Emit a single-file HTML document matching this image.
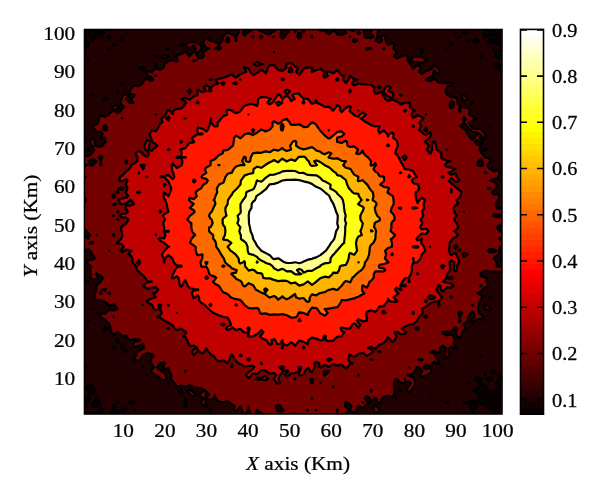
<!DOCTYPE html>
<html><head><meta charset="utf-8"><style>html,body{margin:0;padding:0;background:#fff;width:600px;height:497px;overflow:hidden}svg{display:block;filter:blur(0.35px)}</style></head>
<body><svg width="600" height="497" viewBox="0 0 600 497">
<defs><linearGradient id="hot" x1="0" y1="1" x2="0" y2="0"><stop offset="0.0000" stop-color="#0b0000"/><stop offset="0.0156" stop-color="#0b0000"/><stop offset="0.0156" stop-color="#150000"/><stop offset="0.0312" stop-color="#150000"/><stop offset="0.0312" stop-color="#200000"/><stop offset="0.0469" stop-color="#200000"/><stop offset="0.0469" stop-color="#2a0000"/><stop offset="0.0625" stop-color="#2a0000"/><stop offset="0.0625" stop-color="#350000"/><stop offset="0.0781" stop-color="#350000"/><stop offset="0.0781" stop-color="#400000"/><stop offset="0.0938" stop-color="#400000"/><stop offset="0.0938" stop-color="#4a0000"/><stop offset="0.1094" stop-color="#4a0000"/><stop offset="0.1094" stop-color="#550000"/><stop offset="0.1250" stop-color="#550000"/><stop offset="0.1250" stop-color="#600000"/><stop offset="0.1406" stop-color="#600000"/><stop offset="0.1406" stop-color="#6a0000"/><stop offset="0.1562" stop-color="#6a0000"/><stop offset="0.1562" stop-color="#750000"/><stop offset="0.1719" stop-color="#750000"/><stop offset="0.1719" stop-color="#800000"/><stop offset="0.1875" stop-color="#800000"/><stop offset="0.1875" stop-color="#8a0000"/><stop offset="0.2031" stop-color="#8a0000"/><stop offset="0.2031" stop-color="#950000"/><stop offset="0.2188" stop-color="#950000"/><stop offset="0.2188" stop-color="#9f0000"/><stop offset="0.2344" stop-color="#9f0000"/><stop offset="0.2344" stop-color="#aa0000"/><stop offset="0.2500" stop-color="#aa0000"/><stop offset="0.2500" stop-color="#b50000"/><stop offset="0.2656" stop-color="#b50000"/><stop offset="0.2656" stop-color="#bf0000"/><stop offset="0.2812" stop-color="#bf0000"/><stop offset="0.2812" stop-color="#ca0000"/><stop offset="0.2969" stop-color="#ca0000"/><stop offset="0.2969" stop-color="#d40000"/><stop offset="0.3125" stop-color="#d40000"/><stop offset="0.3125" stop-color="#df0000"/><stop offset="0.3281" stop-color="#df0000"/><stop offset="0.3281" stop-color="#ea0000"/><stop offset="0.3438" stop-color="#ea0000"/><stop offset="0.3438" stop-color="#f40000"/><stop offset="0.3594" stop-color="#f40000"/><stop offset="0.3594" stop-color="#ff0000"/><stop offset="0.3750" stop-color="#ff0000"/><stop offset="0.3750" stop-color="#ff0b00"/><stop offset="0.3906" stop-color="#ff0b00"/><stop offset="0.3906" stop-color="#ff1500"/><stop offset="0.4062" stop-color="#ff1500"/><stop offset="0.4062" stop-color="#ff2000"/><stop offset="0.4219" stop-color="#ff2000"/><stop offset="0.4219" stop-color="#ff2a00"/><stop offset="0.4375" stop-color="#ff2a00"/><stop offset="0.4375" stop-color="#ff3500"/><stop offset="0.4531" stop-color="#ff3500"/><stop offset="0.4531" stop-color="#ff4000"/><stop offset="0.4688" stop-color="#ff4000"/><stop offset="0.4688" stop-color="#ff4a00"/><stop offset="0.4844" stop-color="#ff4a00"/><stop offset="0.4844" stop-color="#ff5500"/><stop offset="0.5000" stop-color="#ff5500"/><stop offset="0.5000" stop-color="#ff6000"/><stop offset="0.5156" stop-color="#ff6000"/><stop offset="0.5156" stop-color="#ff6a00"/><stop offset="0.5312" stop-color="#ff6a00"/><stop offset="0.5312" stop-color="#ff7500"/><stop offset="0.5469" stop-color="#ff7500"/><stop offset="0.5469" stop-color="#ff8000"/><stop offset="0.5625" stop-color="#ff8000"/><stop offset="0.5625" stop-color="#ff8a00"/><stop offset="0.5781" stop-color="#ff8a00"/><stop offset="0.5781" stop-color="#ff9500"/><stop offset="0.5938" stop-color="#ff9500"/><stop offset="0.5938" stop-color="#ff9f00"/><stop offset="0.6094" stop-color="#ff9f00"/><stop offset="0.6094" stop-color="#ffaa00"/><stop offset="0.6250" stop-color="#ffaa00"/><stop offset="0.6250" stop-color="#ffb500"/><stop offset="0.6406" stop-color="#ffb500"/><stop offset="0.6406" stop-color="#ffbf00"/><stop offset="0.6562" stop-color="#ffbf00"/><stop offset="0.6562" stop-color="#ffca00"/><stop offset="0.6719" stop-color="#ffca00"/><stop offset="0.6719" stop-color="#ffd400"/><stop offset="0.6875" stop-color="#ffd400"/><stop offset="0.6875" stop-color="#ffdf00"/><stop offset="0.7031" stop-color="#ffdf00"/><stop offset="0.7031" stop-color="#ffea00"/><stop offset="0.7188" stop-color="#ffea00"/><stop offset="0.7188" stop-color="#fff400"/><stop offset="0.7344" stop-color="#fff400"/><stop offset="0.7344" stop-color="#ffff00"/><stop offset="0.7500" stop-color="#ffff00"/><stop offset="0.7500" stop-color="#ffff10"/><stop offset="0.7656" stop-color="#ffff10"/><stop offset="0.7656" stop-color="#ffff20"/><stop offset="0.7812" stop-color="#ffff20"/><stop offset="0.7812" stop-color="#ffff30"/><stop offset="0.7969" stop-color="#ffff30"/><stop offset="0.7969" stop-color="#ffff40"/><stop offset="0.8125" stop-color="#ffff40"/><stop offset="0.8125" stop-color="#ffff50"/><stop offset="0.8281" stop-color="#ffff50"/><stop offset="0.8281" stop-color="#ffff60"/><stop offset="0.8438" stop-color="#ffff60"/><stop offset="0.8438" stop-color="#ffff70"/><stop offset="0.8594" stop-color="#ffff70"/><stop offset="0.8594" stop-color="#ffff80"/><stop offset="0.8750" stop-color="#ffff80"/><stop offset="0.8750" stop-color="#ffff8f"/><stop offset="0.8906" stop-color="#ffff8f"/><stop offset="0.8906" stop-color="#ffff9f"/><stop offset="0.9062" stop-color="#ffff9f"/><stop offset="0.9062" stop-color="#ffffaf"/><stop offset="0.9219" stop-color="#ffffaf"/><stop offset="0.9219" stop-color="#ffffbf"/><stop offset="0.9375" stop-color="#ffffbf"/><stop offset="0.9375" stop-color="#ffffcf"/><stop offset="0.9531" stop-color="#ffffcf"/><stop offset="0.9531" stop-color="#ffffdf"/><stop offset="0.9688" stop-color="#ffffdf"/><stop offset="0.9688" stop-color="#ffffef"/><stop offset="0.9844" stop-color="#ffffef"/><stop offset="0.9844" stop-color="#ffffff"/><stop offset="1.0000" stop-color="#ffffff"/></linearGradient><clipPath id="cp"><rect x="84" y="29" width="418" height="385"/></clipPath></defs>
<g clip-path="url(#cp)"><path fill="#0b0000" d="M84,414L88.2,414 92.4,414 96.7,414 99.6,414 100.9,413.3 103.5,410.1 100.9,407.3 98.7,410.1 96.7,412.7 92.4,413.3 88.2,411.9 84,412.2 84,414ZM108.6,414L109.3,414 113.6,414 117.8,414 121.7,414 122,412.2 126.2,410.6 126.9,410.1 126.2,407.7 122,409.6 121.2,410.1 117.8,411.2 113.6,410.3 109.3,413.2 108.6,414ZM133.9,410.1L134.7,411.1 135.2,410.1 134.7,409.6 133.9,410.1ZM462.7,414L464,414 466.9,414 464,412.6 462.7,414ZM471.3,410.1L472.4,412.1 474.8,410.1 476.7,407.2 477.3,406.2 476.7,404.9 476.1,402.3 472.4,400.5 468.4,402.3 470.8,406.2 471.3,410.1ZM495.6,414L497.8,414 502,414 502,410.1 502,406.2 502,402.3 502,398.4 502,394.6 502,390.7 502,386.8 502,382.9 502,379 502,375.1 502,373.3 497.8,374.9 497.4,375.1 497.8,375.3 499.4,379 497.8,381.1 495.8,382.9 497.8,384.4 500.6,386.8 497.8,388.5 493.8,390.7 493.6,391.5 489.3,392.6 488.5,390.7 487,386.8 485.1,386.1 481.4,382.9 481.7,379 480.9,378.6 476.7,376 474.9,379 476.7,380.4 479.9,382.9 479.8,386.8 476.7,388.3 472.9,390.7 476.7,391.9 479.5,394.6 478.6,398.4 478.8,402.3 480.9,403.3 485.1,405.2 485.6,406.2 489.3,409.6 493.6,409.8 494.1,410.1 495.6,414ZM485.1,395L484.7,394.6 485.1,394.3 485.9,394.6 485.1,395ZM489.3,398.6L489,398.4 489.3,398 493.6,398.3 497.8,397.5 499.2,398.4 497.8,399.6 493.6,398.5 489.3,398.6ZM84,406.2L84,408.4 86.4,406.2 87.2,402.3 84,401.4 84,402.3 84,406.2ZM91.7,406.2L92.4,406.8 96.7,406.8 97.9,406.2 100,402.3 97.5,398.4 96.7,396.6 95.3,398.4 94,402.3 92.4,405.1 91.7,406.2ZM112.8,406.2L113.6,409.5 114.7,406.2 113.6,404.6 112.8,406.2ZM117.2,402.3L117.8,402.6 118.8,402.3 117.8,402.2 117.2,402.3ZM129.7,402.3L130.4,404.1 134.7,402.8 135.1,402.3 134.7,402 130.4,401.9 129.7,402.3ZM445.7,402.3L447.1,403.4 448.4,402.3 447.1,402 445.7,402.3ZM463.6,402.3L464,403.4 467.5,402.3 464,402 463.6,402.3ZM87.1,398.4L88.2,401.5 90.3,398.4 88.2,395.5 87.1,398.4ZM90.9,394.6L92.4,395.1 93.5,394.6 95,390.7 92.9,386.8 92.4,385.2 88.2,386.2 85.3,386.8 87.8,390.7 88.2,391.3 90.9,394.6ZM467.5,382.9L468.2,383.5 469.9,382.9 468.2,382.2 467.5,382.9ZM84,379L84,379.3 84.6,379 84,378.1 84,379ZM486.6,379L489.3,381.8 492.4,379 489.3,376.9 486.6,379ZM484.6,375.1L485.1,376 485.8,375.1 485.1,374.1 484.6,375.1ZM491.6,371.2L493.6,373.7 495.7,371.2 493.6,370.1 491.6,371.2ZM84,367.3L84,369.7 86.5,367.3 84,365.2 84,367.3ZM480.4,355.7L480.9,356.3 481.5,355.7 480.9,355.3 480.4,355.7ZM84,99L84,99.8 84.6,99 84,98.3 84,99ZM90.9,95.1L92.4,95.7 93.2,95.1 92.4,93.5 90.9,95.1ZM84,83.4L84,83.9 84.5,83.4 84,82.8 84,83.4ZM500.9,75.7L502,76.8 502,75.7 502,71.8 502,67.9 502,66.8 497.9,64 497.8,63.9 493.6,63.8 493.4,64 493.6,64.9 496.1,67.9 497.8,68.1 501.5,71.8 500.9,75.7ZM87.8,60.1L88.2,60.4 88.6,60.1 88.2,59.8 87.8,60.1ZM480.3,56.2L480.9,57.9 482.1,56.2 480.9,55.7 480.3,56.2ZM495.5,56.2L497.8,57.5 502,58.6 502,56.2 502,52.3 502,51.3 497.8,49.6 495.4,52.3 495.5,56.2ZM84,52.3L84,55.1 85.8,52.3 85.2,48.4 84,45.8 84,48.4 84,52.3ZM108.2,48.4L109.3,49.3 110,48.4 109.3,47.6 108.2,48.4ZM446.9,48.4L447.1,48.7 447.4,48.4 447.1,48 446.9,48.4ZM493.3,48.4L493.6,48.7 494,48.4 493.6,48.1 493.3,48.4ZM85.1,44.6L88.2,46 89.4,44.6 88.2,42.4 86.8,40.7 84,37.2 84,40.7 84,43.9 85.1,44.6ZM113.2,44.6L113.6,44.8 115.3,44.6 113.6,44.2 113.2,44.6ZM450.4,44.6L451.3,45.1 452.1,44.6 451.3,43.2 450.4,44.6ZM498.5,44.6L502,46.7 502,44.6 502,40.7 502,36.8 502,32.9 502,29 497.8,29 493.6,29 489.3,29 487,29 485.1,30.8 483.7,32.9 484,36.8 485.1,37.7 486.3,36.8 489.3,35.2 493.6,35 496.1,36.8 493.6,38.9 489.3,39 487.8,40.7 489.3,43.4 493.6,42.9 497.8,44.3 498.5,44.6ZM92.2,40.7L92.4,40.8 92.6,40.7 95.9,36.8 95,32.9 96.7,31.1 97.7,32.9 100.9,36.6 103.9,32.9 103.5,29 100.9,29 96.7,29 94.1,29 92.4,30.2 89,29 88.2,29 87.5,29 84,30 84,32.9 84,36.1 88.2,34.3 90.7,36.8 92.2,40.7ZM120.2,40.7L122,41.2 122.9,40.7 122.4,36.8 122,36.7 121.9,36.8 120.2,40.7ZM468.1,40.7L468.2,40.9 469.6,40.7 468.2,40.5 468.1,40.7ZM472.8,40.7L476.7,42.9 478.5,40.7 476.7,39.1 472.8,40.7ZM107,36.8L109.3,39.4 110.7,36.8 109.3,35.5 107,36.8ZM459.1,36.8L459.8,37.2 460.3,36.8 459.8,35.8 459.1,36.8ZM126.2,32.9L126.2,33.1 126.3,32.9 126.2,32.8 126.2,32.9ZM455.3,32.9L455.6,33.2 456.1,32.9 455.6,32.7 455.3,32.9ZM462.1,32.9L464,33.8 466.7,32.9 464,31.2 462.1,32.9ZM107.4,29L109.3,30.7 111.9,29 109.3,29 107.4,29ZM471.8,29L472.4,29.9 473,29 472.4,29 471.8,29Z"/>
<path fill="#200000" d="M84,410.1L84,412.2 88.2,411.9 92.4,413.3 96.7,412.7 98.7,410.1 100.9,407.3 103.5,410.1 100.9,413.3 99.6,414 100.9,414 105.1,414 108.6,414 109.3,413.2 113.6,410.3 117.8,411.2 121.2,410.1 122,409.6 126.2,407.7 126.9,410.1 126.2,410.6 122,412.2 121.7,414 122,414 126.2,414 130.4,414 134.7,414 138.9,414 143.1,414 147.3,414 151.6,414 155.8,414 160,414 164.2,414 168.4,414 172.7,414 176.9,414 181.1,414 185.3,414 189.6,414 193.8,414 198,414 202.2,414 206.4,414 210.7,414 214.9,414 219.1,414 223.3,414 227.6,414 231.8,414 236,414 240.2,414 242.9,414 242,410.1 240.2,406.5 237.3,410.1 236,411.6 233.9,410.1 234.7,406.2 231.8,404.5 229.6,402.3 227.6,401.1 223.5,402.3 223.3,402.7 222.8,402.3 219.1,401.9 215.5,398.4 214.9,394.9 213.9,398.4 210.7,399.8 206.4,399.1 205.1,402.3 206.4,404.9 207.2,406.2 206.4,407.1 205.2,406.2 202.2,404.8 200.7,402.3 202.2,399.8 205.8,398.4 202.2,397.6 199.1,394.6 202.2,391.8 205.8,390.7 202.2,388.8 198,387.8 193.8,387.5 192.9,386.8 189.6,384.9 185.3,386.7 181.1,385.6 176.9,386.7 174.3,382.9 172.7,380.6 170.7,379 171.4,375.1 169.4,371.2 168.4,368.1 164.2,369.5 162.8,367.3 164.2,365.3 165,363.4 164.2,362.4 160.2,363.4 160,363.5 156.9,367.3 160,370.2 162,371.2 164.2,372.8 165.6,375.1 166.4,379 164.2,380.6 160.9,379 160,377.8 155.8,375.3 155.3,375.1 151.6,372.1 150.9,371.2 151.6,370.2 154.2,367.3 151.6,363.9 151.3,363.4 151.1,359.6 151.6,358.5 153.7,355.7 151.6,354.2 147.3,353 143.1,355.3 142.8,355.7 140.3,359.6 138.9,360.7 134.7,360.4 134.2,359.6 134.7,357.6 136,355.7 137.2,351.8 138.9,351 143.1,348.6 144,347.9 143.4,344 143.1,343.6 142.8,344 138.9,345.8 134.7,347.3 133,344 134.7,341.3 138.9,341 140.1,340.1 138.9,339.5 134.7,339 131.7,340.1 130.4,340.5 129.5,340.1 126.8,336.2 126.2,335.7 122,336 118.2,332.3 117.8,331.6 116.8,332.3 113.6,335.6 111.6,332.3 110.6,328.4 109.6,324.6 109.3,324.3 105.8,320.7 105.1,319.4 100.9,317.6 100,316.8 100.9,313.5 105.1,313.7 105.6,312.9 109.3,309.9 113.6,310.5 117.5,309 114.7,305.1 113.6,304.3 111,305.1 109.3,306.4 108.8,305.1 105.1,302.2 103.2,301.2 100.9,300.2 96.7,300.4 94.2,297.3 95,293.4 96.7,289.6 96.8,289.6 96.7,289.4 96,285.7 96.7,285.2 100.5,281.8 100.9,281.3 102.8,277.9 100.9,275.6 97.1,274 96.7,273.5 95.9,274 96.7,274.7 97.8,277.9 96.7,278.8 92.4,279.6 90.3,277.9 91,274 90.3,270.1 91.3,266.2 88.2,264.4 86.3,262.3 88.2,260.5 92.4,259.7 94.8,258.4 92.5,254.6 92.4,254.5 90.3,250.7 88.2,249 86,250.7 84,252.4 84,254.6 84,258.4 84,262.3 84,266.2 84,270.1 84,274 84,277.9 84,281 87.8,281.8 84,283.8 84,285.7 84,289.6 84,293.4 84,297.3 84,301.2 84,305.1 84,309 84,312.9 84,316.8 84,320.7 84,324.6 84,328.4 84,332.3 84,336.2 84,340.1 84,344 84,347.9 84,351.8 84,355.7 84,359.6 84,363.4 84,365.2 86.5,367.3 84,369.7 84,371.2 84,375.1 84,378.1 84.6,379 84,379.3 84,382.9 84,386.8 84,390.7 84,394.6 84,398.4 84,401.4 87.2,402.3 86.4,406.2 84,408.4 84,410.1ZM88.2,401.5L87.1,398.4 88.2,395.5 90.3,398.4 88.2,401.5ZM92.4,406.8L91.7,406.2 92.4,405.1 94,402.3 95.3,398.4 96.7,396.6 97.5,398.4 100,402.3 97.9,406.2 96.7,406.8 92.4,406.8ZM105.1,330.6L103.4,328.4 105.1,327.2 107.5,328.4 105.1,330.6ZM113.6,409.5L112.8,406.2 113.6,404.6 114.7,406.2 113.6,409.5ZM117.8,402.6L117.2,402.3 117.8,402.2 118.8,402.3 117.8,402.6ZM122,349.6L120.8,347.9 122,344.3 124.6,347.9 122,349.6ZM126.2,352.1L125.2,351.8 126.2,350.2 126.6,351.8 126.2,352.1ZM130.4,404.1L129.7,402.3 130.4,401.9 134.7,402 135.1,402.3 134.7,402.8 130.4,404.1ZM134.7,411.1L133.9,410.1 134.7,409.6 135.2,410.1 134.7,411.1ZM143.1,367.5L142.9,367.3 143.1,366.6 143.3,367.3 143.1,367.5ZM147.3,375.2L147.3,375.1 147.4,375.1 147.3,375.2ZM168.4,383.8L167.6,382.9 168.4,381.9 169.4,382.9 168.4,383.8ZM181.1,395.6L180.5,394.6 178.6,390.7 181.1,389.5 181.9,390.7 182.5,394.6 181.1,395.6ZM185.3,406.9L184.5,406.2 184.6,402.3 185.3,398.9 186.7,402.3 186.6,406.2 185.3,406.9ZM193.8,396.5L190,394.6 189.6,394 187.7,390.7 189.6,389.1 191.1,390.7 193.8,392.7 196.4,394.6 193.8,396.5ZM210.7,411.5L209.2,410.1 210.7,409 211.4,410.1 210.7,411.5ZM92.4,395.1L90.9,394.6 88.2,391.3 87.8,390.7 85.3,386.8 88.2,386.2 92.4,385.2 92.9,386.8 95,390.7 93.5,394.6 92.4,395.1ZM96.7,312.9 96.7,312.8 97.2,312.9 96.7,312.9ZM113.6,348.9L112.2,347.9 113.6,346.7 115,347.9 113.6,348.9ZM117.8,343.5L115.8,340.1 117.8,339.1 118.5,340.1 117.8,343.5ZM88.2,321.4L87.9,320.7 88.2,320.2 89.7,320.7 88.2,321.4ZM92.4,309.3L92.1,309 92.4,308.6 93.7,309 92.4,309.3ZM244.6,414L248.7,414 251,414 248.9,410.1 248.8,406.2 248.7,406.1 248.6,406.2 248.6,410.1 244.6,414ZM255.9,414L257.1,414 261.3,414 264.5,414 261.3,413.2 257.4,410.1 257.1,410 256.8,410.1 255.9,414ZM277,410.1L278.2,411.6 282.4,411.4 283.6,410.1 282.4,409.2 280.5,406.2 278.2,404.4 276,406.2 277,410.1ZM290.2,414L290.9,414 295.1,414 295.2,414 295.1,413.7 290.9,413.8 290.2,414ZM307.2,410.1L307.8,410.4 308,410.1 307.8,409.3 307.2,410.1ZM315.8,410.1L316.2,410.4 316.5,410.1 316.2,409.9 315.8,410.1ZM320.2,414L320.4,414 320.9,414 320.4,413.8 320.2,414ZM336.8,410.1L337.3,411.8 337.9,410.1 337.3,409.6 336.8,410.1ZM345.4,414L345.8,414 350,414 354.2,414 358.4,414 362.7,414 366.9,414 371.1,414 375.3,414 379.6,414 383.8,414 388,414 392.2,414 396.4,414 400.7,414 404.9,414 409.1,414 413.3,414 417.6,414 421.8,414 426,414 430.2,414 434.4,414 438.7,414 442.9,414 447.1,414 451.3,414 455.6,414 459.8,414 462.7,414 464,412.6 466.9,414 468.2,414 472.4,414 476.7,414 480.9,414 485.1,414 489.3,414 493.6,414 495.6,414 494.1,410.1 493.6,409.8 489.3,409.6 485.6,406.2 485.1,405.2 480.9,403.3 478.8,402.3 478.6,398.4 479.5,394.6 476.7,391.9 472.9,390.7 476.7,388.3 479.8,386.8 479.9,382.9 476.7,380.4 474.9,379 476.7,376 480.9,378.6 481.7,379 481.4,382.9 485.1,386.1 487,386.8 488.5,390.7 489.3,392.6 493.6,391.5 493.8,390.7 497.8,388.5 500.6,386.8 497.8,384.4 495.8,382.9 497.8,381.1 499.4,379 497.8,375.3 497.4,375.1 497.8,374.9 502,373.3 502,371.2 502,367.3 502,363.4 502,359.6 502,355.7 502,351.8 502,347.9 502,344 502,340.1 502,336.2 502,332.3 502,328.4 502,324.6 502,320.7 502,316.8 502,312.9 502,309 502,305.1 502,301.2 502,297.3 502,293.4 502,289.6 502,285.7 502,281.8 502,277.9 502,274 502,272.6 497.8,271.6 493.6,271.6 489.3,271.6 485.1,270.6 480.9,273.3 480.4,274 480.9,276.3 485.1,277.4 486.7,277.9 486.3,281.8 488.9,285.7 485.1,287.2 482.5,289.6 480.9,291.7 477.4,293.4 480.9,295.3 482.3,297.3 480.9,299.8 479.9,301.2 478.6,305.1 478.5,309 478.7,312.9 480.9,314.4 483.9,316.8 480.9,318.7 476.7,319.3 474.8,320.7 472.4,322.1 468.7,320.7 472.4,319.1 474.6,316.8 473.9,312.9 472.4,311.6 471.1,312.9 468.3,316.8 468.2,317.7 468,320.7 464,324.2 463,324.6 464,325.6 466.2,328.4 464,330 462.1,332.3 461.4,336.2 459.8,337.6 456.5,336.2 455.9,332.3 457.2,328.4 455.6,327.4 454.3,328.4 451.3,331.7 447.1,331.8 442.9,331.8 442.2,332.3 442.9,333.4 447.1,335.4 451.3,334.4 453.6,336.2 454.5,340.1 453.6,344 455.6,346.4 456.4,347.9 455.6,348.4 453.3,347.9 451.3,346.7 449.1,347.9 448.3,351.8 449,355.7 447.1,357.6 444.5,355.7 445.4,351.8 446,347.9 442.9,345.7 440.1,347.9 440.1,351.8 438.7,352.8 436,351.8 434.4,350.7 430.2,351.7 430.2,351.8 430.2,351.9 434.4,353.6 435.3,355.7 437.4,359.6 438.7,361.5 439.4,363.4 438.7,364.3 437.2,363.4 434.4,361.7 432.2,363.4 430.2,366.9 426,364.1 423.2,367.3 426,369.1 430.2,367.6 431.4,371.2 430.2,373.5 426.8,375.1 426,376 421.8,376.4 419.4,375.1 421.8,372.6 422.3,371.2 421.8,370.2 418.5,367.3 417.6,367 416.9,367.3 414.9,371.2 413.3,373.4 409.1,374.5 407.4,375.1 409.1,375.7 413.3,377.7 414.7,379 415.1,382.9 414,386.8 413.3,387.6 410.8,390.7 409.1,393.1 407.2,390.7 407.6,386.8 409.1,386 410.8,382.9 409.1,381 405.2,382.9 404.9,383.4 402.4,382.9 400.7,382.8 396.7,379 396.4,378.8 395.5,379 394,382.9 394.5,386.8 394.2,390.7 394.5,394.6 392.2,397 388,395.9 383.8,397 381.8,398.4 380.9,402.3 379.6,403.8 377.8,402.3 375.9,398.4 375.3,398.2 374.5,398.4 371.1,401.8 369.9,398.4 366.9,395.8 364.9,398.4 366.9,401.4 370.4,402.3 366.9,403.9 365,406.2 362.7,407.9 359.2,406.2 358.4,405.9 358,406.2 356.9,410.1 354.2,413 350,410.1 351.4,406.2 350,404.6 347.2,402.3 345.8,401.6 345.3,402.3 344.9,406.2 345.8,406.8 349.9,410.1 345.8,413.7 345.4,414ZM375.3,413.1L373.2,410.1 374,406.2 375.3,405.2 376.4,406.2 379.6,409.1 381,410.1 379.6,410.9 375.3,413.1ZM396.4,398.5L396.1,398.4 396.4,398.2 396.7,398.4 396.4,398.5ZM400.7,391.2L399.6,390.7 400.7,389.8 401.7,390.7 400.7,391.2ZM430.2,394.6L430.1,394.6 430.2,394.4 430.3,394.6 430.2,394.6ZM442.9,367.6L442.5,367.3 442.9,367.1 443.2,367.3 442.9,367.6ZM447.1,403.4L445.7,402.3 447.1,402 448.4,402.3 447.1,403.4ZM464,403.4L463.6,402.3 464,402 467.5,402.3 464,403.4ZM468.2,383.5L467.5,382.9 468.2,382.2 469.9,382.9 468.2,383.5ZM472.4,412.1L471.3,410.1 470.8,406.2 468.4,402.3 472.4,400.5 476.1,402.3 476.7,404.9 477.3,406.2 476.7,407.2 474.8,410.1 472.4,412.1ZM480.9,356.3L480.4,355.7 480.9,355.3 481.5,355.7 480.9,356.3ZM485.1,376L484.6,375.1 485.1,374.1 485.8,375.1 485.1,376ZM489.3,381.8L486.6,379 489.3,376.9 492.4,379 489.3,381.8ZM493.6,373.7L491.6,371.2 493.6,370.1 495.7,371.2 493.6,373.7ZM485.1,320.9L484.9,320.7 485.1,320.2 485.3,320.7 485.1,320.9ZM485.1,309.1L485,309 484.2,305.1 485.1,304.4 486.1,305.1 489.3,307.2 491.1,309 489.3,310.6 485.1,309.1ZM489.3,297.9L489,297.3 489.3,296.3 490.4,297.3 489.3,297.9ZM362.5,402.3L362.7,402.6 363.2,402.3 362.7,402.2 362.5,402.3ZM311.6,398.4L312,398.6 312.2,398.4 312,398.3 311.6,398.4ZM489,398.4L489.3,398.6 493.6,398.5 497.8,399.6 499.2,398.4 497.8,397.5 493.6,398.3 489.3,398 489,398.4ZM205.7,394.6L206.4,397.7 209.3,394.6 206.4,391.6 205.7,394.6ZM484.7,394.6L485.1,395 485.9,394.6 485.1,394.3 484.7,394.6ZM370.6,390.7L371.1,391.8 371.7,390.7 371.1,389.7 370.6,390.7ZM404.8,379L404.9,380.4 405,379 404.9,378.5 404.8,379ZM184.6,371.2L185.3,371.8 185.9,371.2 185.3,370.8 184.6,371.2ZM408.9,367.3L409.1,367.5 409.3,367.3 409.1,367.2 408.9,367.3ZM418.1,359.6L421.8,360.8 422.7,359.6 421.8,359 418.1,359.6ZM458.9,320.7L459.8,322.3 460.5,320.7 460.1,316.8 462.2,312.9 459.8,311.6 458.2,312.9 459.7,316.8 458.9,320.7ZM113.4,316.8L113.6,316.9 113.6,316.8 113.6,316.6 113.4,316.8ZM472.3,305.1L472.4,305.5 472.7,305.1 472.4,304.9 472.3,305.1ZM99.8,293.4L100.9,293.7 101.7,293.4 100.9,291.7 99.8,293.4ZM107.7,293.4L109.3,293.9 110.3,293.4 109.3,292.6 107.7,293.4ZM102.4,289.6L105.1,290.9 105.9,289.6 105.1,288.9 102.4,289.6ZM480.3,285.7L480.9,286.4 481.7,285.7 480.9,284.3 480.3,285.7ZM496.7,266.2L497.8,266.9 500.5,266.2 502,263.7 502,262.3 502,261.9 500.5,258.4 502,256.2 502,254.6 502,250.7 502,246.8 502,246.1 500,246.8 499.1,250.7 498.3,254.6 497.8,254.8 493.7,258.4 496.7,262.3 496.7,266.2ZM488.1,250.7L489.3,252.2 493.6,252.3 496.5,250.7 493.6,249.4 489.3,248.9 488.1,250.7ZM84,246.8L84,247.3 84.4,246.8 84,246.4 84,246.8ZM89.1,242.9L92.4,243.7 93,242.9 92.4,241.9 89.1,242.9ZM499.2,239L502,240.8 502,239 502,236.6 499.2,239ZM84.2,235.1L88.2,238.7 89.9,235.1 88.2,232.6 86.4,231.2 84,228.3 84,231.2 84,234.9 84.2,235.1ZM96.5,235.1L96.7,235.2 97,235.1 96.7,235 96.5,235.1ZM500.2,231.2L502,232.8 502,231.2 502,227.3 502,225.2 497.8,225.8 497.2,227.3 497.8,228.5 500.2,231.2ZM493.1,215.7L493.6,216 497.8,217.3 501.4,215.7 497.8,214 493.6,214.6 493.1,215.7ZM502,211.8ZM497,207.9L497.8,208.9 501.1,207.9 502,206.7 502,204 502,200.1 502,196.2 502,192.3 502,188.4 502,184.6 502,181.2 500.4,180.7 502,180.2 502,176.8 502,172.9 502,169 502,165.1 502,161.2 502,157.3 502,153.4 502,149.6 502,145.7 502,141.8 502,137.9 502,134 502,130.1 502,126.2 502,122.3 502,118.4 502,114.6 502,110.7 502,106.8 502,102.9 502,99 502,95.1 502,91.2 502,87.3 502,83.4 502,79.6 502,76.8 500.9,75.7 501.5,71.8 497.8,68.1 496.1,67.9 493.6,64.9 493.4,64 493.6,63.8 497.8,63.9 497.9,64 502,66.8 502,64 502,60.1 502,58.6 497.8,57.5 495.5,56.2 495.4,52.3 497.8,49.6 502,51.3 502,48.4 502,46.7 498.5,44.6 497.8,44.3 493.6,42.9 489.3,43.4 487.8,40.7 489.3,39 493.6,38.9 496.1,36.8 493.6,35 489.3,35.2 486.3,36.8 485.1,37.7 484,36.8 483.7,32.9 485.1,30.8 487,29 485.1,29 480.9,29 476.7,29 473,29 472.4,29.9 471.8,29 468.2,29 464,29 459.8,29 455.6,29 451.3,29 447.1,29 442.9,29 438.7,29 434.4,29 430.2,29 426,29 421.8,29 417.6,29 413.3,29 409.1,29 404.9,29 400.7,29 396.4,29 392.2,29 388,29 383.8,29 379.6,29 379,29 377.7,32.9 377.4,36.8 375.6,40.7 379.6,42.8 382,40.7 380.5,36.8 383.8,35.4 385.5,36.8 385.6,40.7 387.6,44.6 388,44.9 388.8,44.6 392.2,43.3 394.7,44.6 393.3,48.4 396.4,52.2 396.9,52.3 396.4,52.8 393.9,56.2 396.4,58.2 400.7,56.7 402.1,56.2 404.9,55.3 407.8,56.2 407.7,60.1 409.1,62.3 410.1,64 412.8,67.9 413.3,68.9 413.8,67.9 417.6,64.8 421,67.9 419.1,71.8 421.8,74 425,71.8 426,71.1 430.2,69.6 432.5,67.9 434.4,64 434.4,63.9 434.5,64 437.2,67.9 438.7,68.7 440.1,71.8 438.7,74.3 435.4,71.8 434.4,70.4 433.3,71.8 433.2,75.7 430.2,77 426,79.5 426,79.6 430.2,81.2 433.3,79.6 434.4,77.1 435.6,79.6 438.7,83 442.9,83 447.1,83.4 451.3,82.5 453.4,83.4 451.3,85.3 447.1,86.6 447.1,87.3 445.3,91.2 447.1,94.7 447.6,95.1 451.3,97.2 455.6,97.4 457.2,99 457.4,102.9 459.8,106 461.1,106.8 464,107.4 468.2,108.1 470.1,110.7 469,114.6 472.4,116.4 476.6,118.4 472.4,120.8 468.7,122.3 470.5,126.2 472.4,128.1 476.7,129.1 480.9,128.4 481.9,130.1 485.1,133.9 485.2,134 485.9,137.9 485.1,139.5 483.1,137.9 480.9,134.9 479.9,137.9 480.9,139.7 482.8,141.8 480.9,145.6 479.7,141.8 476.7,140 474.6,141.8 476.7,144.3 480.8,145.7 479.3,149.6 480.9,152 482.1,153.4 484.9,157.3 485.1,157.4 489.3,158.2 490.3,161.2 489.3,162.9 486.9,165.1 489.3,168.5 490.4,169 493.6,171.2 497.8,169.7 499.3,172.9 498.3,176.8 497.8,178.4 493.6,179.1 490.1,180.7 493.6,181.4 497,184.6 495.9,188.4 493.6,190.1 492,192.3 493.6,194.6 497.8,193.6 499,196.2 498.2,200.1 497.8,201.1 495.2,204 497,207.9ZM493.6,48.7L493.3,48.4 493.6,48.1 494,48.4 493.6,48.7ZM413.3,61.8L410.5,60.1 413.3,56.5 417.6,56.7 421.8,57 426,59.6 427.7,60.1 426,60.8 421.8,63.4 417.6,62.1 413.3,61.8ZM447.1,48.7L446.9,48.4 447.1,48 447.4,48.4 447.1,48.7ZM451.3,45.1L450.4,44.6 451.3,43.2 452.1,44.6 451.3,45.1ZM455.6,33.2L455.3,32.9 455.6,32.7 456.1,32.9 455.6,33.2ZM459.8,37.2L459.1,36.8 459.8,35.8 460.3,36.8 459.8,37.2ZM464,101.1L462,99 462.2,95.1 464,94.9 464.2,95.1 467.9,99 464,101.1ZM468.2,40.9L468.1,40.7 468.2,40.5 469.6,40.7 468.2,40.9ZM472.4,104L471.9,102.9 472.4,102 473,102.9 472.4,104ZM476.7,42.9L472.8,40.7 476.7,39.1 478.5,40.7 476.7,42.9ZM480.9,57.9L480.3,56.2 480.9,55.7 482.1,56.2 480.9,57.9ZM485.1,150.7L483.6,149.6 485.1,148.1 487.5,149.6 485.1,150.7ZM489.3,126.3L488.9,126.2 489.3,126.2 489.4,126.2 489.3,126.3ZM421.8,53.1L421.3,52.3 420.7,48.4 421.8,47.8 422.2,48.4 422,52.3 421.8,53.1ZM464,33.8L462.1,32.9 464,31.2 466.7,32.9 464,33.8ZM84,200.1L84,203.5 85.8,200.1 84,197.1 84,200.1ZM487.6,188.4L489.3,189 490.6,188.4 489.3,187.5 487.6,188.4ZM84,176.8L84,177.9 85.5,176.8 84,175.7 84,176.8ZM485,172.9L485.1,172.9 486.3,172.9 485.1,171.9 485,172.9ZM84,165.1L84,166.3 87.1,165.1 84,164.2 84,165.1ZM89.6,165.1L92.4,165.8 92.9,165.1 96.7,161.2 92.4,158.9 88.6,161.2 89.6,165.1ZM100.5,165.1L100.9,165.4 101.4,165.1 100.9,161.8 100.5,165.1ZM477.4,165.1L480.9,166.3 483.1,165.1 482.5,161.2 480.9,158.7 478.2,161.2 477.4,165.1ZM98.9,157.3L100.9,161.1 102.2,157.3 100.9,155.8 98.9,157.3ZM84,153.4L84,156.1 88.2,156.3 91.8,153.4 92.4,152.6 94.2,149.6 92.4,146.6 91.7,145.7 89.7,141.8 92,137.9 92.4,137.6 92.9,137.9 95,141.8 94.8,145.7 96.7,146.3 100.9,146.6 102.6,145.7 105.1,142.2 105.7,141.8 105.2,137.9 105.1,137.6 102.8,137.9 100.9,139 100.7,137.9 100.9,137.5 102.6,134 100.9,131.7 96.7,132.1 95.3,130.1 92.4,126.4 92.3,126.2 92.4,125.9 96.7,124.4 98.2,122.3 98.8,118.4 100.9,115.6 105.1,116.9 108.9,114.6 109.3,113.7 113.1,110.7 112.5,106.8 113.6,106 117.8,105.5 120,106.8 117.8,108.3 113.9,110.7 117.8,113.3 120.9,110.7 122,109.2 124.2,106.8 122,105.1 120.5,102.9 121.6,99 122,97.8 123.4,95.1 126.2,94.2 129.4,95.1 126.2,98.9 125.9,99 126.2,99.3 129.9,102.9 130.4,103 133.3,102.9 131.2,99 134.7,95.2 135.1,95.1 134.7,95 130.4,93.8 129.7,91.2 130.4,90 132.2,87.3 134.7,85.4 138.9,86.2 142.5,83.4 143.1,81.3 145.2,79.6 147.3,77.2 148,79.6 151.6,81 153.2,79.6 151.6,77 148.2,75.7 147.3,74.3 145.5,71.8 147.3,71.1 150,71.8 151.6,72.6 152,71.8 155.7,67.9 155.4,64 155.8,63.8 156,64 155.8,67.9 160,69.9 163.6,67.9 164.2,64.6 164.4,64 168.4,61.1 172.7,60.2 176.9,61.7 177.7,60.1 176.9,57.5 174.9,56.2 176.9,55.2 181.1,54 184.3,52.3 185.3,51.8 186.3,52.3 189.5,56.2 189.6,56.2 193.3,52.3 193.8,52 195.7,48.4 193.8,45.2 190,48.4 189.6,49.1 189.2,48.4 185.3,45 181.1,45.5 180.3,44.6 181.1,43.8 185.3,44.3 189.6,42.3 193.8,41.8 198,43.8 200,44.6 202.2,48.4 198,51.9 195.3,52.3 197.9,56.2 198,58.3 202.2,57.6 203.8,56.2 203.2,52.3 206.4,49.7 209.4,48.4 206.4,47.8 203.4,44.6 203.7,40.7 206.4,38.5 210.5,40.7 210.7,40.9 214.9,42 219.1,44 222.3,40.7 223,36.8 223.3,36.6 226.7,32.9 227.6,31.9 228.8,32.9 231.8,34.4 236,36.8 235.6,40.7 236,40.9 236.4,40.7 236,36.8 238.5,32.9 238.5,29 236,29 233.1,29 231.8,29.6 231.2,29 227.6,29 223.3,29 219.1,29 215.4,29 214.9,29.5 214.3,29 210.7,29 206.4,29 202.2,29 198,29 193.8,29 189.6,29 185.3,29 181.1,29 176.9,29 172.7,29 168.4,29 164.2,29 160,29 155.8,29 151.6,29 147.3,29 143.1,29 138.9,29 134.7,29 130.4,29 126.2,29 122,29 117.8,29 113.6,29 111.9,29 109.3,30.7 107.4,29 105.1,29 103.5,29 103.9,32.9 100.9,36.6 97.7,32.9 96.7,31.1 95,32.9 95.9,36.8 92.6,40.7 92.4,40.8 92.2,40.7 90.7,36.8 88.2,34.3 84,36.1 84,36.8 84,37.2 86.8,40.7 88.2,42.4 89.4,44.6 88.2,46 85.1,44.6 84,43.9 84,44.6 84,45.8 85.2,48.4 85.8,52.3 84,55.1 84,56.2 84,60.1 84,64 84,67.9 84,71.8 84,75.7 84,79.6 84,82.8 84.5,83.4 84,83.9 84,87.3 84,91.2 84,95.1 84,98.3 84.6,99 84,99.8 84,102.9 84,106.8 84,110.7 84,114.6 84,118.4 84,122.3 84,126.2 84,130.1 84,134 84,137.9 84,140.6 85.8,141.8 84,142.6 84,145.7 84,149.6 84,153.4ZM88.2,150.7L86.2,149.6 88.2,148.4 89.8,149.6 88.2,150.7ZM92.4,95.7L90.9,95.1 92.4,93.5 93.2,95.1 92.4,95.7ZM105.1,100.7L103.1,99 105.1,97.6 107.7,99 105.1,100.7ZM109.3,49.3L108.2,48.4 109.3,47.6 110,48.4 109.3,49.3ZM113.6,44.8L113.2,44.6 113.6,44.2 115.3,44.6 113.6,44.8ZM117.8,92.1L117.5,91.2 117.8,90.9 117.9,91.2 117.8,92.1ZM122,83.6L121.2,83.4 122,83.2 122.3,83.4 122,83.6ZM126.2,33.1L126.2,32.9 126.2,32.8 126.3,32.9 126.2,33.1ZM138.9,68L138.7,67.9 138.9,67.8 143.1,67.4 144.2,67.9 143.1,70.1 138.9,68ZM155.8,57L155.2,56.2 155.8,55.5 159.2,56.2 155.8,57ZM164.2,59.2L160.6,56.2 164.2,55.3 168.3,56.2 164.2,59.2ZM168.4,48.8L166.3,48.4 168.4,48.2 168.7,48.4 168.4,48.8ZM172.7,53.2L172.5,52.3 172.7,52.2 173.1,52.3 172.7,53.2ZM88.2,60.4L87.8,60.1 88.2,59.8 88.6,60.1 88.2,60.4ZM109.3,39.4L107,36.8 109.3,35.5 110.7,36.8 109.3,39.4ZM122,41.2L120.2,40.7 121.9,36.8 122,36.7 122.4,36.8 122.9,40.7 122,41.2ZM470.6,137.9L472.4,139.9 474.4,137.9 476.7,134.7 479.6,134 476.7,132.5 472.4,132.2 470.5,130.1 468.2,128.2 467.1,126.2 464,122.6 460.2,126.2 464,129.2 466,130.1 467,134 468.2,135 470.6,137.9ZM103.7,130.1L105.1,130.8 106.8,130.1 106.3,126.2 105.1,125 103.3,126.2 103.7,130.1ZM121.8,118.4L122,118.6 122.6,118.4 122,118.1 121.8,118.4ZM462.9,118.4L464,122 465.6,118.4 464,117.2 462.9,118.4ZM458.9,110.7L459.8,112.1 460.7,110.7 459.8,107.6 458.9,110.7ZM449.9,106.8L451.3,108.1 453.2,106.8 454,102.9 451.3,101.1 449.7,102.9 449.9,106.8ZM155.2,75.7L155.8,75.9 156.6,75.7 155.8,75.4 155.2,75.7ZM193.5,60.1L193.8,61.4 196.2,60.1 193.8,60 193.5,60.1ZM214.8,48.4L214.9,48.5 219.1,49.6 221.1,48.4 219.1,46 214.9,48.4 214.8,48.4ZM366.1,48.4L366.9,49.6 371.1,48.5 371.2,48.4 371.1,48.2 366.9,47.9 366.1,48.4ZM383,48.4L383.8,49.2 384.4,48.4 383.8,47.9 383,48.4ZM225.5,40.7L227.6,42.8 229.6,40.7 227.6,37.1 225.5,40.7ZM352.7,40.7L354.2,42.1 357.7,40.7 354.2,38.9 352.7,40.7ZM251.5,36.8L252.9,37.5 253.4,36.8 252.9,35.9 251.5,36.8ZM260.3,36.8L261.3,38.3 262.1,36.8 261.3,35.6 260.3,36.8ZM273.4,36.8L274,36.9 274.2,36.8 274,36.4 273.4,36.8ZM280.7,36.8L282.4,39 284.5,36.8 286.7,33.7 287.9,32.9 289.5,29 286.7,29 282.5,29 282.4,29 280.6,32.9 280.7,36.8ZM297.4,36.8L299.3,38.7 301.3,36.8 301,32.9 299.3,32.7 297.9,32.9 297.4,36.8ZM310.9,36.8L312,37.5 312.5,36.8 312,35.5 310.9,36.8ZM349.7,36.8L350,37 350.3,36.8 350,36.5 349.7,36.8ZM364.7,36.8L366.9,38 371.1,38.1 373.7,36.8 371.1,34 369.8,32.9 371.1,31.5 372.2,29 371.1,29 366.9,29 363.6,29 364.4,32.9 364.7,36.8ZM242.5,32.9L244.4,35.7 247.2,32.9 248.7,32.1 252.9,29.3 253.7,29 252.9,29 248.7,29 245.4,29 244.4,30.4 242.5,32.9ZM264.5,32.9L265.6,33.5 269.8,34.5 271.2,32.9 274,31.6 276.8,29 274,29 270.7,29 269.8,31.1 268.2,29 265.6,29 261.3,29 257.7,29 261.3,31.3 264.5,32.9ZM326.8,32.9L328.9,34.2 330.6,32.9 333.1,30.6 336.6,32.9 337.3,34.6 341.6,34.9 345.8,33.5 346.5,32.9 345.8,32.3 342.9,29 341.6,29 337.3,29 333.1,29 328.9,29 324.7,29 320.4,29 319.1,29 320.4,30.5 324.7,30.5 326.8,32.9ZM357.4,32.9L358.4,34.2 360.2,32.9 358.4,31.7 357.4,32.9ZM84,29L84,30 87.5,29 84,29ZM89,29L92.4,30.2 94.1,29 92.4,29 89,29ZM293.8,29L295.1,32.2 296.4,29 295.1,29 293.8,29ZM302.2,29L303.6,32.3 305.4,29 303.6,29 302.2,29ZM348.9,29L350,30.1 354.2,30.8 356.4,29 354.2,29 350,29 348.9,29Z"/>
<path fill="#750000" d="M209.2,410.1L210.7,411.5 211.4,410.1 210.7,409 209.2,410.1ZM233.9,410.1L236,411.6 237.3,410.1 240.2,406.5 242,410.1 242.9,414 244.4,414 244.6,414 248.6,410.1 248.6,406.2 248.7,406.1 248.8,406.2 248.9,410.1 251,414 252.9,414 255.9,414 256.8,410.1 257.1,410 257.4,410.1 261.3,413.2 264.5,414 265.6,414 269.8,414 274,414 278.2,414 282.4,414 286.7,414 290.2,414 290.9,413.8 295.1,413.7 295.2,414 299.3,414 303.6,414 307.8,414 312,414 316.2,414 320.2,414 320.4,413.8 320.9,414 324.7,414 328.9,414 333.1,414 337.3,414 341.6,414 345.4,414 345.8,413.7 349.9,410.1 345.8,406.8 344.9,406.2 345.3,402.3 345.8,401.6 347.2,402.3 350,404.6 351.4,406.2 350,410.1 354.2,413 356.9,410.1 358,406.2 358.4,405.9 359.2,406.2 362.7,407.9 365,406.2 366.9,403.9 370.4,402.3 366.9,401.4 364.9,398.4 366.9,395.8 369.9,398.4 371.1,401.8 374.5,398.4 375.3,398.2 375.9,398.4 377.8,402.3 379.6,403.8 380.9,402.3 381.8,398.4 383.8,397 388,395.9 392.2,397 394.5,394.6 394.2,390.7 394.5,386.8 394,382.9 395.5,379 396.4,378.8 396.7,379 400.7,382.8 402.4,382.9 404.9,383.4 405.2,382.9 409.1,381 410.8,382.9 409.1,386 407.6,386.8 407.2,390.7 409.1,393.1 410.8,390.7 413.3,387.6 414,386.8 415.1,382.9 414.7,379 413.3,377.7 409.1,375.7 407.4,375.1 409.1,374.5 413.3,373.4 414.9,371.2 416.9,367.3 417.6,367 418.5,367.3 421.8,370.2 422.3,371.2 421.8,372.6 419.4,375.1 421.8,376.4 426,376 426.8,375.1 430.2,373.5 431.4,371.2 430.2,367.6 426,369.1 423.2,367.3 426,364.1 430.2,366.9 432.2,363.4 434.4,361.7 437.2,363.4 438.7,364.3 439.4,363.4 438.7,361.5 437.4,359.6 435.3,355.7 434.4,353.6 430.2,351.9 430.2,351.8 430.2,351.7 434.4,350.7 436,351.8 438.7,352.8 440.1,351.8 440.1,347.9 442.9,345.7 446,347.9 445.4,351.8 444.5,355.7 447.1,357.6 449,355.7 448.3,351.8 449.1,347.9 451.3,346.7 453.3,347.9 455.6,348.4 456.4,347.9 455.6,346.4 453.6,344 454.5,340.1 453.6,336.2 451.3,334.4 447.1,335.4 442.9,333.4 442.2,332.3 442.9,331.8 447.1,331.8 451.3,331.7 454.3,328.4 455.6,327.4 457.2,328.4 455.9,332.3 456.5,336.2 459.8,337.6 461.4,336.2 462.1,332.3 464,330 466.2,328.4 464,325.6 463,324.6 464,324.2 468,320.7 468.2,317.7 468.3,316.8 471.1,312.9 472.4,311.6 473.9,312.9 474.6,316.8 472.4,319.1 468.7,320.7 472.4,322.1 474.8,320.7 476.7,319.3 480.9,318.7 483.9,316.8 480.9,314.4 478.7,312.9 478.5,309 478.6,305.1 479.9,301.2 480.9,299.8 482.3,297.3 480.9,295.3 477.4,293.4 480.9,291.7 482.5,289.6 485.1,287.2 488.9,285.7 486.3,281.8 486.7,277.9 485.1,277.4 480.9,276.3 480.4,274 480.9,273.3 485.1,270.6 489.3,271.6 493.6,271.6 497.8,271.6 502,272.6 502,270.1 502,266.2 502,263.7 500.5,266.2 497.8,266.9 496.7,266.2 496.7,262.3 493.7,258.4 497.8,254.8 498.3,254.6 499.1,250.7 500,246.8 502,246.1 502,242.9 502,240.8 499.2,239 502,236.6 502,235.1 502,232.8 500.2,231.2 497.8,228.5 497.2,227.3 497.8,225.8 502,225.2 502,223.4 502,219.6 502,215.7 502,211.8 502,207.9 502,206.7 501.1,207.9 497.8,208.9 497,207.9 495.2,204 497.8,201.1 498.2,200.1 499,196.2 497.8,193.6 493.6,194.6 492,192.3 493.6,190.1 495.9,188.4 497,184.6 493.6,181.4 490.1,180.7 493.6,179.1 497.8,178.4 498.3,176.8 499.3,172.9 497.8,169.7 493.6,171.2 490.4,169 489.3,168.5 486.9,165.1 489.3,162.9 490.3,161.2 489.3,158.2 485.1,157.4 484.9,157.3 482.1,153.4 480.9,152 479.3,149.6 480.8,145.7 476.7,144.3 474.6,141.8 476.7,140 479.7,141.8 480.9,145.6 482.8,141.8 480.9,139.7 479.9,137.9 480.9,134.9 483.1,137.9 485.1,139.5 485.9,137.9 485.2,134 485.1,133.9 481.9,130.1 480.9,128.4 476.7,129.1 472.4,128.1 470.5,126.2 468.7,122.3 472.4,120.8 476.6,118.4 472.4,116.4 469,114.6 470.1,110.7 468.2,108.1 464,107.4 461.1,106.8 459.8,106 457.4,102.9 457.2,99 455.6,97.4 451.3,97.2 447.6,95.1 447.1,94.7 445.3,91.2 447.1,87.3 447.1,86.6 451.3,85.3 453.4,83.4 451.3,82.5 447.1,83.4 442.9,83 438.7,83 435.6,79.6 434.4,77.1 433.3,79.6 430.2,81.2 426,79.6 426,79.5 430.2,77 433.2,75.7 433.3,71.8 434.4,70.4 435.4,71.8 438.7,74.3 440.1,71.8 438.7,68.7 437.2,67.9 434.5,64 434.4,63.9 434.4,64 432.5,67.9 430.2,69.6 426,71.1 425,71.8 421.8,74 419.1,71.8 421,67.9 417.6,64.8 413.8,67.9 413.3,68.9 412.8,67.9 410.1,64 409.1,62.3 407.7,60.1 407.8,56.2 404.9,55.3 402.1,56.2 400.7,56.7 396.4,58.2 393.9,56.2 396.4,52.8 396.9,52.3 396.4,52.2 393.3,48.4 394.7,44.6 392.2,43.3 388.8,44.6 388,44.9 387.6,44.6 385.6,40.7 385.5,36.8 383.8,35.4 380.5,36.8 382,40.7 379.6,42.8 375.6,40.7 377.4,36.8 377.7,32.9 379,29 375.3,29 372.2,29 371.1,31.5 369.8,32.9 371.1,34 373.7,36.8 371.1,38.1 366.9,38 364.7,36.8 364.4,32.9 363.6,29 362.7,29 358.4,29 356.4,29 354.2,30.8 350,30.1 348.9,29 345.8,29 342.9,29 345.8,32.3 346.5,32.9 345.8,33.5 341.6,34.9 337.3,34.6 336.6,32.9 333.1,30.6 330.6,32.9 328.9,34.2 326.8,32.9 324.7,30.5 320.4,30.5 319.1,29 316.2,29 312,29 307.8,29 305.4,29 303.6,32.3 302.2,29 299.3,29 296.4,29 295.1,32.2 293.8,29 290.9,29 289.5,29 287.9,32.9 286.7,33.7 284.5,36.8 282.4,39 280.7,36.8 280.6,32.9 282.4,29 282.5,29 282.4,29 278.2,29 276.8,29 274,31.6 271.2,32.9 269.8,34.5 265.6,33.5 264.5,32.9 261.3,31.3 257.7,29 257.1,29 253.7,29 252.9,29.3 248.7,32.1 247.2,32.9 244.4,35.7 242.5,32.9 244.4,30.4 245.4,29 244.4,29 240.2,29 238.5,29 238.5,32.9 236,36.8 236.4,40.7 236,40.9 235.6,40.7 236,36.8 231.8,34.4 228.8,32.9 227.6,31.9 226.7,32.9 223.3,36.6 223,36.8 222.3,40.7 219.1,44 214.9,42 210.7,40.9 210.5,40.7 206.4,38.5 203.7,40.7 203.4,44.6 206.4,47.8 209.4,48.4 206.4,49.7 203.2,52.3 203.8,56.2 202.2,57.6 198,58.3 197.9,56.2 195.3,52.3 198,51.9 202.2,48.4 200,44.6 198,43.8 193.8,41.8 189.6,42.3 185.3,44.3 181.1,43.8 180.3,44.6 181.1,45.5 185.3,45 189.2,48.4 189.6,49.1 190,48.4 193.8,45.2 195.7,48.4 193.8,52 193.3,52.3 189.6,56.2 189.5,56.2 186.3,52.3 185.3,51.8 184.3,52.3 181.1,54 176.9,55.2 174.9,56.2 176.9,57.5 177.7,60.1 176.9,61.7 172.7,60.2 168.4,61.1 164.4,64 164.2,64.6 163.6,67.9 160,69.9 155.8,67.9 156,64 155.8,63.8 155.4,64 155.7,67.9 152,71.8 151.6,72.6 150,71.8 147.3,71.1 145.5,71.8 147.3,74.3 148.2,75.7 151.6,77 153.2,79.6 151.6,81 148,79.6 147.3,77.2 145.2,79.6 143.1,81.3 142.5,83.4 138.9,86.2 134.7,85.4 132.2,87.3 130.4,90 129.7,91.2 130.4,93.8 134.7,95 135.1,95.1 134.7,95.2 131.2,99 133.3,102.9 130.4,103 129.9,102.9 126.2,99.3 125.9,99 126.2,98.9 129.4,95.1 126.2,94.2 123.4,95.1 122,97.8 121.6,99 120.5,102.9 122,105.1 124.2,106.8 122,109.2 120.9,110.7 117.8,113.3 113.9,110.7 117.8,108.3 120,106.8 117.8,105.5 113.6,106 112.5,106.8 113.1,110.7 109.3,113.7 108.9,114.6 105.1,116.9 100.9,115.6 98.8,118.4 98.2,122.3 96.7,124.4 92.4,125.9 92.3,126.2 92.4,126.4 95.3,130.1 96.7,132.1 100.9,131.7 102.6,134 100.9,137.5 100.7,137.9 100.9,139 102.8,137.9 105.1,137.6 105.2,137.9 105.7,141.8 105.1,142.2 102.6,145.7 100.9,146.6 96.7,146.3 94.8,145.7 95,141.8 92.9,137.9 92.4,137.6 92,137.9 89.7,141.8 91.7,145.7 92.4,146.6 94.2,149.6 92.4,152.6 91.8,153.4 88.2,156.3 84,156.1 84,157.3 84,161.2 84,164.2 87.1,165.1 84,166.3 84,169 84,172.9 84,175.7 85.5,176.8 84,177.9 84,180.7 84,184.6 84,188.4 84,192.3 84,196.2 84,197.1 85.8,200.1 84,203.5 84,204 84,207.9 84,211.8 84,215.7 84,219.6 84,223.4 84,227.3 84,228.3 86.4,231.2 88.2,232.6 89.9,235.1 88.2,238.7 84.2,235.1 84,234.9 84,235.1 84,239 84,242.9 84,246.4 84.4,246.8 84,247.3 84,250.7 84,252.4 86,250.7 88.2,249 90.3,250.7 92.4,254.5 92.5,254.6 94.8,258.4 92.4,259.7 88.2,260.5 86.3,262.3 88.2,264.4 91.3,266.2 90.3,270.1 91,274 90.3,277.9 92.4,279.6 96.7,278.8 97.8,277.9 96.7,274.7 95.9,274 96.7,273.5 97.1,274 100.9,275.6 102.8,277.9 100.9,281.3 100.5,281.8 96.7,285.2 96,285.7 96.7,289.4 96.8,289.6 96.7,289.6 95,293.4 94.2,297.3 96.7,300.4 100.9,300.2 103.2,301.2 105.1,302.2 108.8,305.1 109.3,306.4 111,305.1 113.6,304.3 114.7,305.1 117.5,309 113.6,310.5 109.3,309.9 105.6,312.9 105.1,313.7 100.9,313.5 100,316.8 100.9,317.6 105.1,319.4 105.8,320.7 109.3,324.3 109.6,324.6 110.6,328.4 111.6,332.3 113.6,335.6 116.8,332.3 117.8,331.6 118.2,332.3 122,336 126.2,335.7 126.8,336.2 129.5,340.1 130.4,340.5 131.7,340.1 134.7,339 138.9,339.5 140.1,340.1 138.9,341 134.7,341.3 133,344 134.7,347.3 138.9,345.8 142.8,344 143.1,343.6 143.4,344 144,347.9 143.1,348.6 138.9,351 137.2,351.8 136,355.7 134.7,357.6 134.2,359.6 134.7,360.4 138.9,360.7 140.3,359.6 142.8,355.7 143.1,355.3 147.3,353 151.6,354.2 153.7,355.7 151.6,358.5 151.1,359.6 151.3,363.4 151.6,363.9 154.2,367.3 151.6,370.2 150.9,371.2 151.6,372.1 155.3,375.1 155.8,375.3 160,377.8 160.9,379 164.2,380.6 166.4,379 165.6,375.1 164.2,372.8 162,371.2 160,370.2 156.9,367.3 160,363.5 160.2,363.4 164.2,362.4 165,363.4 164.2,365.3 162.8,367.3 164.2,369.5 168.4,368.1 169.4,371.2 171.4,375.1 170.7,379 172.7,380.6 174.3,382.9 176.9,386.7 181.1,385.6 185.3,386.7 189.6,384.9 192.9,386.8 193.8,387.5 198,387.8 202.2,388.8 205.8,390.7 202.2,391.8 199.1,394.6 202.2,397.6 205.8,398.4 202.2,399.8 200.7,402.3 202.2,404.8 205.2,406.2 206.4,407.1 207.2,406.2 206.4,404.9 205.1,402.3 206.4,399.1 210.7,399.8 213.9,398.4 214.9,394.9 215.5,398.4 219.1,401.9 222.8,402.3 223.3,402.7 223.5,402.3 227.6,401.1 229.6,402.3 231.8,404.5 234.7,406.2 233.9,410.1ZM257.1,379.6L255.5,379 257.1,377.5 261.3,378.1 265.6,376 268,379 265.6,380.3 261.3,379.5 257.1,379.6ZM278.2,411.6L277,410.1 276,406.2 278.2,404.4 280.5,406.2 282.4,409.2 283.6,410.1 282.4,411.4 278.2,411.6ZM295.1,379.2L294.2,379 295.1,378.3 295.5,379 295.1,379.2ZM307.8,410.4L307.2,410.1 307.8,409.3 308,410.1 307.8,410.4ZM312,398.6L311.6,398.4 312,398.3 312.2,398.4 312,398.6ZM316.2,410.4L315.8,410.1 316.2,409.9 316.5,410.1 316.2,410.4ZM320.4,383L320.2,382.9 320.4,382.8 320.5,382.9 320.4,383ZM324.7,375.6L323.8,375.1 324.5,371.2 324.7,370.9 328.9,371 329.2,371.2 328.9,371.3 325.2,375.1 324.7,375.6ZM333.1,387.1L332.8,386.8 333.1,386.4 333.7,386.8 333.1,387.1ZM337.3,411.8L336.8,410.1 337.3,409.6 337.9,410.1 337.3,411.8ZM358.4,375.6L357.9,375.1 358.4,374.5 359.1,375.1 358.4,375.6ZM362.7,402.6L362.5,402.3 362.7,402.2 363.2,402.3 362.7,402.6ZM371.1,391.8L370.6,390.7 371.1,389.7 371.7,390.7 371.1,391.8ZM379.6,352.3L378.4,351.8 379.6,351.2 380.6,351.8 379.6,352.3ZM404.9,380.4L404.8,379 404.9,378.5 405,379 404.9,380.4ZM409.1,367.5L408.9,367.3 409.1,367.2 409.3,367.3 409.1,367.5ZM417.6,329.7L414.9,328.4 417.6,327.4 418.7,328.4 417.6,329.7ZM421.8,360.8L418.1,359.6 421.8,359 422.7,359.6 421.8,360.8ZM426,317.9L424.2,316.8 426,315.7 427.2,316.8 426,317.9ZM438.7,306.3L438.1,305.1 438.7,301.9 439.7,305.1 438.7,306.3ZM451.3,297.8L450.8,297.3 451.3,296.2 451.8,297.3 451.3,297.8ZM459.8,322.3L458.9,320.7 459.7,316.8 458.2,312.9 459.8,311.6 462.2,312.9 460.1,316.8 460.5,320.7 459.8,322.3ZM464,256.9L462.7,254.6 464,252.7 467.7,254.6 464,256.9ZM472.4,305.5L472.3,305.1 472.4,304.9 472.7,305.1 472.4,305.5ZM480.9,286.4L480.3,285.7 480.9,284.3 481.7,285.7 480.9,286.4ZM480.9,166.3L477.4,165.1 478.2,161.2 480.9,158.7 482.5,161.2 483.1,165.1 480.9,166.3ZM485.1,172.9L485,172.9 485.1,171.9 486.3,172.9 485.1,172.9ZM489.3,252.2L488.1,250.7 489.3,248.9 493.6,249.4 496.5,250.7 493.6,252.3 489.3,252.2ZM105.1,130.8L103.7,130.1 103.3,126.2 105.1,125 106.3,126.2 106.8,130.1 105.1,130.8ZM92.4,243.7L89.1,242.9 92.4,241.9 93,242.9 92.4,243.7ZM96.7,235.2L96.5,235.1 96.7,235 97,235.1 96.7,235.2ZM100.9,165.4L100.5,165.1 100.9,161.8 101.4,165.1 100.9,165.4ZM100.9,293.7L99.8,293.4 100.9,291.7 101.7,293.4 100.9,293.7ZM105.1,290.9L102.4,289.6 105.1,288.9 105.9,289.6 105.1,290.9ZM109.3,293.9L107.7,293.4 109.3,292.6 110.3,293.4 109.3,293.9ZM113.6,236L113,235.1 113.6,234.1 114.4,235.1 113.6,236ZM113.6,316.9L113.4,316.8 113.6,316.6 113.6,316.8 113.6,316.9ZM143.1,305.1L142.6,305.1 143.1,305.1ZM168.4,328.6L167.6,328.4 168.4,328 169,328.4 168.4,328.6ZM185.3,371.8L184.6,371.2 185.3,370.8 185.9,371.2 185.3,371.8ZM206.4,397.7L205.7,394.6 206.4,391.6 209.3,394.6 206.4,397.7ZM231.8,367.5L231.6,367.3 231.8,364 232,367.3 231.8,367.5ZM278.2,383.9L276.7,382.9 274,379.2 273.3,379 274,378.6 276.3,375.1 274,373 269.8,373.6 266.1,371.2 265.6,370.7 261.3,370 260.4,371.2 257.1,374.1 252.9,373.5 251.5,375.1 248.7,378.4 245.9,375.1 248.7,372.1 249.9,371.2 252.9,368.8 254.3,367.3 252.9,365.6 248.7,366 244.4,366.5 240.2,364 238.7,363.4 236,361.2 235,359.6 232.8,355.7 231.8,354.4 230.5,355.7 229.7,359.6 227.6,363 223.3,360.3 219.1,361.3 215.9,359.6 214.9,357.5 213,355.7 210.7,354.4 208.7,351.8 206.4,348.3 204.5,351.8 202.2,353.4 199.3,351.8 198,349.6 197.2,351.8 193.8,355.3 191.8,351.8 193.8,349.6 197.3,347.9 193.8,345.7 189.6,346.1 188.7,344 187.1,340.1 185.3,337.2 183.1,336.2 185.3,334.2 186.3,332.3 185.3,331.8 181.1,328.6 176.9,330.2 174.5,328.4 172.7,325.5 171.7,324.6 168.4,322.7 164.6,320.7 164.2,320.2 160,317.7 157.2,316.8 160,315.7 162,312.9 160.1,309 161.2,305.1 160,304.5 158.4,305.1 159.8,309 155.8,310.3 153.9,309 152,305.1 151.6,304.7 147.3,302 146.5,301.2 147.3,300.5 151.6,298.4 155.5,297.3 153.5,293.4 155.8,292.9 158.2,289.6 155.8,287.3 151.6,287.5 147.3,288.9 143.1,286 142.9,285.7 143.1,285.5 147.3,282.2 151.6,281.9 151.6,281.8 151.6,281.4 147.3,281.5 145.2,277.9 143.1,275.2 141,274 138.9,271.8 136.8,270.1 136.4,266.2 134.7,265.1 132.6,262.3 132.5,258.4 130.4,255.1 128.5,254.6 130.4,251.5 131.5,250.7 130.4,250.5 126.2,249.7 124.3,250.7 122,251.9 120.3,250.7 122,249.3 123.7,246.8 122,244.1 117.8,243.5 117,242.9 117.8,242.1 121.1,239 122,236.6 122.3,235.1 122,233.8 121.3,231.2 121.1,227.3 122,226.4 126.2,223.5 126.2,223.4 128.5,219.6 126.2,217.6 122,217.7 119.7,215.7 122,213.8 126.2,213.5 127.9,211.8 126.2,208.8 125.6,207.9 126.2,205.3 130.4,205.7 133.9,204 131.2,200.1 130.4,199.6 130.1,200.1 126.2,203.6 122.6,204 122,204.1 120.6,204 118.4,200.1 122,198.6 126.2,197.6 128.3,196.2 126.2,193 125.6,192.3 126.2,191.6 127.5,188.4 126.2,185.3 125.8,184.6 126.2,183.3 127.6,180.7 126.2,179.1 123.5,180.7 122,181.1 119.3,180.7 120,176.8 122,175.8 124.9,172.9 126.2,171.5 129.2,169 130.4,167.1 131.3,165.1 134.7,163.1 137.3,161.2 137.4,157.3 135.5,153.4 138.9,150.8 142.7,153.4 143.1,154.7 147.3,157.1 148.8,153.4 147.3,150.7 145.3,149.6 144.4,145.7 146.1,141.8 147.3,140.1 150.4,141.8 149,145.7 148.5,149.6 151.6,150.9 152.8,149.6 155.8,147.1 157.3,145.7 155.8,144.2 152.5,141.8 151.6,139.4 150.9,137.9 149.6,134 151.6,130.7 155.8,131.2 156.7,130.1 159,126.2 160,123.9 162.3,122.3 161.3,118.4 164.2,116.3 165.9,114.6 167.1,110.7 168.4,110.4 169.8,110.7 172.7,114 173.4,110.7 176.9,109 181.1,108.7 183.2,106.8 185.3,103.6 186.3,102.9 185.3,101.5 181.8,99 185.3,97.9 188,99 189.6,99.9 190.6,99 193.8,96.3 197.7,95.1 197.2,91.2 198,89.8 200.1,91.2 202.2,91.9 206.1,91.2 203.8,87.3 206.4,85.4 209.9,87.3 208.6,91.2 210.7,91.3 211,91.2 211.1,87.3 214.9,84.7 218.1,83.4 215.8,79.6 219.1,78.7 223.3,77.8 227.6,76.4 228.8,75.7 231.8,74.3 233.2,75.7 236,77.8 238.7,75.7 240.2,74 244.4,72.6 246.4,71.8 244.4,68.6 243.9,67.9 244.4,67 246.1,67.9 248.7,68.8 250.4,71.8 252.9,75.2 257.1,72.9 259.1,71.8 261.3,69.6 264.5,71.8 265.6,73.2 266.7,71.8 268,67.9 269.8,65.2 274,65.2 276.5,67.9 278.2,70 282.4,71.1 286.3,67.9 286.3,64 286.7,63.8 290.9,63 292.4,64 295.1,66.4 298.1,67.9 296.1,71.8 299.3,74.9 301.6,71.8 303.6,68.7 305.6,67.9 307.8,67.4 312,67.7 312.4,67.9 312,70.6 311.8,71.8 312,72 312.3,71.8 316.2,70.2 320.4,68.7 324.2,71.8 323.5,75.7 324.7,77.6 327.9,75.7 325.7,71.8 328.9,71.3 330,71.8 333.1,73.4 335,71.8 337.3,70.2 338.7,71.8 341.6,75.4 343.8,75.7 343,79.6 345.8,82.9 348.7,79.6 350,76 354.2,79.1 357.6,79.6 354.2,80.6 351.7,83.4 354.2,85.6 358.4,83.5 362.7,84.4 366.9,84.4 371.1,84.8 374.5,87.3 373.9,91.2 375.3,93.7 379.6,92.6 383.4,91.2 383.8,90.9 385.4,87.3 388,86 390.9,87.3 388.3,91.2 392.2,92.5 393.3,95.1 392.2,98.7 388,96 385.9,95.1 383.8,91.7 382.5,95.1 383.8,96.5 385.3,99 388,101.1 392.2,99.4 396.4,101.2 399.1,102.9 400.7,104.4 404.9,102.9 405,102.9 409.1,102.3 410.1,102.9 409.7,106.8 413.3,110.1 414.7,110.7 413.3,111.2 411.6,114.6 413.3,117.9 417.6,115.2 421.8,117.1 423.6,118.4 421.8,120.4 419.3,122.3 421,126.2 419.2,130.1 421.8,132.1 423.6,134 426,135.2 427.7,134 430.2,131.9 431.3,134 430.2,136.9 429.4,137.9 426,140.8 424.7,141.8 426,142.6 429.1,145.7 426.7,149.6 429.8,153.4 430.2,153.6 430.6,153.4 432.3,149.6 431.9,145.7 432.7,141.8 434.4,141.4 434.9,141.8 436,145.7 436.6,149.6 438.7,151.2 441.4,153.4 441.1,157.3 442.9,159.3 447.1,160.7 450.3,161.2 447.1,162.1 444.9,165.1 447.1,166.9 451.3,167.6 455.4,169 451.3,171.4 448,172.9 451.3,175 455.6,173 456.6,176.8 459.4,180.7 455.6,181.9 454.3,180.7 451.3,178.1 448.5,180.7 451.3,183.1 453,184.6 455.6,187 457.1,188.4 459.8,190.3 461.4,192.3 460.5,196.2 459.8,197.5 456.4,200.1 458.2,204 455.6,205.3 453.4,207.9 454.5,211.8 455.6,214.3 457,215.7 455.6,216.7 454,219.6 455.6,222 456.7,223.4 458.5,227.3 455.6,230.4 454.1,231.2 455.6,231.7 457.7,235.1 455.6,237.2 452.3,239 451.3,240.5 449.5,242.9 449.6,246.8 448.7,250.7 450.6,254.6 451.3,255.3 452.4,254.6 455.6,252.6 456.2,254.6 458.2,258.4 459.3,262.3 456.6,266.2 457,270.1 455.6,271.2 453.8,270.1 454,266.2 454.3,262.3 451.3,260.5 449.3,262.3 450,266.2 450.3,270.1 447.2,274 447.1,275.6 446.9,277.9 443,281.8 447.1,282.8 451.3,283.8 453.6,285.7 451.3,287.7 447.1,287.3 444.5,289.6 442.9,291.5 440.8,289.6 440.1,285.7 438.7,285 438.1,285.7 436.5,289.6 438.7,293.2 438.9,293.4 442.1,297.3 438.7,300.9 438.1,301.2 434.4,301.8 430.2,303.3 428.1,305.1 426,306.6 422,309 422.9,312.9 421.8,314.4 419.3,316.8 417.6,319.7 417.2,320.7 413.3,324.3 409.1,324.4 409,324.6 404.9,326.8 401.9,328.4 404.9,331.1 406.2,332.3 404.9,333.8 400.7,334.3 398.2,332.3 396.4,331.7 394.3,332.3 396.4,335.7 396.9,336.2 396.4,337 394.8,340.1 392.2,342.2 390.6,340.1 388,337.3 386.5,340.1 383.8,343.1 381.5,344 379.6,344.6 376.2,347.9 375.3,349.3 373,347.9 371.1,346.6 367.8,347.9 371.1,349.3 373.1,351.8 371.1,353.4 367.4,355.7 366.9,356 366.6,355.7 362.7,352.7 358.4,353.7 356.2,355.7 354.2,356.9 351.7,355.7 350,354.5 349.2,355.7 348.4,359.6 350,362.6 352.4,363.4 350,364.3 347.4,367.3 345.8,368.5 344.2,367.3 341.6,364.6 337.3,365.6 333.1,364.1 328.9,366.9 324.7,364.8 321.2,367.3 320.4,367.6 319.2,367.3 319.4,363.4 316.2,361.9 314.4,363.4 314.8,367.3 312.5,371.2 312,372.3 310.2,371.2 307.8,367.6 304.9,371.2 303.6,374.3 301.8,375.1 299.3,375.3 299,375.1 299.3,372.6 300,371.2 301.3,367.3 299.3,366.7 298.4,367.3 299.1,371.2 295.1,373 290.9,373.3 288.8,375.1 286.7,377 284.8,375.1 286.7,373 288.4,371.2 286.7,370.2 284,371.2 282.4,372.3 280,375.1 278.6,379 279.9,382.9 278.2,383.9ZM312,383.4L311.5,382.9 310.5,379 312,377.7 312.8,379 312.9,382.9 312,383.4ZM371.1,359.8L370.8,359.6 371.1,359.1 371.9,359.6 371.1,359.8ZM459.8,251L458.4,250.7 459.8,249.3 460.4,250.7 459.8,251ZM464,211.8L463.8,211.8 464,211.7 464.1,211.8 464,211.8ZM472.4,139.9L470.6,137.9 468.2,135 467,134 466,130.1 464,129.2 460.2,126.2 464,122.6 467.1,126.2 468.2,128.2 470.5,130.1 472.4,132.2 476.7,132.5 479.6,134 476.7,134.7 474.4,137.9 472.4,139.9ZM489.3,189L487.6,188.4 489.3,187.5 490.6,188.4 489.3,189ZM493.6,216L493.1,215.7 493.6,214.6 497.8,214 501.4,215.7 497.8,217.3 493.6,216ZM92.4,165.8L89.6,165.1 88.6,161.2 92.4,158.9 96.7,161.2 92.9,165.1 92.4,165.8ZM100.9,161.1L98.9,157.3 100.9,155.8 102.2,157.3 100.9,161.1ZM109.3,250.7 109.3,250.6 109.4,250.7 109.3,250.7ZM113.6,216L112.7,215.7 113.6,215.5 114.3,215.7 113.6,216ZM117.8,219.8L117.5,219.6 117.8,219 118.3,219.6 117.8,219.8ZM122,190.1L118.6,188.4 122,187.3 124,188.4 122,190.1ZM122,118.6L121.8,118.4 122,118.1 122.6,118.4 122,118.6ZM126.2,163.7L125.5,161.2 126.2,160.3 127.1,161.2 126.2,163.7ZM155.8,114.6L155.6,114.6 155.8,114.5 155.9,114.6 155.8,114.6ZM189.6,93.5L188.2,91.2 189.6,89.4 191,91.2 189.6,93.5ZM193.8,61.4L193.5,60.1 193.8,60 196.2,60.1 193.8,61.4ZM210.7,79.8L209.5,79.6 210.7,79.3 212.2,79.6 210.7,79.8ZM214.9,48.5L214.8,48.4 214.9,48.4 219.1,46 221.1,48.4 219.1,49.6 214.9,48.5ZM227.6,42.8L225.5,40.7 227.6,37.1 229.6,40.7 227.6,42.8ZM252.9,37.5L251.5,36.8 252.9,35.9 253.4,36.8 252.9,37.5ZM257.1,65.9L253.6,64 257.1,61.9 261.3,63.8 263.6,64 261.3,64.5 257.1,65.9ZM274,52.4L274,52.3 274,52.4ZM299.3,38.7L297.4,36.8 297.9,32.9 299.3,32.7 301,32.9 301.3,36.8 299.3,38.7ZM312,37.5L310.9,36.8 312,35.5 312.5,36.8 312,37.5ZM350,37L349.7,36.8 350,36.5 350.3,36.8 350,37ZM354.2,42.1L352.7,40.7 354.2,38.9 357.7,40.7 354.2,42.1ZM358.4,34.2L357.4,32.9 358.4,31.7 360.2,32.9 358.4,34.2ZM366.9,49.6L366.1,48.4 366.9,47.9 371.1,48.2 371.2,48.4 371.1,48.5 366.9,49.6ZM379.6,88.3L377.8,87.3 379.6,86.4 380.4,87.3 379.6,88.3ZM383.8,49.2L383,48.4 383.8,47.9 384.4,48.4 383.8,49.2ZM400.7,95.7L400.1,95.1 400.7,94.7 401.6,95.1 400.7,95.7ZM426,131.5L424.3,130.1 426,127.5 427.2,130.1 426,131.5ZM447.1,149.7L446.9,149.6 447.1,149.5 447.3,149.6 447.1,149.7ZM451.3,108.1L449.9,106.8 449.7,102.9 451.3,101.1 454,102.9 453.2,106.8 451.3,108.1ZM459.8,112.1L458.9,110.7 459.8,107.6 460.7,110.7 459.8,112.1ZM455.6,248.6L453.6,246.8 455.6,245.2 457.6,246.8 455.6,248.6ZM451.3,279.3L447.4,277.9 451.3,276.7 453,277.9 451.3,279.3ZM464,122L462.9,118.4 464,117.2 465.6,118.4 464,122ZM113.6,205L113.2,204 113.6,203.5 116.5,204 113.6,205ZM117.8,212.9L117.5,211.8 117.8,211.2 118.8,211.8 117.8,212.9ZM155.8,75.9L155.2,75.7 155.8,75.4 156.6,75.7 155.8,75.9ZM261.3,38.3L260.3,36.8 261.3,35.6 262.1,36.8 261.3,38.3ZM274,36.9L273.4,36.8 274,36.4 274.2,36.8 274,36.9ZM426,114.8L425.8,114.6 426,114.3 426.2,114.6 426,114.8ZM113.6,197.9L112.4,196.2 113.6,193.8 115.1,196.2 113.6,197.9ZM117.8,192.8L116.6,192.3 117.8,190.3 118.5,192.3 117.8,192.8ZM373.2,410.1L375.3,413.1 379.6,410.9 381,410.1 379.6,409.1 376.4,406.2 375.3,405.2 374,406.2 373.2,410.1ZM184.5,406.2L185.3,406.9 186.6,406.2 186.7,402.3 185.3,398.9 184.6,402.3 184.5,406.2ZM396.1,398.4L396.4,398.5 396.7,398.4 396.4,398.2 396.1,398.4ZM180.5,394.6L181.1,395.6 182.5,394.6 181.9,390.7 181.1,389.5 178.6,390.7 180.5,394.6ZM190,394.6L193.8,396.5 196.4,394.6 193.8,392.7 191.1,390.7 189.6,389.1 187.7,390.7 189.6,394 190,394.6ZM430.1,394.6L430.2,394.6 430.3,394.6 430.2,394.4 430.1,394.6ZM399.6,390.7L400.7,391.2 401.7,390.7 400.7,389.8 399.6,390.7ZM167.6,382.9L168.4,383.8 169.4,382.9 168.4,381.9 167.6,382.9ZM147.3,375.1L147.3,375.2 147.4,375.1 147.3,375.1ZM142.9,367.3L143.1,367.5 143.3,367.3 143.1,366.6 142.9,367.3ZM279.2,367.3L282.4,370.2 283.9,367.3 282.4,366.4 279.2,367.3ZM442.5,367.3L442.9,367.6 443.2,367.3 442.9,367.1 442.5,367.3ZM261,363.4L261.3,364.1 262.1,363.4 261.3,362.7 261,363.4ZM247.4,359.6L248.7,360.8 249.9,359.6 248.7,358.1 247.4,359.6ZM327.2,359.6L328.9,361.2 331.6,359.6 328.9,358.4 327.2,359.6ZM239.3,355.7L240.2,356.3 241.9,355.7 240.2,354.7 239.3,355.7ZM125.2,351.8L126.2,352.1 126.6,351.8 126.2,350.2 125.2,351.8ZM112.2,347.9L113.6,348.9 115,347.9 113.6,346.7 112.2,347.9ZM120.8,347.9L122,349.6 124.6,347.9 122,344.3 120.8,347.9ZM115.8,340.1L117.8,343.5 118.5,340.1 117.8,339.1 115.8,340.1ZM103.4,328.4L105.1,330.6 107.5,328.4 105.1,327.2 103.4,328.4ZM87.9,320.7L88.2,321.4 89.7,320.7 88.2,320.2 87.9,320.7ZM484.9,320.7L485.1,320.9 485.3,320.7 485.1,320.2 484.9,320.7ZM96.7,312.9 97.2,312.9 96.7,312.8 96.7,312.9ZM176.8,312.9L176.9,312.9 176.9,312.8 176.8,312.9ZM412.6,312.9L413.3,314.1 413.9,312.9 413.3,311.9 412.6,312.9ZM92.1,309L92.4,309.3 93.7,309 92.4,308.6 92.1,309ZM485,309L485.1,309.1 489.3,310.6 491.1,309 489.3,307.2 486.1,305.1 485.1,304.4 484.2,305.1 485,309ZM167.8,305.1L168.4,305.7 168.9,305.1 168.4,304.8 167.8,305.1ZM424.6,301.2L426,302.4 427.2,301.2 426,300.1 424.6,301.2ZM427.9,297.3L430.2,299.4 434.4,298.4 435,297.3 434.4,296.2 430.2,295.3 427.9,297.3ZM489,297.3L489.3,297.9 490.4,297.3 489.3,296.3 489,297.3ZM84,281.8L84,283.8 87.8,281.8 84,281 84,281.8ZM440.9,266.2L442.9,268.5 444.4,266.2 442.9,264.9 440.9,266.2ZM136.6,262.3L138.9,264.9 140,262.3 138.9,260.4 136.6,262.3ZM500.5,258.4L502,261.9 502,258.4 502,256.2 500.5,258.4ZM136.9,192.3L138.9,193.1 140,192.3 138.9,191.2 136.9,192.3ZM451.2,192.3L451.3,192.4 451.7,192.3 451.3,188.6 451.2,192.3ZM500.4,180.7L502,181.2 502,180.7 502,180.2 500.4,180.7ZM146,176.8L147.3,176.8 147.4,176.8 147.3,176.2 146,176.8ZM441.8,176.8L442.9,177.7 443.5,176.8 442.9,176.3 441.8,176.8ZM138.2,172.9L138.9,173.7 139.2,172.9 138.9,172.5 138.2,172.9ZM142.6,169L143.1,169.4 143.5,169 144.8,165.1 143.1,164.8 140.7,165.1 142.6,169ZM86.2,149.6L88.2,150.7 89.8,149.6 88.2,148.4 86.2,149.6ZM483.6,149.6L485.1,150.7 487.5,149.6 485.1,148.1 483.6,149.6ZM84,141.8L84,142.6 85.8,141.8 84,140.6 84,141.8ZM412.8,126.2L413.3,126.8 414,126.2 413.3,125.4 412.8,126.2ZM488.9,126.2L489.3,126.3 489.4,126.2 489.3,126.2 488.9,126.2ZM166.1,118.4L168.4,120.3 169.6,118.4 168.4,116.5 166.1,118.4ZM184.5,118.4L185.3,118.7 185.7,118.4 185.3,118.1 184.5,118.4ZM404.1,110.7L404.9,111.7 406.1,110.7 404.9,109.9 404.1,110.7ZM196.7,102.9L198,103.4 198.5,102.9 198,101.5 196.7,102.9ZM471.9,102.9L472.4,104 473,102.9 472.4,102 471.9,102.9ZM103.1,99L105.1,100.7 107.7,99 105.1,97.6 103.1,99ZM462,99L464,101.1 467.9,99 464.2,95.1 464,94.9 462.2,95.1 462,99ZM117.5,91.2L117.8,92.1 117.9,91.2 117.8,90.9 117.5,91.2ZM349.2,91.2L350,92.4 350.9,91.2 350,89.4 349.2,91.2ZM121.2,83.4L122,83.6 122.3,83.4 122,83.2 121.2,83.4ZM221,83.4L223.3,84.9 224.3,83.4 223.3,82 221,83.4ZM233.2,83.4L236,84.3 236.8,83.4 236,82 233.2,83.4ZM240.1,79.6L240.2,79.6 240.3,79.6 240.2,79.4 240.1,79.6ZM281.8,79.6L282.4,80.2 284,79.6 282.4,78.3 281.8,79.6ZM336.1,79.6L337.3,80.5 338.6,79.6 337.3,78 336.1,79.6ZM274,71.8ZM288.8,71.8L290.9,72.2 292.6,71.8 291.4,67.9 290.9,67.4 289.5,67.9 288.8,71.8ZM138.7,67.9L138.9,68 143.1,70.1 144.2,67.9 143.1,67.4 138.9,67.8 138.7,67.9ZM410.5,60.1L413.3,61.8 417.6,62.1 421.8,63.4 426,60.8 427.7,60.1 426,59.6 421.8,57 417.6,56.7 413.3,56.5 410.5,60.1ZM155.2,56.2L155.8,57 159.2,56.2 155.8,55.5 155.2,56.2ZM160.6,56.2L164.2,59.2 168.3,56.2 164.2,55.3 160.6,56.2ZM172.5,52.3L172.7,53.2 173.1,52.3 172.7,52.2 172.5,52.3ZM421.3,52.3L421.8,53.1 422,52.3 422.2,48.4 421.8,47.8 420.7,48.4 421.3,52.3ZM166.3,48.4L168.4,48.8 168.7,48.4 168.4,48.2 166.3,48.4ZM214.3,29L214.9,29.5 215.4,29 214.9,29 214.3,29ZM231.2,29L231.8,29.6 233.1,29 231.8,29 231.2,29ZM268.2,29L269.8,31.1 270.7,29 269.8,29 268.2,29Z"/>
<path fill="#bf0000" d="M332.8,386.8L333.1,387.1 333.7,386.8 333.1,386.4 332.8,386.8ZM276.7,382.9L278.2,383.9 279.9,382.9 278.6,379 280,375.1 282.4,372.3 284,371.2 286.7,370.2 288.4,371.2 286.7,373 284.8,375.1 286.7,377 288.8,375.1 290.9,373.3 295.1,373 299.1,371.2 298.4,367.3 299.3,366.7 301.3,367.3 300,371.2 299.3,372.6 299,375.1 299.3,375.3 301.8,375.1 303.6,374.3 304.9,371.2 307.8,367.6 310.2,371.2 312,372.3 312.5,371.2 314.8,367.3 314.4,363.4 316.2,361.9 319.4,363.4 319.2,367.3 320.4,367.6 321.2,367.3 324.7,364.8 328.9,366.9 333.1,364.1 337.3,365.6 341.6,364.6 344.2,367.3 345.8,368.5 347.4,367.3 350,364.3 352.4,363.4 350,362.6 348.4,359.6 349.2,355.7 350,354.5 351.7,355.7 354.2,356.9 356.2,355.7 358.4,353.7 362.7,352.7 366.6,355.7 366.9,356 367.4,355.7 371.1,353.4 373.1,351.8 371.1,349.3 367.8,347.9 371.1,346.6 373,347.9 375.3,349.3 376.2,347.9 379.6,344.6 381.5,344 383.8,343.1 386.5,340.1 388,337.3 390.6,340.1 392.2,342.2 394.8,340.1 396.4,337 396.9,336.2 396.4,335.7 394.3,332.3 396.4,331.7 398.2,332.3 400.7,334.3 404.9,333.8 406.2,332.3 404.9,331.1 401.9,328.4 404.9,326.8 409,324.6 409.1,324.4 413.3,324.3 417.2,320.7 417.6,319.7 419.3,316.8 421.8,314.4 422.9,312.9 422,309 426,306.6 428.1,305.1 430.2,303.3 434.4,301.8 438.1,301.2 438.7,300.9 442.1,297.3 438.9,293.4 438.7,293.2 436.5,289.6 438.1,285.7 438.7,285 440.1,285.7 440.8,289.6 442.9,291.5 444.5,289.6 447.1,287.3 451.3,287.7 453.6,285.7 451.3,283.8 447.1,282.8 443,281.8 446.9,277.9 447.1,275.6 447.2,274 450.3,270.1 450,266.2 449.3,262.3 451.3,260.5 454.3,262.3 454,266.2 453.8,270.1 455.6,271.2 457,270.1 456.6,266.2 459.3,262.3 458.2,258.4 456.2,254.6 455.6,252.6 452.4,254.6 451.3,255.3 450.6,254.6 448.7,250.7 449.6,246.8 449.5,242.9 451.3,240.5 452.3,239 455.6,237.2 457.7,235.1 455.6,231.7 454.1,231.2 455.6,230.4 458.5,227.3 456.7,223.4 455.6,222 454,219.6 455.6,216.7 457,215.7 455.6,214.3 454.5,211.8 453.4,207.9 455.6,205.3 458.2,204 456.4,200.1 459.8,197.5 460.5,196.2 461.4,192.3 459.8,190.3 457.1,188.4 455.6,187 453,184.6 451.3,183.1 448.5,180.7 451.3,178.1 454.3,180.7 455.6,181.9 459.4,180.7 456.6,176.8 455.6,173 451.3,175 448,172.9 451.3,171.4 455.4,169 451.3,167.6 447.1,166.9 444.9,165.1 447.1,162.1 450.3,161.2 447.1,160.7 442.9,159.3 441.1,157.3 441.4,153.4 438.7,151.2 436.6,149.6 436,145.7 434.9,141.8 434.4,141.4 432.7,141.8 431.9,145.7 432.3,149.6 430.6,153.4 430.2,153.6 429.8,153.4 426.7,149.6 429.1,145.7 426,142.6 424.7,141.8 426,140.8 429.4,137.9 430.2,136.9 431.3,134 430.2,131.9 427.7,134 426,135.2 423.6,134 421.8,132.1 419.2,130.1 421,126.2 419.3,122.3 421.8,120.4 423.6,118.4 421.8,117.1 417.6,115.2 413.3,117.9 411.6,114.6 413.3,111.2 414.7,110.7 413.3,110.1 409.7,106.8 410.1,102.9 409.1,102.3 405,102.9 404.9,102.9 400.7,104.4 399.1,102.9 396.4,101.2 392.2,99.4 388,101.1 385.3,99 383.8,96.5 382.5,95.1 383.8,91.7 385.9,95.1 388,96 392.2,98.7 393.3,95.1 392.2,92.5 388.3,91.2 390.9,87.3 388,86 385.4,87.3 383.8,90.9 383.4,91.2 379.6,92.6 375.3,93.7 373.9,91.2 374.5,87.3 371.1,84.8 366.9,84.4 362.7,84.4 358.4,83.5 354.2,85.6 351.7,83.4 354.2,80.6 357.6,79.6 354.2,79.1 350,76 348.7,79.6 345.8,82.9 343,79.6 343.8,75.7 341.6,75.4 338.7,71.8 337.3,70.2 335,71.8 333.1,73.4 330,71.8 328.9,71.3 325.7,71.8 327.9,75.7 324.7,77.6 323.5,75.7 324.2,71.8 320.4,68.7 316.2,70.2 312.3,71.8 312,72 311.8,71.8 312,70.6 312.4,67.9 312,67.7 307.8,67.4 305.6,67.9 303.6,68.7 301.6,71.8 299.3,74.9 296.1,71.8 298.1,67.9 295.1,66.4 292.4,64 290.9,63 286.7,63.8 286.3,64 286.3,67.9 282.4,71.1 278.2,70 276.5,67.9 274,65.2 269.8,65.2 268,67.9 266.7,71.8 265.6,73.2 264.5,71.8 261.3,69.6 259.1,71.8 257.1,72.9 252.9,75.2 250.4,71.8 248.7,68.8 246.1,67.9 244.4,67 243.9,67.9 244.4,68.6 246.4,71.8 244.4,72.6 240.2,74 238.7,75.7 236,77.8 233.2,75.7 231.8,74.3 228.8,75.7 227.6,76.4 223.3,77.8 219.1,78.7 215.8,79.6 218.1,83.4 214.9,84.7 211.1,87.3 211,91.2 210.7,91.3 208.6,91.2 209.9,87.3 206.4,85.4 203.8,87.3 206.1,91.2 202.2,91.9 200.1,91.2 198,89.8 197.2,91.2 197.7,95.1 193.8,96.3 190.6,99 189.6,99.9 188,99 185.3,97.9 181.8,99 185.3,101.5 186.3,102.9 185.3,103.6 183.2,106.8 181.1,108.7 176.9,109 173.4,110.7 172.7,114 169.8,110.7 168.4,110.4 167.1,110.7 165.9,114.6 164.2,116.3 161.3,118.4 162.3,122.3 160,123.9 159,126.2 156.7,130.1 155.8,131.2 151.6,130.7 149.6,134 150.9,137.9 151.6,139.4 152.5,141.8 155.8,144.2 157.3,145.7 155.8,147.1 152.8,149.6 151.6,150.9 148.5,149.6 149,145.7 150.4,141.8 147.3,140.1 146.1,141.8 144.4,145.7 145.3,149.6 147.3,150.7 148.8,153.4 147.3,157.1 143.1,154.7 142.7,153.4 138.9,150.8 135.5,153.4 137.4,157.3 137.3,161.2 134.7,163.1 131.3,165.1 130.4,167.1 129.2,169 126.2,171.5 124.9,172.9 122,175.8 120,176.8 119.3,180.7 122,181.1 123.5,180.7 126.2,179.1 127.6,180.7 126.2,183.3 125.8,184.6 126.2,185.3 127.5,188.4 126.2,191.6 125.6,192.3 126.2,193 128.3,196.2 126.2,197.6 122,198.6 118.4,200.1 120.6,204 122,204.1 122.6,204 126.2,203.6 130.1,200.1 130.4,199.6 131.2,200.1 133.9,204 130.4,205.7 126.2,205.3 125.6,207.9 126.2,208.8 127.9,211.8 126.2,213.5 122,213.8 119.7,215.7 122,217.7 126.2,217.6 128.5,219.6 126.2,223.4 126.2,223.5 122,226.4 121.1,227.3 121.3,231.2 122,233.8 122.3,235.1 122,236.6 121.1,239 117.8,242.1 117,242.9 117.8,243.5 122,244.1 123.7,246.8 122,249.3 120.3,250.7 122,251.9 124.3,250.7 126.2,249.7 130.4,250.5 131.5,250.7 130.4,251.5 128.5,254.6 130.4,255.1 132.5,258.4 132.6,262.3 134.7,265.1 136.4,266.2 136.8,270.1 138.9,271.8 141,274 143.1,275.2 145.2,277.9 147.3,281.5 151.6,281.4 151.6,281.8 151.6,281.9 147.3,282.2 143.1,285.5 142.9,285.7 143.1,286 147.3,288.9 151.6,287.5 155.8,287.3 158.2,289.6 155.8,292.9 153.5,293.4 155.5,297.3 151.6,298.4 147.3,300.5 146.5,301.2 147.3,302 151.6,304.7 152,305.1 153.9,309 155.8,310.3 159.8,309 158.4,305.1 160,304.5 161.2,305.1 160.1,309 162,312.9 160,315.7 157.2,316.8 160,317.7 164.2,320.2 164.6,320.7 168.4,322.7 171.7,324.6 172.7,325.5 174.5,328.4 176.9,330.2 181.1,328.6 185.3,331.8 186.3,332.3 185.3,334.2 183.1,336.2 185.3,337.2 187.1,340.1 188.7,344 189.6,346.1 193.8,345.7 197.3,347.9 193.8,349.6 191.8,351.8 193.8,355.3 197.2,351.8 198,349.6 199.3,351.8 202.2,353.4 204.5,351.8 206.4,348.3 208.7,351.8 210.7,354.4 213,355.7 214.9,357.5 215.9,359.6 219.1,361.3 223.3,360.3 227.6,363 229.7,359.6 230.5,355.7 231.8,354.4 232.8,355.7 235,359.6 236,361.2 238.7,363.4 240.2,364 244.4,366.5 248.7,366 252.9,365.6 254.3,367.3 252.9,368.8 249.9,371.2 248.7,372.1 245.9,375.1 248.7,378.4 251.5,375.1 252.9,373.5 257.1,374.1 260.4,371.2 261.3,370 265.6,370.7 266.1,371.2 269.8,373.6 274,373 276.3,375.1 274,378.6 273.3,379 274,379.2 276.7,382.9ZM282.4,370.2L279.2,367.3 282.4,366.4 283.9,367.3 282.4,370.2ZM303.6,348.8L303.1,347.9 303.6,346.5 304.2,347.9 303.6,348.8ZM328.9,361.2L327.2,359.6 328.9,358.4 331.6,359.6 328.9,361.2ZM383.8,313.4L382.1,312.9 383.8,310.7 385.6,312.9 383.8,313.4ZM404.9,286.5L401.6,285.7 404.9,284.7 405.8,285.7 404.9,286.5ZM409.1,282.1L408.7,281.8 409.1,279.1 409.6,281.8 409.1,282.1ZM413.3,314.1L412.6,312.9 413.3,311.9 413.9,312.9 413.3,314.1ZM417.6,274.3L417.1,274 417.6,273.2 418.1,274 417.6,274.3ZM426,302.4L424.6,301.2 426,300.1 427.2,301.2 426,302.4ZM430.2,299.4L427.9,297.3 430.2,295.3 434.4,296.2 435,297.3 434.4,298.4 430.2,299.4ZM442.9,268.5L440.9,266.2 442.9,264.9 444.4,266.2 442.9,268.5ZM451.3,192.4L451.2,192.3 451.3,188.6 451.7,192.3 451.3,192.4ZM138.9,264.9L136.6,262.3 138.9,260.4 140,262.3 138.9,264.9ZM143.1,169.4L142.6,169 140.7,165.1 143.1,164.8 144.8,165.1 143.5,169 143.1,169.4ZM147.3,176.8L146,176.8 147.3,176.2 147.4,176.8 147.3,176.8ZM155.8,235.3L155.7,235.1 155.8,234.2 156,235.1 155.8,235.3ZM168.4,305.7L167.8,305.1 168.4,304.8 168.9,305.1 168.4,305.7ZM176.9,312.9L176.8,312.9 176.9,312.8 176.9,312.9ZM223.3,325.5L221.3,324.6 223.3,323.5 224.6,324.6 223.3,325.5ZM240.2,356.3L239.3,355.7 240.2,354.7 241.9,355.7 240.2,356.3ZM248.7,360.8L247.4,359.6 248.7,358.1 249.9,359.6 248.7,360.8ZM261.3,364.1L261,363.4 261.3,362.7 262.1,363.4 261.3,364.1ZM269.8,344.9L269,344 266.4,340.1 265.6,339.9 261.3,337.9 260,336.2 261.3,334.8 263.5,332.3 261.3,330 259.3,332.3 257.1,334.2 253,336.2 252.9,336.3 248.7,336.7 248,336.2 248.7,332.4 248.8,332.3 249.6,328.4 248.7,327.5 247.4,328.4 248.6,332.3 244.4,332.5 244.1,332.3 240.2,328.9 236,330.1 233.3,328.4 231.8,327.1 231.3,328.4 227.6,330 225.9,328.4 227.6,326.6 231.1,324.6 229.4,320.7 227.6,317.5 223.3,316.9 223,316.8 219.1,315.4 214.9,313.6 213.5,312.9 210.7,310.8 208.7,309 206.4,306.9 205,305.1 202.2,303.5 199.4,301.2 199,297.3 198,295.3 195.1,297.3 193.8,298.2 193.4,297.3 191.7,293.4 193.8,290.3 198,290.1 198.2,289.6 198,289.4 193.8,289.1 189.6,288 187.7,285.7 186.1,281.8 185.3,280.4 183.9,281.8 182.1,285.7 181.1,286.6 179.9,285.7 179.3,281.8 178.5,277.9 176.9,276.4 174.3,277.9 172.7,278.3 171.8,277.9 172.7,275 173.2,274 175,270.1 176.9,267.1 181.1,266.6 181.7,266.2 181.1,265.5 176.9,265.5 173.7,262.3 172.7,259 172.4,258.4 168.4,255.1 164.9,258.4 164.4,262.3 164.2,262.7 164.1,262.3 163.6,258.4 161.9,254.6 164.2,250.7 164.3,250.7 168.4,246.8 169.1,246.8 168.4,246.7 164.2,243 163.9,242.9 160,240.5 158.5,239 160,237.8 164.2,238.4 165.4,235.1 164.2,231.3 164.1,231.2 164.1,227.3 163.3,223.4 164.2,220.7 165,219.6 164.2,218.3 162.9,215.7 164.2,214.2 168.4,211.8 167.4,207.9 166.6,204 165.3,200.1 164.2,199 163.5,196.2 164.2,192.7 168.2,196.2 168.4,196.4 168.5,196.2 170,192.3 171.4,188.4 169.8,184.6 168.4,181.6 167.9,180.7 164.2,177.1 160.4,176.8 164.2,175.9 168.4,175.2 170.3,176.8 172.7,179.2 174.3,176.8 173.4,172.9 172.7,172.3 171.9,169 171.6,165.1 172.7,163.4 173.9,165.1 176.9,168 181.1,165.6 181.8,165.1 182.4,161.2 181.1,157.7 176.9,157.9 176.5,157.3 176.9,156.9 181.1,156.5 181.7,153.4 181.1,150.3 180.7,149.6 181.1,149.4 185.3,148.3 187.2,145.7 189.6,142.8 193.8,142.4 194.1,141.8 193.8,141.3 191.6,137.9 193.8,136.8 198,134.1 202.2,134.3 202.8,134 202.2,133.4 198,133.9 197.2,130.1 198,127.3 202.2,128.8 204.7,130.1 206.4,131.5 207.7,130.1 209.2,126.2 210.6,122.3 210.4,118.4 210.7,118.2 211,118.4 210.7,122.3 214.3,126.2 214.9,126.4 217.6,126.2 217.6,122.3 219.1,121.3 221.2,118.4 223.3,116.1 227.2,114.6 226.5,110.7 227.6,109.6 231.8,110.4 231.9,110.7 236,113.2 240.2,111.4 240.7,110.7 243.6,106.8 244.4,106.1 248.7,104.3 252.9,103.9 257.1,106 257.9,102.9 258,99 261.3,97.1 265.6,97.2 269.8,98.2 270.9,99 269.8,99.5 267.2,102.9 269.8,104.3 272.4,102.9 274,100.6 274.9,99 277.5,95.1 278.2,94.6 280,95.1 282.4,99 282.4,100.5 282.5,99 286.7,95.3 290.3,99 290.9,101 294.7,99 292.3,95.1 295.1,93.6 299.3,93.5 299.8,95.1 303.6,98.5 307.8,98.9 308.1,99 311,102.9 312,103.8 314.9,102.9 316.2,99.8 316.8,102.9 320.4,104.3 324.5,106.8 324.7,106.9 327.1,106.8 328.9,106.6 329.1,106.8 333,110.7 333.1,110.8 333.2,110.7 336,106.8 337.3,105 339.9,106.8 340.4,110.7 341.6,112.1 343,110.7 345.8,108 348,106.8 350,106.1 350.8,106.8 350,109.9 349.6,110.7 350,111.4 353.7,114.6 354.2,115.2 358.4,116.8 359.6,114.6 362.7,112.5 365.9,114.6 362.7,117.5 360.5,118.4 362.7,119.9 366,122.3 366.9,122.5 371.1,125.1 374.4,126.2 375.3,126.4 377.7,126.2 379.6,126 379.8,126.2 379.6,126.5 378.1,130.1 379.6,133.3 383.8,130.5 387.3,134 388,136.5 389.1,134 392.2,132.6 393.7,134 393.1,137.9 396.4,140.1 397.3,141.8 397.8,145.7 396.4,149 396.1,149.6 395.2,153.4 396.4,154 398.7,157.3 400.5,161.2 400.7,161.9 402.9,165.1 404.7,169 404.9,169.1 409.1,169.4 413.3,171.3 414,172.9 416.9,176.8 413.3,178.7 411.8,180.7 413.3,183.2 417.6,184.2 418,184.6 419.2,188.4 417.6,191.2 415.6,192.3 415.7,196.2 416.5,200.1 417.6,203.2 419.3,200.1 421.8,197.6 425,200.1 423.6,204 424.2,207.9 422.1,211.8 423.2,215.7 421.8,218.3 420.6,219.6 421.8,221.7 422.4,223.4 421.8,224 420.2,227.3 421.8,229.5 426,228.5 428.4,231.2 426,234.2 421.8,233.5 420,235.1 417.6,237.4 416.5,239 417.6,240.5 421.7,239 421.8,238.9 421.8,239 421.8,239.4 421.1,242.9 421.8,243.6 424.1,246.8 425.2,250.7 421.8,254.6 421.8,254.8 420.7,258.4 417.6,262.3 416.4,262.3 413.3,262.8 411.8,266.2 412,270.1 411,274 409.1,277.6 408.2,277.9 404.9,278.4 402.4,281.8 400.7,285.2 400.2,285.7 400.7,287 401.2,289.6 400.7,290.2 399.8,289.6 396.4,287.7 395,289.6 396.4,291.3 398.5,293.4 396.4,295.2 393.4,297.3 396.4,300.2 397.2,301.2 396.4,301.9 392.2,301.7 390.1,301.2 388,298.9 387.7,301.2 384.3,305.1 383.8,306.4 379.6,306.4 377.9,309 375.3,312 371.1,310.3 366.9,311.9 366.2,312.9 366.5,316.8 366.9,317.5 367,320.7 366.9,320.7 362.7,321.4 361.8,320.7 358.4,319.3 357,320.7 358.4,322.7 360.4,324.6 358.4,327.9 356.2,324.6 354.2,323.4 352.4,324.6 350.2,328.4 350,328.7 345.8,328.7 345.7,328.4 341.6,327.5 340.8,328.4 341.6,331 344.4,332.3 341.6,336.2 341.6,336.3 337.3,336.7 333.7,340.1 333.1,340.7 328.9,341 325.3,340.1 325.9,336.2 324.7,335.4 324,336.2 322.7,340.1 320.4,340.4 319.7,340.1 316.2,338.6 312,337.5 308.5,340.1 307.9,344 307.8,344.1 307.6,344 303.6,341.9 299.3,340.6 296.6,344 295.1,345.7 293.6,344 290.9,342.1 289.3,344 286.7,345.6 282.9,344 282.4,340.1 279.9,344 278.2,344.3 277.2,344 275.1,340.1 274,339.2 271.4,340.1 271.9,344 269.8,344.9ZM282.4,348.3L281.8,347.9 282.4,345.8 282.9,347.9 282.4,348.3ZM430.2,246.9L430,246.8 430.2,246.7 430.3,246.8 430.2,246.9ZM442.9,177.7L441.8,176.8 442.9,176.3 443.5,176.8 442.9,177.7ZM138.9,193.1L136.9,192.3 138.9,191.2 140,192.3 138.9,193.1ZM160,212.6L159.4,211.8 160,210.2 161.1,211.8 160,212.6ZM164.2,186.2L163.5,184.6 164.2,183.8 165.7,184.6 164.2,186.2ZM168.4,150L168,149.6 168.4,149.1 169.6,149.6 168.4,150ZM181.1,142.5L180.6,141.8 181.1,141 182.1,141.8 181.1,142.5ZM185.3,118.7L184.5,118.4 185.3,118.1 185.7,118.4 185.3,118.7ZM198,103.4L196.7,102.9 198,101.5 198.5,102.9 198,103.4ZM223.3,84.9L221,83.4 223.3,82 224.3,83.4 223.3,84.9ZM236,84.3L233.2,83.4 236,82 236.8,83.4 236,84.3ZM240.2,79.6L240.1,79.6 240.2,79.4 240.3,79.6 240.2,79.6ZM274,71.8ZM282.4,80.2L281.8,79.6 282.4,78.3 284,79.6 282.4,80.2ZM286.7,94.7L284.9,91.2 286.7,89.8 289.9,91.2 286.7,94.7ZM290.9,72.2L288.8,71.8 289.5,67.9 290.9,67.4 291.4,67.9 292.6,71.8 290.9,72.2ZM337.3,80.5L336.1,79.6 337.3,78 338.6,79.6 337.3,80.5ZM350,92.4L349.2,91.2 350,89.4 350.9,91.2 350,92.4ZM358.4,110.8L358.4,110.7 358.4,110.6 358.5,110.7 358.4,110.8ZM404.9,160.2L402.5,157.3 404.9,155.3 406.7,157.3 404.9,160.2ZM413.3,126.8L412.8,126.2 413.3,125.4 414,126.2 413.3,126.8ZM138.9,173.7L138.2,172.9 138.9,172.5 139.2,172.9 138.9,173.7ZM168.4,120.3L166.1,118.4 168.4,116.5 169.6,118.4 168.4,120.3ZM404.9,111.7L404.1,110.7 404.9,109.9 406.1,110.7 404.9,111.7ZM311.5,382.9L312,383.4 312.9,382.9 312.8,379 312,377.7 310.5,379 311.5,382.9ZM320.2,382.9L320.4,383 320.5,382.9 320.4,382.8 320.2,382.9ZM255.5,379L257.1,379.6 261.3,379.5 265.6,380.3 268,379 265.6,376 261.3,378.1 257.1,377.5 255.5,379ZM294.2,379L295.1,379.2 295.5,379 295.1,378.3 294.2,379ZM323.8,375.1L324.7,375.6 325.2,375.1 328.9,371.3 329.2,371.2 328.9,371 324.7,370.9 324.5,371.2 323.8,375.1ZM357.9,375.1L358.4,375.6 359.1,375.1 358.4,374.5 357.9,375.1ZM231.6,367.3L231.8,367.5 232,367.3 231.8,364 231.6,367.3ZM370.8,359.6L371.1,359.8 371.9,359.6 371.1,359.1 370.8,359.6ZM378.4,351.8L379.6,352.3 380.6,351.8 379.6,351.2 378.4,351.8ZM167.6,328.4L168.4,328.6 169,328.4 168.4,328 167.6,328.4ZM414.9,328.4L417.6,329.7 418.7,328.4 417.6,327.4 414.9,328.4ZM424.2,316.8L426,317.9 427.2,316.8 426,315.7 424.2,316.8ZM142.6,305.1L143.1,305.1 142.6,305.1ZM209.5,305.1L210.7,306.1 211.3,305.1 210.7,303.6 209.5,305.1ZM438.1,305.1L438.7,306.3 439.7,305.1 438.7,301.9 438.1,305.1ZM450.8,297.3L451.3,297.8 451.8,297.3 451.3,296.2 450.8,297.3ZM447.4,277.9L451.3,279.3 453,277.9 451.3,276.7 447.4,277.9ZM413.1,258.4L413.3,260.7 413.6,258.4 413.3,258.1 413.1,258.4ZM462.7,254.6L464,256.9 467.7,254.6 464,252.7 462.7,254.6ZM109.3,250.7 109.4,250.7 109.3,250.6 109.3,250.7ZM458.4,250.7L459.8,251 460.4,250.7 459.8,249.3 458.4,250.7ZM412.9,246.8L413.3,247.3 417.6,247.6 418.4,246.8 417.6,246.2 413.3,246.4 412.9,246.8ZM453.6,246.8L455.6,248.6 457.6,246.8 455.6,245.2 453.6,246.8ZM113,235.1L113.6,236 114.4,235.1 113.6,234.1 113,235.1ZM164.4,231.2L168.4,231.8 168.9,231.2 168.4,230.9 164.4,231.2ZM117.5,219.6L117.8,219.8 118.3,219.6 117.8,219 117.5,219.6ZM112.7,215.7L113.6,216 114.3,215.7 113.6,215.5 112.7,215.7ZM117.5,211.8L117.8,212.9 118.8,211.8 117.8,211.2 117.5,211.8ZM463.8,211.8L464,211.8 464.1,211.8 464,211.7 463.8,211.8ZM412.3,207.9L413.3,208.6 417.2,207.9 413.3,207.3 412.3,207.9ZM113.2,204L113.6,205 116.5,204 113.6,203.5 113.2,204ZM112.4,196.2L113.6,197.9 115.1,196.2 113.6,193.8 112.4,196.2ZM116.6,192.3L117.8,192.8 118.5,192.3 117.8,190.3 116.6,192.3ZM118.6,188.4L122,190.1 124,188.4 122,187.3 118.6,188.4ZM408.4,176.8L409.1,177.4 410.3,176.8 409.1,175.1 408.4,176.8ZM399.7,172.9L400.7,173.2 401.1,172.9 400.7,172.2 399.7,172.9ZM125.5,161.2L126.2,163.7 127.1,161.2 126.2,160.3 125.5,161.2ZM182.8,157.3L185.3,157.6 185.7,157.3 185.3,157.1 182.8,157.3ZM446.9,149.6L447.1,149.7 447.3,149.6 447.1,149.5 446.9,149.6ZM387,145.7L388,146.1 389.1,145.7 388,144.4 387,145.7ZM424.3,130.1L426,131.5 427.2,130.1 426,127.5 424.3,130.1ZM155.6,114.6L155.8,114.6 155.9,114.6 155.8,114.5 155.6,114.6ZM248.6,114.6L248.7,114.6 248.7,114.5 248.6,114.6ZM425.8,114.6L426,114.8 426.2,114.6 426,114.3 425.8,114.6ZM275.9,102.9L278.2,105.6 282.2,102.9 278.2,101.7 275.9,102.9ZM302.7,102.9L303.6,103.5 304.4,102.9 303.6,100.5 302.7,102.9ZM400.1,95.1L400.7,95.7 401.6,95.1 400.7,94.7 400.1,95.1ZM188.2,91.2L189.6,93.5 191,91.2 189.6,89.4 188.2,91.2ZM377.8,87.3L379.6,88.3 380.4,87.3 379.6,86.4 377.8,87.3ZM209.5,79.6L210.7,79.8 212.2,79.6 210.7,79.3 209.5,79.6ZM253.6,64L257.1,65.9 261.3,64.5 263.6,64 261.3,63.8 257.1,61.9 253.6,64ZM274,52.3L274,52.4 274,52.3Z"/>
<path fill="#ff1500" d="M281.8,347.9L282.4,348.3 282.9,347.9 282.4,345.8 281.8,347.9ZM303.1,347.9L303.6,348.8 304.2,347.9 303.6,346.5 303.1,347.9ZM269,344L269.8,344.9 271.9,344 271.4,340.1 274,339.2 275.1,340.1 277.2,344 278.2,344.3 279.9,344 282.4,340.1 282.9,344 286.7,345.6 289.3,344 290.9,342.1 293.6,344 295.1,345.7 296.6,344 299.3,340.6 303.6,341.9 307.6,344 307.8,344.1 307.9,344 308.5,340.1 312,337.5 316.2,338.6 319.7,340.1 320.4,340.4 322.7,340.1 324,336.2 324.7,335.4 325.9,336.2 325.3,340.1 328.9,341 333.1,340.7 333.7,340.1 337.3,336.7 341.6,336.3 341.6,336.2 344.4,332.3 341.6,331 340.8,328.4 341.6,327.5 345.7,328.4 345.8,328.7 350,328.7 350.2,328.4 352.4,324.6 354.2,323.4 356.2,324.6 358.4,327.9 360.4,324.6 358.4,322.7 357,320.7 358.4,319.3 361.8,320.7 362.7,321.4 366.9,320.7 367,320.7 366.9,317.5 366.5,316.8 366.2,312.9 366.9,311.9 371.1,310.3 375.3,312 377.9,309 379.6,306.4 383.8,306.4 384.3,305.1 387.7,301.2 388,298.9 390.1,301.2 392.2,301.7 396.4,301.9 397.2,301.2 396.4,300.2 393.4,297.3 396.4,295.2 398.5,293.4 396.4,291.3 395,289.6 396.4,287.7 399.8,289.6 400.7,290.2 401.2,289.6 400.7,287 400.2,285.7 400.7,285.2 402.4,281.8 404.9,278.4 408.2,277.9 409.1,277.6 411,274 412,270.1 411.8,266.2 413.3,262.8 416.4,262.3 417.6,262.3 420.7,258.4 421.8,254.8 421.8,254.6 425.2,250.7 424.1,246.8 421.8,243.6 421.1,242.9 421.8,239.4 421.8,239 421.8,238.9 421.7,239 417.6,240.5 416.5,239 417.6,237.4 420,235.1 421.8,233.5 426,234.2 428.4,231.2 426,228.5 421.8,229.5 420.2,227.3 421.8,224 422.4,223.4 421.8,221.7 420.6,219.6 421.8,218.3 423.2,215.7 422.1,211.8 424.2,207.9 423.6,204 425,200.1 421.8,197.6 419.3,200.1 417.6,203.2 416.5,200.1 415.7,196.2 415.6,192.3 417.6,191.2 419.2,188.4 418,184.6 417.6,184.2 413.3,183.2 411.8,180.7 413.3,178.7 416.9,176.8 414,172.9 413.3,171.3 409.1,169.4 404.9,169.1 404.7,169 402.9,165.1 400.7,161.9 400.5,161.2 398.7,157.3 396.4,154 395.2,153.4 396.1,149.6 396.4,149 397.8,145.7 397.3,141.8 396.4,140.1 393.1,137.9 393.7,134 392.2,132.6 389.1,134 388,136.5 387.3,134 383.8,130.5 379.6,133.3 378.1,130.1 379.6,126.5 379.8,126.2 379.6,126 377.7,126.2 375.3,126.4 374.4,126.2 371.1,125.1 366.9,122.5 366,122.3 362.7,119.9 360.5,118.4 362.7,117.5 365.9,114.6 362.7,112.5 359.6,114.6 358.4,116.8 354.2,115.2 353.7,114.6 350,111.4 349.6,110.7 350,109.9 350.8,106.8 350,106.1 348,106.8 345.8,108 343,110.7 341.6,112.1 340.4,110.7 339.9,106.8 337.3,105 336,106.8 333.2,110.7 333.1,110.8 333,110.7 329.1,106.8 328.9,106.6 327.1,106.8 324.7,106.9 324.5,106.8 320.4,104.3 316.8,102.9 316.2,99.8 314.9,102.9 312,103.8 311,102.9 308.1,99 307.8,98.9 303.6,98.5 299.8,95.1 299.3,93.5 295.1,93.6 292.3,95.1 294.7,99 290.9,101 290.3,99 286.7,95.3 282.5,99 282.4,100.5 282.4,99 280,95.1 278.2,94.6 277.5,95.1 274.9,99 274,100.6 272.4,102.9 269.8,104.3 267.2,102.9 269.8,99.5 270.9,99 269.8,98.2 265.6,97.2 261.3,97.1 258,99 257.9,102.9 257.1,106 252.9,103.9 248.7,104.3 244.4,106.1 243.6,106.8 240.7,110.7 240.2,111.4 236,113.2 231.9,110.7 231.8,110.4 227.6,109.6 226.5,110.7 227.2,114.6 223.3,116.1 221.2,118.4 219.1,121.3 217.6,122.3 217.6,126.2 214.9,126.4 214.3,126.2 210.7,122.3 211,118.4 210.7,118.2 210.4,118.4 210.6,122.3 209.2,126.2 207.7,130.1 206.4,131.5 204.7,130.1 202.2,128.8 198,127.3 197.2,130.1 198,133.9 202.2,133.4 202.8,134 202.2,134.3 198,134.1 193.8,136.8 191.6,137.9 193.8,141.3 194.1,141.8 193.8,142.4 189.6,142.8 187.2,145.7 185.3,148.3 181.1,149.4 180.7,149.6 181.1,150.3 181.7,153.4 181.1,156.5 176.9,156.9 176.5,157.3 176.9,157.9 181.1,157.7 182.4,161.2 181.8,165.1 181.1,165.6 176.9,168 173.9,165.1 172.7,163.4 171.6,165.1 171.9,169 172.7,172.3 173.4,172.9 174.3,176.8 172.7,179.2 170.3,176.8 168.4,175.2 164.2,175.9 160.4,176.8 164.2,177.1 167.9,180.7 168.4,181.6 169.8,184.6 171.4,188.4 170,192.3 168.5,196.2 168.4,196.4 168.2,196.2 164.2,192.7 163.5,196.2 164.2,199 165.3,200.1 166.6,204 167.4,207.9 168.4,211.8 164.2,214.2 162.9,215.7 164.2,218.3 165,219.6 164.2,220.7 163.3,223.4 164.1,227.3 164.1,231.2 164.2,231.3 165.4,235.1 164.2,238.4 160,237.8 158.5,239 160,240.5 163.9,242.9 164.2,243 168.4,246.7 169.1,246.8 168.4,246.8 164.3,250.7 164.2,250.7 161.9,254.6 163.6,258.4 164.1,262.3 164.2,262.7 164.4,262.3 164.9,258.4 168.4,255.1 172.4,258.4 172.7,259 173.7,262.3 176.9,265.5 181.1,265.5 181.7,266.2 181.1,266.6 176.9,267.1 175,270.1 173.2,274 172.7,275 171.8,277.9 172.7,278.3 174.3,277.9 176.9,276.4 178.5,277.9 179.3,281.8 179.9,285.7 181.1,286.6 182.1,285.7 183.9,281.8 185.3,280.4 186.1,281.8 187.7,285.7 189.6,288 193.8,289.1 198,289.4 198.2,289.6 198,290.1 193.8,290.3 191.7,293.4 193.4,297.3 193.8,298.2 195.1,297.3 198,295.3 199,297.3 199.4,301.2 202.2,303.5 205,305.1 206.4,306.9 208.7,309 210.7,310.8 213.5,312.9 214.9,313.6 219.1,315.4 223,316.8 223.3,316.9 227.6,317.5 229.4,320.7 231.1,324.6 227.6,326.6 225.9,328.4 227.6,330 231.3,328.4 231.8,327.1 233.3,328.4 236,330.1 240.2,328.9 244.1,332.3 244.4,332.5 248.6,332.3 247.4,328.4 248.7,327.5 249.6,328.4 248.8,332.3 248.7,332.4 248,336.2 248.7,336.7 252.9,336.3 253,336.2 257.1,334.2 259.3,332.3 261.3,330 263.5,332.3 261.3,334.8 260,336.2 261.3,337.9 265.6,339.9 266.4,340.1 269,344ZM290.9,317.7L289.8,316.8 286.7,315.3 282.4,314.1 278.2,314.7 274,314.4 269.8,314.9 265.6,313.4 261.3,313.9 260.1,312.9 258.7,309 257.1,308 252.9,308.4 248.7,308.1 244.7,305.1 244.4,304.8 241.6,301.2 240.2,299.9 236,299.2 231.8,297.8 230.7,297.3 227.6,294.1 226.2,293.4 223.3,292.4 221.3,289.6 219.1,286.2 218.6,285.7 214.9,283.7 213.1,281.8 214.9,279.6 216.2,277.9 214.9,276.6 210.7,275.2 209.3,274 208.2,270.1 206.4,266.7 202.2,266.8 201.2,266.2 200.5,262.3 202.2,258.6 202.3,258.4 202.5,254.6 202.2,254.2 201.3,254.6 198,255.2 197,254.6 195.7,250.7 195.8,246.8 193.8,245.5 190,242.9 191.4,239 193.8,236.2 195.2,235.1 193.8,233.6 192,231.2 191.3,227.3 191.4,223.4 189.6,221.9 187.4,219.6 189.6,216.1 190.2,215.7 193.8,212.9 194.6,211.8 193.8,210.2 189.9,207.9 193.7,204 189.6,200.9 188.9,200.1 189.6,197.9 193.8,199.1 196.8,196.2 195.6,192.3 198,190.1 201.1,188.4 202.2,186.5 203.4,184.6 206.4,183 207.8,180.7 206.4,178.8 202.2,178 201.5,176.8 202.2,175.7 206.3,172.9 204.9,169 206.4,167.6 210.6,165.1 210.6,161.2 210.7,161.1 214.9,159.3 216.8,157.3 219.1,155 222.6,153.4 223.3,150.6 227.6,150 228.1,149.6 231.8,146.6 232.9,145.7 233.7,141.8 234.1,137.9 236,135.6 239.8,137.9 240.2,138.3 240.9,137.9 244.4,134.6 245.3,134 248.7,133.4 250.6,134 252.9,135.2 254.5,134 257.1,132.7 260.6,130.1 261.3,129.4 262.6,130.1 265.6,131.4 268.9,130.1 269.8,129.6 272.6,126.2 272.6,122.3 274,121.2 275.9,122.3 278.2,123.9 280.9,122.3 282.4,120.4 286.7,119 289.6,122.3 290.9,124.7 295.1,124.8 299.3,124.3 302.6,126.2 303.6,127.2 307.8,126.9 308.1,126.2 311.9,122.3 312,122.3 312.2,122.3 316.2,124.5 317,126.2 319.9,130.1 320.4,130.7 323.4,134 324.7,135.5 327.7,137.9 328.9,138.5 330.4,137.9 333.1,135.6 335.1,134 337.3,131.8 341.6,131.4 344.3,134 341.6,136.5 337.3,137.6 337.1,137.9 337,141.8 337.3,141.9 341.6,143 343.8,141.8 345.8,140.8 346.8,141.8 347.6,145.7 350,147 354.2,146.4 358,149.6 356.1,153.4 358.4,154.1 360.4,153.4 362.7,150.7 363.5,153.4 366.9,156.6 368.1,157.3 371,161.2 370.6,165.1 371.1,165.6 373.2,165.1 375.3,163.1 376.1,165.1 375.3,165.7 373.5,169 375.3,171.6 377.6,172.9 379.6,176.2 383.8,176.6 384.1,176.8 384.1,180.7 383.8,181.2 380.1,184.6 383.8,186.8 388,187.6 389,188.4 388,190.7 387.4,192.3 388,193 392.2,195.7 392.9,196.2 393.6,200.1 393.7,204 392.2,207 391.6,207.9 390.8,211.8 392.2,212.9 394.2,215.7 394.6,219.6 392.2,221.9 391.4,223.4 391.4,227.3 390.6,231.2 392.2,232.5 395.2,235.1 392.2,238.4 390.8,239 392,242.9 391.9,246.8 388,248 385.1,250.7 386.2,254.6 384.9,258.4 388,261.7 388.4,262.3 388,262.6 383.8,264 379.6,264.8 378.8,266.2 379.6,267.8 383.8,268.4 385.2,270.1 383.8,271.5 379.6,271.3 375.3,271.3 373.9,274 373.6,277.9 371.1,280.9 369.5,281.8 368,285.7 366.9,287.5 363.4,285.7 362.7,285.3 362.5,285.7 362,289.6 362.7,291.7 364.5,293.4 362.7,294.2 358.4,296.8 356.5,297.3 354.2,298.4 350,299.4 345.8,300.4 341.6,300 341.4,301.2 339.1,305.1 337.3,307.2 333.1,307.9 328.9,308.6 324.7,309 324.6,309 324.7,309.1 327.7,312.9 324.7,315.7 320.4,313.2 320,312.9 317.4,309 316.2,308.1 312,307.7 310.9,309 308.3,312.9 307.8,315.1 303.6,313.1 302.9,312.9 299.3,312.4 298.7,312.9 296.8,316.8 295.1,317.3 290.9,317.7ZM299.3,321.2L298.7,320.7 299.3,319 300.6,320.7 299.3,321.2ZM392.2,255.3L391.4,254.6 392.2,253.2 392.8,254.6 392.2,255.3ZM400.7,209L398.9,207.9 400.7,207.5 401.2,207.9 400.7,209ZM409.1,177.4L408.4,176.8 409.1,175.1 410.3,176.8 409.1,177.4ZM413.3,260.7L413.1,258.4 413.3,258.1 413.6,258.4 413.3,260.7ZM168.4,231.8L164.4,231.2 168.4,230.9 168.9,231.2 168.4,231.8ZM185.3,157.6L182.8,157.3 185.3,157.1 185.7,157.3 185.3,157.6ZM206.4,279L205.5,277.9 206.4,276.4 208,277.9 206.4,279ZM210.7,306.1L209.5,305.1 210.7,303.6 211.3,305.1 210.7,306.1ZM236,305.5L235.6,305.1 236,304.1 236.8,305.1 236,305.5ZM193.8,182.4L193,180.7 193.8,179.4 195.5,180.7 193.8,182.4ZM248.7,114.6L248.6,114.6 248.7,114.5 248.7,114.6ZM252.9,132.2L252,130.1 252.9,129.2 254.1,130.1 252.9,132.2ZM278.2,105.6L275.9,102.9 278.2,101.7 282.2,102.9 278.2,105.6ZM303.6,103.5L302.7,102.9 303.6,100.5 304.4,102.9 303.6,103.5ZM328.9,130.5L328.7,130.1 328.9,129.9 329,130.1 328.9,130.5ZM388,146.1L387,145.7 388,144.4 389.1,145.7 388,146.1ZM400.7,173.2L399.7,172.9 400.7,172.2 401.1,172.9 400.7,173.2ZM413.3,247.3L412.9,246.8 413.3,246.4 417.6,246.2 418.4,246.8 417.6,247.6 413.3,247.3ZM413.3,208.6L412.3,207.9 413.3,207.3 417.2,207.9 413.3,208.6ZM221.3,324.6L223.3,325.5 224.6,324.6 223.3,323.5 221.3,324.6ZM382.1,312.9L383.8,313.4 385.6,312.9 383.8,310.7 382.1,312.9ZM401.6,285.7L404.9,286.5 405.8,285.7 404.9,284.7 401.6,285.7ZM408.7,281.8L409.1,282.1 409.6,281.8 409.1,279.1 408.7,281.8ZM417.1,274L417.6,274.3 418.1,274 417.6,273.2 417.1,274ZM205.3,262.3L206.4,264.4 207.5,262.3 206.4,262 205.3,262.3ZM430,246.8L430.2,246.9 430.3,246.8 430.2,246.7 430,246.8ZM155.7,235.1L155.8,235.3 156,235.1 155.8,234.2 155.7,235.1ZM159.4,211.8L160,212.6 161.1,211.8 160,210.2 159.4,211.8ZM163.5,184.6L164.2,186.2 165.7,184.6 164.2,183.8 163.5,184.6ZM218.3,165.1L219.1,165.3 219.5,165.1 219.1,164.9 218.3,165.1ZM402.5,157.3L404.9,160.2 406.7,157.3 404.9,155.3 402.5,157.3ZM168,149.6L168.4,150 169.6,149.6 168.4,149.1 168,149.6ZM180.6,141.8L181.1,142.5 182.1,141.8 181.1,141 180.6,141.8ZM281.2,130.1L282.4,130.5 282.8,130.1 283.6,126.2 282.4,123.8 280.7,126.2 281.2,130.1ZM358.4,110.7L358.4,110.8 358.5,110.7 358.4,110.6 358.4,110.7ZM284.9,91.2L286.7,94.7 289.9,91.2 286.7,89.8 284.9,91.2Z"/>
<path fill="#ff6a00" d="M298.7,320.7L299.3,321.2 300.6,320.7 299.3,319 298.7,320.7ZM289.8,316.8L290.9,317.7 295.1,317.3 296.8,316.8 298.7,312.9 299.3,312.4 302.9,312.9 303.6,313.1 307.8,315.1 308.3,312.9 310.9,309 312,307.7 316.2,308.1 317.4,309 320,312.9 320.4,313.2 324.7,315.7 327.7,312.9 324.7,309.1 324.6,309 324.7,309 328.9,308.6 333.1,307.9 337.3,307.2 339.1,305.1 341.4,301.2 341.6,300 345.8,300.4 350,299.4 354.2,298.4 356.5,297.3 358.4,296.8 362.7,294.2 364.5,293.4 362.7,291.7 362,289.6 362.5,285.7 362.7,285.3 363.4,285.7 366.9,287.5 368,285.7 369.5,281.8 371.1,280.9 373.6,277.9 373.9,274 375.3,271.3 379.6,271.3 383.8,271.5 385.2,270.1 383.8,268.4 379.6,267.8 378.8,266.2 379.6,264.8 383.8,264 388,262.6 388.4,262.3 388,261.7 384.9,258.4 386.2,254.6 385.1,250.7 388,248 391.9,246.8 392,242.9 390.8,239 392.2,238.4 395.2,235.1 392.2,232.5 390.6,231.2 391.4,227.3 391.4,223.4 392.2,221.9 394.6,219.6 394.2,215.7 392.2,212.9 390.8,211.8 391.6,207.9 392.2,207 393.7,204 393.6,200.1 392.9,196.2 392.2,195.7 388,193 387.4,192.3 388,190.7 389,188.4 388,187.6 383.8,186.8 380.1,184.6 383.8,181.2 384.1,180.7 384.1,176.8 383.8,176.6 379.6,176.2 377.6,172.9 375.3,171.6 373.5,169 375.3,165.7 376.1,165.1 375.3,163.1 373.2,165.1 371.1,165.6 370.6,165.1 371,161.2 368.1,157.3 366.9,156.6 363.5,153.4 362.7,150.7 360.4,153.4 358.4,154.1 356.1,153.4 358,149.6 354.2,146.4 350,147 347.6,145.7 346.8,141.8 345.8,140.8 343.8,141.8 341.6,143 337.3,141.9 337,141.8 337.1,137.9 337.3,137.6 341.6,136.5 344.3,134 341.6,131.4 337.3,131.8 335.1,134 333.1,135.6 330.4,137.9 328.9,138.5 327.7,137.9 324.7,135.5 323.4,134 320.4,130.7 319.9,130.1 317,126.2 316.2,124.5 312.2,122.3 312,122.3 311.9,122.3 308.1,126.2 307.8,126.9 303.6,127.2 302.6,126.2 299.3,124.3 295.1,124.8 290.9,124.7 289.6,122.3 286.7,119 282.4,120.4 280.9,122.3 278.2,123.9 275.9,122.3 274,121.2 272.6,122.3 272.6,126.2 269.8,129.6 268.9,130.1 265.6,131.4 262.6,130.1 261.3,129.4 260.6,130.1 257.1,132.7 254.5,134 252.9,135.2 250.6,134 248.7,133.4 245.3,134 244.4,134.6 240.9,137.9 240.2,138.3 239.8,137.9 236,135.6 234.1,137.9 233.7,141.8 232.9,145.7 231.8,146.6 228.1,149.6 227.6,150 223.3,150.6 222.6,153.4 219.1,155 216.8,157.3 214.9,159.3 210.7,161.1 210.6,161.2 210.6,165.1 206.4,167.6 204.9,169 206.3,172.9 202.2,175.7 201.5,176.8 202.2,178 206.4,178.8 207.8,180.7 206.4,183 203.4,184.6 202.2,186.5 201.1,188.4 198,190.1 195.6,192.3 196.8,196.2 193.8,199.1 189.6,197.9 188.9,200.1 189.6,200.9 193.7,204 189.9,207.9 193.8,210.2 194.6,211.8 193.8,212.9 190.2,215.7 189.6,216.1 187.4,219.6 189.6,221.9 191.4,223.4 191.3,227.3 192,231.2 193.8,233.6 195.2,235.1 193.8,236.2 191.4,239 190,242.9 193.8,245.5 195.8,246.8 195.7,250.7 197,254.6 198,255.2 201.3,254.6 202.2,254.2 202.5,254.6 202.3,258.4 202.2,258.6 200.5,262.3 201.2,266.2 202.2,266.8 206.4,266.7 208.2,270.1 209.3,274 210.7,275.2 214.9,276.6 216.2,277.9 214.9,279.6 213.1,281.8 214.9,283.7 218.6,285.7 219.1,286.2 221.3,289.6 223.3,292.4 226.2,293.4 227.6,294.1 230.7,297.3 231.8,297.8 236,299.2 240.2,299.9 241.6,301.2 244.4,304.8 244.7,305.1 248.7,308.1 252.9,308.4 257.1,308 258.7,309 260.1,312.9 261.3,313.9 265.6,313.4 269.8,314.9 274,314.4 278.2,314.7 282.4,314.1 286.7,315.3 289.8,316.8ZM307.8,301.9L306.4,301.2 303.6,298 299.3,298.7 296,297.3 295.1,294 290.9,297 290.6,297.3 286.7,299.4 283.2,297.3 282.4,296.3 281.3,297.3 278.2,299.7 276.2,297.3 274,296 270.5,297.3 269.8,297.6 269.1,297.3 265.6,294.5 263.6,293.4 261.3,292.6 257.1,290.3 255.8,289.6 253.5,285.7 252.9,285 248.7,283.2 245.8,285.7 244.4,286.4 243.3,285.7 241.4,281.8 240.2,280.7 236,278.8 235.5,277.9 231.8,274.4 231.4,274 231.8,273.3 236,272.6 236.7,270.1 236,269.9 231.8,268.2 229.8,266.2 227.6,264.8 225.1,262.3 223.9,258.4 223.3,257.8 221.3,254.6 219.1,250.7 216.3,246.8 215.9,242.9 214.9,240.5 213.3,239 213.2,235.1 210.7,232.9 209.1,231.2 209.1,227.3 210.7,227.1 212.6,223.4 211.8,219.6 210.7,218.9 208.9,215.7 210.7,212.5 211.8,211.8 213.4,207.9 214.9,205 215.4,204 214.9,201.2 213.7,200.1 214.9,198.3 215.4,196.2 217.2,192.3 216.8,188.4 219.1,184.6 219.1,184.5 223.3,182.8 224.2,180.7 225.5,176.8 227.6,173.8 231.2,172.9 231.8,172.8 233.8,169 236,166.5 240.2,165.2 244.4,165.2 244.5,165.1 244.4,164.9 242.2,161.2 243.7,157.3 244.4,156.7 245.7,157.3 245.7,161.2 248.7,162 250.1,161.2 250.8,157.3 252.8,153.4 252.9,153.3 257.1,152.6 261.3,152.8 265.6,151.4 269.8,152.2 274,149.6 278.2,150.6 280,149.6 282.4,148 283.7,149.6 286.7,151 290.9,149.7 291.1,149.6 290.9,148.6 290,145.7 290.9,144.8 292.7,141.8 295.1,140.8 296.3,141.8 296,145.7 299.3,148 303.6,149.4 307.8,148.4 312,147.1 315.5,149.6 316.2,150.5 320.4,151.8 322.5,153.4 324.7,154.3 326.3,153.4 328.9,152.3 331.4,153.4 328.9,156.7 328.5,157.3 328.9,157.7 333.1,158.7 337.3,158.3 341.6,160.8 345.8,161.1 345.9,161.2 345.8,161.3 343.2,165.1 345.8,167.7 350,168.7 350.5,169 352.9,172.9 354.2,174.6 358.4,176.8 357.8,180.7 358.4,181.3 360.8,180.7 362.7,180.1 363.2,180.7 366.9,184.4 367.3,184.6 369.5,188.4 371.1,190.4 372.8,192.3 373.5,196.2 372.6,200.1 375.3,201.9 376.7,204 375.3,206.7 374.7,207.9 375.3,210.8 375.5,211.8 377.1,215.7 379.6,218 380,219.6 379.6,220.5 375.3,222.4 374.7,223.4 374,227.3 375.3,228.8 376,231.2 375.5,235.1 375.4,239 375.3,239.1 373.4,242.9 371.1,244.9 369.9,246.8 369.5,250.7 369.1,254.6 367.7,258.4 366.9,259.8 365,262.3 364.3,266.2 362.7,268.6 361.4,270.1 358.4,272.2 356.4,274 354.2,276.3 352.3,277.9 350.6,281.8 350,282.3 348.7,281.8 345.8,281 344.7,281.8 341.6,285.7 337.7,289.6 337.3,289.9 335.6,289.6 333.1,288.8 330.4,289.6 328.9,289.8 324.7,292.1 320.4,293 319.3,293.4 316.2,295.3 312,294.4 309.8,297.3 309.4,301.2 307.8,301.9ZM206.4,264.4L205.3,262.3 206.4,262 207.5,262.3 206.4,264.4ZM223.3,266.8L222.3,266.2 223.3,265.3 224.5,266.2 223.3,266.8ZM219.1,165.3L218.3,165.1 219.1,164.9 219.5,165.1 219.1,165.3ZM282.4,130.5L281.2,130.1 280.7,126.2 282.4,123.8 283.6,126.2 282.8,130.1 282.4,130.5ZM235.6,305.1L236,305.5 236.8,305.1 236,304.1 235.6,305.1ZM264.1,289.6L265.6,292.3 267.5,289.6 265.6,288.4 264.1,289.6ZM205.5,277.9L206.4,279 208,277.9 206.4,276.4 205.5,277.9ZM358.4,262.3L358.4,262.4 358.7,262.3 358.4,262.3ZM391.4,254.6L392.2,255.3 392.8,254.6 392.2,253.2 391.4,254.6ZM371,231.2L371.1,231.5 372.6,231.2 371.1,230.1 371,231.2ZM398.9,207.9L400.7,209 401.2,207.9 400.7,207.5 398.9,207.9ZM366.8,200.1L366.9,200.3 368.2,200.1 366.9,199.6 366.8,200.1ZM193,180.7L193.8,182.4 195.5,180.7 193.8,179.4 193,180.7ZM252,130.1L252.9,132.2 254.1,130.1 252.9,129.2 252,130.1ZM328.7,130.1L328.9,130.5 329,130.1 328.9,129.9 328.7,130.1Z"/>
<path fill="#ffb500" d="M306.4,301.2L307.8,301.9 309.4,301.2 309.8,297.3 312,294.4 316.2,295.3 319.3,293.4 320.4,293 324.7,292.1 328.9,289.8 330.4,289.6 333.1,288.8 335.6,289.6 337.3,289.9 337.7,289.6 341.6,285.7 344.7,281.8 345.8,281 348.7,281.8 350,282.3 350.6,281.8 352.3,277.9 354.2,276.3 356.4,274 358.4,272.2 361.4,270.1 362.7,268.6 364.3,266.2 365,262.3 366.9,259.8 367.7,258.4 369.1,254.6 369.5,250.7 369.9,246.8 371.1,244.9 373.4,242.9 375.3,239.1 375.4,239 375.5,235.1 376,231.2 375.3,228.8 374,227.3 374.7,223.4 375.3,222.4 379.6,220.5 380,219.6 379.6,218 377.1,215.7 375.5,211.8 375.3,210.8 374.7,207.9 375.3,206.7 376.7,204 375.3,201.9 372.6,200.1 373.5,196.2 372.8,192.3 371.1,190.4 369.5,188.4 367.3,184.6 366.9,184.4 363.2,180.7 362.7,180.1 360.8,180.7 358.4,181.3 357.8,180.7 358.4,176.8 354.2,174.6 352.9,172.9 350.5,169 350,168.7 345.8,167.7 343.2,165.1 345.8,161.3 345.9,161.2 345.8,161.1 341.6,160.8 337.3,158.3 333.1,158.7 328.9,157.7 328.5,157.3 328.9,156.7 331.4,153.4 328.9,152.3 326.3,153.4 324.7,154.3 322.5,153.4 320.4,151.8 316.2,150.5 315.5,149.6 312,147.1 307.8,148.4 303.6,149.4 299.3,148 296,145.7 296.3,141.8 295.1,140.8 292.7,141.8 290.9,144.8 290,145.7 290.9,148.6 291.1,149.6 290.9,149.7 286.7,151 283.7,149.6 282.4,148 280,149.6 278.2,150.6 274,149.6 269.8,152.2 265.6,151.4 261.3,152.8 257.1,152.6 252.9,153.3 252.8,153.4 250.8,157.3 250.1,161.2 248.7,162 245.7,161.2 245.7,157.3 244.4,156.7 243.7,157.3 242.2,161.2 244.4,164.9 244.5,165.1 244.4,165.2 240.2,165.2 236,166.5 233.8,169 231.8,172.8 231.2,172.9 227.6,173.8 225.5,176.8 224.2,180.7 223.3,182.8 219.1,184.5 219.1,184.6 216.8,188.4 217.2,192.3 215.4,196.2 214.9,198.3 213.7,200.1 214.9,201.2 215.4,204 214.9,205 213.4,207.9 211.8,211.8 210.7,212.5 208.9,215.7 210.7,218.9 211.8,219.6 212.6,223.4 210.7,227.1 209.1,227.3 209.1,231.2 210.7,232.9 213.2,235.1 213.3,239 214.9,240.5 215.9,242.9 216.3,246.8 219.1,250.7 221.3,254.6 223.3,257.8 223.9,258.4 225.1,262.3 227.6,264.8 229.8,266.2 231.8,268.2 236,269.9 236.7,270.1 236,272.6 231.8,273.3 231.4,274 231.8,274.4 235.5,277.9 236,278.8 240.2,280.7 241.4,281.8 243.3,285.7 244.4,286.4 245.8,285.7 248.7,283.2 252.9,285 253.5,285.7 255.8,289.6 257.1,290.3 261.3,292.6 263.6,293.4 265.6,294.5 269.1,297.3 269.8,297.6 270.5,297.3 274,296 276.2,297.3 278.2,299.7 281.3,297.3 282.4,296.3 283.2,297.3 286.7,299.4 290.6,297.3 290.9,297 295.1,294 296,297.3 299.3,298.7 303.6,298 306.4,301.2ZM358.4,262.4L358.4,262.3 358.7,262.3 358.4,262.4ZM366.9,200.3L366.8,200.1 366.9,199.6 368.2,200.1 366.9,200.3ZM371.1,231.5L371,231.2 371.1,230.1 372.6,231.2 371.1,231.5ZM265.6,292.3L264.1,289.6 265.6,288.4 267.5,289.6 265.6,292.3ZM290.9,283.4L288.4,281.8 286.7,280.9 282.4,280.6 278.2,281.1 274,279.9 269.8,278.4 265.6,278.4 263.3,277.9 262.2,274 261.3,273.3 257.1,272.9 254.1,270.1 252.9,269.7 250.1,270.1 248.7,270.6 248.4,270.1 245.1,266.2 244.9,262.3 244.4,261.2 243.1,262.3 240.2,263.6 239.1,262.3 238.6,258.4 236,254.8 235.8,254.6 231.8,251.4 230.5,250.7 227.7,246.8 231.4,242.9 227.6,240.2 223.3,239.6 223.1,239 223.3,238.5 225,235.1 225.4,231.2 225,227.3 223.3,225 222.7,223.4 222.6,219.6 223.3,218.4 226.5,215.7 225.5,211.8 225.4,207.9 227.6,204.1 227.6,204 228,200.1 230.6,196.2 231.8,194.7 233.1,192.3 236,189.5 237,188.4 240.2,184.8 240.4,184.6 240.9,180.7 243.6,176.8 244.4,175.6 248.7,174 252.9,173.1 253.2,172.9 253.6,169 257.1,166.7 261.3,167.8 265.3,165.1 265.6,164.8 269.8,162.2 272.1,161.2 274,160 276.1,161.2 278.2,162.3 279.3,161.2 282.4,158.7 286.5,161.2 286.7,161.5 287,161.2 290.9,159.4 295.1,160.9 298.4,157.3 299.3,156.8 303.6,156.6 305.2,157.3 307.8,160.5 308.7,161.2 310.4,165.1 312,165.9 316.2,165.5 316.9,165.1 316.2,164 314.2,161.2 316.2,160.4 318.6,161.2 320.4,162.2 324.7,165.1 324.7,165.2 328.9,167.2 331.1,169 333.1,171.1 335.9,172.9 337.3,175.1 341.6,176.3 341.8,176.8 345.8,180 346.1,180.7 347.1,184.6 349,188.4 350,189.4 352.5,192.3 354.2,193.4 358.4,193.9 358.9,196.2 361.6,200.1 358.4,203.7 358.1,204 358.4,204.6 362.7,206.8 363.8,207.9 362.7,211.3 362.2,211.8 360.3,215.7 360.5,219.6 362.7,223.3 362.8,223.4 362.7,223.8 361.9,227.3 360.4,231.2 361.8,235.1 358.4,236.6 356.9,239 356,242.9 356.4,246.8 357.1,250.7 354.4,254.6 354.2,254.8 353.6,254.6 350,252.9 349.1,254.6 348.7,258.4 347.3,262.3 345.8,264.9 341.6,265.6 340,266.2 339.1,270.1 337.3,272.9 333.1,272.6 332.5,274 328.9,277.4 324.7,276.7 321.1,277.9 320.4,278.2 316.2,281.7 316.2,281.8 312,284.9 308.4,281.8 307.8,281.3 307.1,281.8 303.6,284.4 299.3,285.6 295.1,282.5 290.9,283.4ZM222.3,266.2L223.3,266.8 224.5,266.2 223.3,265.3 222.3,266.2Z"/>
<path fill="#ffff10" d="M288.4,281.8L290.9,283.4 295.1,282.5 299.3,285.6 303.6,284.4 307.1,281.8 307.8,281.3 308.4,281.8 312,284.9 316.2,281.8 316.2,281.7 320.4,278.2 321.1,277.9 324.7,276.7 328.9,277.4 332.5,274 333.1,272.6 337.3,272.9 339.1,270.1 340,266.2 341.6,265.6 345.8,264.9 347.3,262.3 348.7,258.4 349.1,254.6 350,252.9 353.6,254.6 354.2,254.8 354.4,254.6 357.1,250.7 356.4,246.8 356,242.9 356.9,239 358.4,236.6 361.8,235.1 360.4,231.2 361.9,227.3 362.7,223.8 362.8,223.4 362.7,223.3 360.5,219.6 360.3,215.7 362.2,211.8 362.7,211.3 363.8,207.9 362.7,206.8 358.4,204.6 358.1,204 358.4,203.7 361.6,200.1 358.9,196.2 358.4,193.9 354.2,193.4 352.5,192.3 350,189.4 349,188.4 347.1,184.6 346.1,180.7 345.8,180 341.8,176.8 341.6,176.3 337.3,175.1 335.9,172.9 333.1,171.1 331.1,169 328.9,167.2 324.7,165.2 324.7,165.1 320.4,162.2 318.6,161.2 316.2,160.4 314.2,161.2 316.2,164 316.9,165.1 316.2,165.5 312,165.9 310.4,165.1 308.7,161.2 307.8,160.5 305.2,157.3 303.6,156.6 299.3,156.8 298.4,157.3 295.1,160.9 290.9,159.4 287,161.2 286.7,161.5 286.5,161.2 282.4,158.7 279.3,161.2 278.2,162.3 276.1,161.2 274,160 272.1,161.2 269.8,162.2 265.6,164.8 265.3,165.1 261.3,167.8 257.1,166.7 253.6,169 253.2,172.9 252.9,173.1 248.7,174 244.4,175.6 243.6,176.8 240.9,180.7 240.4,184.6 240.2,184.8 237,188.4 236,189.5 233.1,192.3 231.8,194.7 230.6,196.2 228,200.1 227.6,204 227.6,204.1 225.4,207.9 225.5,211.8 226.5,215.7 223.3,218.4 222.6,219.6 222.7,223.4 223.3,225 225,227.3 225.4,231.2 225,235.1 223.3,238.5 223.1,239 223.3,239.6 227.6,240.2 231.4,242.9 227.7,246.8 230.5,250.7 231.8,251.4 235.8,254.6 236,254.8 238.6,258.4 239.1,262.3 240.2,263.6 243.1,262.3 244.4,261.2 244.9,262.3 245.1,266.2 248.4,270.1 248.7,270.6 250.1,270.1 252.9,269.7 254.1,270.1 257.1,272.9 261.3,273.3 262.2,274 263.3,277.9 265.6,278.4 269.8,278.4 274,279.9 278.2,281.1 282.4,280.6 286.7,280.9 288.4,281.8ZM295.1,274.3L294.8,274 290.9,271.1 286.7,271.3 284.8,270.1 282.4,268.8 278.9,270.1 278.2,270.3 277.4,270.1 274,268.3 272.5,266.2 269.8,264.1 265.6,263 265,262.3 261.3,260.6 258.2,258.4 257.1,256.9 252.9,254.6 252.1,254.6 248.7,253.7 247.7,250.7 247.6,246.8 246,242.9 244.4,241.5 240.9,239 240.9,235.1 240.2,233.9 239.3,231.2 240.2,227.9 240.4,227.3 240.2,227.1 237.4,223.4 238.6,219.6 237.6,215.7 240.2,213.2 240.8,211.8 240.5,207.9 240.5,204 243,200.1 244.4,198.3 245.8,196.2 246.3,192.3 248.7,191.1 252.9,189.4 254.1,188.4 255.6,184.6 256.8,180.7 257.1,180.3 257.9,180.7 261.3,181.7 262.7,180.7 265.6,177.8 267,176.8 269.8,174.8 274,174.6 278.2,173.3 279.7,172.9 282.4,171.4 286.7,170.9 290.9,170.8 295.1,171 299.2,172.9 299.3,173 303.6,172.9 307.8,174.9 312,175.1 316.2,175.3 318.8,176.8 320.4,177.9 322.9,180.7 324.7,181.2 328.9,183.6 330.6,184.6 330.2,188.4 333.1,189.9 336.6,192.3 337.3,193.8 340,196.2 341.6,197.8 342.8,200.1 343.7,204 344.1,207.9 344.6,211.8 345.7,215.7 344.9,219.6 345.8,222.8 346.2,223.4 345.8,224.3 345.2,227.3 345.2,231.2 344.9,235.1 344.5,239 344.1,242.9 341.6,245.1 340.3,246.8 337.3,250.2 336.8,250.7 333.6,254.6 333.1,254.6 330.6,258.4 330.3,262.3 328.9,262.8 324.7,263.3 320.4,265.5 320.3,266.2 316.2,268.3 313.2,270.1 312,270.8 307.8,270.8 303.6,272.7 301.9,270.1 299.3,268.9 297,270.1 299.3,273.1 301.3,274 299.3,274.4 295.1,274.3ZM257.1,262.6L256.7,262.3 257.1,261.3 257.7,262.3 257.1,262.6Z"/>
<path fill="#ffff8f" d="M294.8,274L295.1,274.3 299.3,274.4 301.3,274 299.3,273.1 297,270.1 299.3,268.9 301.9,270.1 303.6,272.7 307.8,270.8 312,270.8 313.2,270.1 316.2,268.3 320.3,266.2 320.4,265.5 324.7,263.3 328.9,262.8 330.3,262.3 330.6,258.4 333.1,254.6 333.6,254.6 336.8,250.7 337.3,250.2 340.3,246.8 341.6,245.1 344.1,242.9 344.5,239 344.9,235.1 345.2,231.2 345.2,227.3 345.8,224.3 346.2,223.4 345.8,222.8 344.9,219.6 345.7,215.7 344.6,211.8 344.1,207.9 343.7,204 342.8,200.1 341.6,197.8 340,196.2 337.3,193.8 336.6,192.3 333.1,189.9 330.2,188.4 330.6,184.6 328.9,183.6 324.7,181.2 322.9,180.7 320.4,177.9 318.8,176.8 316.2,175.3 312,175.1 307.8,174.9 303.6,172.9 299.3,173 299.2,172.9 295.1,171 290.9,170.8 286.7,170.9 282.4,171.4 279.7,172.9 278.2,173.3 274,174.6 269.8,174.8 267,176.8 265.6,177.8 262.7,180.7 261.3,181.7 257.9,180.7 257.1,180.3 256.8,180.7 255.6,184.6 254.1,188.4 252.9,189.4 248.7,191.1 246.3,192.3 245.8,196.2 244.4,198.3 243,200.1 240.5,204 240.5,207.9 240.8,211.8 240.2,213.2 237.6,215.7 238.6,219.6 237.4,223.4 240.2,227.1 240.4,227.3 240.2,227.9 239.3,231.2 240.2,233.9 240.9,235.1 240.9,239 244.4,241.5 246,242.9 247.6,246.8 247.7,250.7 248.7,253.7 252.1,254.6 252.9,254.6 257.1,256.9 258.2,258.4 261.3,260.6 265,262.3 265.6,263 269.8,264.1 272.5,266.2 274,268.3 277.4,270.1 278.2,270.3 278.9,270.1 282.4,268.8 284.8,270.1 286.7,271.3 290.9,271.1 294.8,274ZM286.7,262.9L284.4,262.3 282.4,261 278.5,258.4 278.2,258.3 277.9,258.4 274,259.2 272.6,258.4 269.8,255.1 268.5,254.6 265.6,252.9 261.3,250.7 257.9,246.8 257.1,246 255.6,242.9 253.2,239 252.9,237.5 252.4,235.1 250.6,231.2 249.9,227.3 249,223.4 248.9,219.6 248.7,215.7 249.2,211.8 251.5,207.9 251.7,204 252.9,201.9 255,200.1 256.5,196.2 257.1,195.7 261.3,192.8 261.8,192.3 265.6,189.4 266.6,188.4 269.3,184.6 269.8,184.4 274,183.9 278.2,182.6 281.9,180.7 282.4,180.5 286.7,179.8 290.9,179.9 295.1,179.6 299.3,180.1 301.7,180.7 303.6,181.4 307.8,182.3 312,183.9 312.9,184.6 316.2,186.8 320.3,188.4 320.4,188.5 324.7,192 325,192.3 328.9,195.5 329.4,196.2 331.1,200.1 333.1,203.3 333.4,204 334.9,207.9 336.1,211.8 337.3,214.3 337.8,215.7 337.6,219.6 337.3,222.8 337.3,223.4 337.3,223.6 338.3,227.3 337.3,229.3 336.1,231.2 335.3,235.1 334.2,239 333.1,240.6 331.1,242.9 328.9,246.5 328.6,246.8 326,250.7 324.7,251.6 321,254.6 320.4,255.1 316.2,257.4 313,258.4 312,258.8 307.8,259.7 303.6,261.6 302.3,262.3 299.3,263.2 295.4,262.3 295.1,262.2 294.7,262.3 290.9,263 286.7,262.9ZM256.7,262.3L257.1,262.6 257.7,262.3 257.1,261.3 256.7,262.3Z"/>
<path fill="#ffffff" d="M284.4,262.3L286.7,262.9 290.9,263 294.7,262.3 295.1,262.2 295.4,262.3 299.3,263.2 302.3,262.3 303.6,261.6 307.8,259.7 312,258.8 313,258.4 316.2,257.4 320.4,255.1 321,254.6 324.7,251.6 326,250.7 328.6,246.8 328.9,246.5 331.1,242.9 333.1,240.6 334.2,239 335.3,235.1 336.1,231.2 337.3,229.3 338.3,227.3 337.3,223.6 337.3,223.4 337.3,222.8 337.6,219.6 337.8,215.7 337.3,214.3 336.1,211.8 334.9,207.9 333.4,204 333.1,203.3 331.1,200.1 329.4,196.2 328.9,195.5 325,192.3 324.7,192 320.4,188.5 320.3,188.4 316.2,186.8 312.9,184.6 312,183.9 307.8,182.3 303.6,181.4 301.7,180.7 299.3,180.1 295.1,179.6 290.9,179.9 286.7,179.8 282.4,180.5 281.9,180.7 278.2,182.6 274,183.9 269.8,184.4 269.3,184.6 266.6,188.4 265.6,189.4 261.8,192.3 261.3,192.8 257.1,195.7 256.5,196.2 255,200.1 252.9,201.9 251.7,204 251.5,207.9 249.2,211.8 248.7,215.7 248.9,219.6 249,223.4 249.9,227.3 250.6,231.2 252.4,235.1 252.9,237.5 253.2,239 255.6,242.9 257.1,246 257.9,246.8 261.3,250.7 265.6,252.9 268.5,254.6 269.8,255.1 272.6,258.4 274,259.2 277.9,258.4 278.2,258.3 278.5,258.4 282.4,261 284.4,262.3Z"/>
<path fill="none" stroke="#000" stroke-width="2.2" stroke-linejoin="round" d="M84,412.2L88.2,411.9 92.4,413.3 96.7,412.7 98.7,410.1 100.9,407.3 103.5,410.1 100.9,413.3 99.6,414M108.6,414L109.3,413.2 113.6,410.3 117.8,411.2 121.2,410.1 122,409.6 126.2,407.7 126.9,410.1 126.2,410.6 122,412.2 121.7,414M134.7,411.1L133.9,410.1 134.7,409.6 135.2,410.1ZM462.7,414L464,412.6 466.9,414M472.4,412.1L471.3,410.1 470.8,406.2 468.4,402.3 472.4,400.5 476.1,402.3 476.7,404.9 477.3,406.2 476.7,407.2 474.8,410.1ZM495.6,414L494.1,410.1 493.6,409.8 489.3,409.6 485.6,406.2 485.1,405.2 480.9,403.3 478.8,402.3 478.6,398.4 479.5,394.6 476.7,391.9 472.9,390.7 476.7,388.3 479.8,386.8 479.9,382.9 476.7,380.4 474.9,379 476.7,376 480.9,378.6 481.7,379 481.4,382.9 485.1,386.1 487,386.8 488.5,390.7 489.3,392.6 493.6,391.5 493.8,390.7 497.8,388.5 500.6,386.8 497.8,384.4 495.8,382.9 497.8,381.1 499.4,379 497.8,375.3 497.4,375.1 497.8,374.9 502,373.3M92.4,406.8L91.7,406.2 92.4,405.1 94,402.3 95.3,398.4 96.7,396.6 97.5,398.4 100,402.3 97.9,406.2 96.7,406.8ZM113.6,409.5L112.8,406.2 113.6,404.6 114.7,406.2ZM117.8,402.6L117.2,402.3 117.8,402.2 118.8,402.3ZM130.4,404.1L129.7,402.3 130.4,401.9 134.7,402 135.1,402.3 134.7,402.8ZM447.1,403.4L445.7,402.3 447.1,402 448.4,402.3ZM464,403.4L463.6,402.3 464,402 467.5,402.3ZM84,401.4L87.2,402.3 86.4,406.2 84,408.4M88.2,401.5L87.1,398.4 88.2,395.5 90.3,398.4ZM489,398.4L489.3,398.6 493.6,398.5 497.8,399.6 499.2,398.4 497.8,397.5 493.6,398.3 489.3,398ZM92.4,395.1L90.9,394.6 88.2,391.3 87.8,390.7 85.3,386.8 88.2,386.2 92.4,385.2 92.9,386.8 95,390.7 93.5,394.6ZM484.7,394.6L485.1,395 485.9,394.6 485.1,394.3ZM468.2,383.5L467.5,382.9 468.2,382.2 469.9,382.9ZM489.3,381.8L486.6,379 489.3,376.9 492.4,379ZM84,378.1L84.6,379 84,379.3M485.1,376L484.6,375.1 485.1,374.1 485.8,375.1ZM493.6,373.7L491.6,371.2 493.6,370.1 495.7,371.2ZM84,365.2L86.5,367.3 84,369.7M480.9,356.3L480.4,355.7 480.9,355.3 481.5,355.7ZM84,98.3L84.6,99 84,99.8M92.4,95.7L90.9,95.1 92.4,93.5 93.2,95.1ZM84,82.8L84.5,83.4 84,83.9M502,76.8L500.9,75.7 501.5,71.8 497.8,68.1 496.1,67.9 493.6,64.9 493.4,64 493.6,63.8 497.8,63.9 497.9,64 502,66.8M88.2,60.4L87.8,60.1 88.2,59.8 88.6,60.1ZM480.9,57.9L480.3,56.2 480.9,55.7 482.1,56.2ZM502,58.6L497.8,57.5 495.5,56.2 495.4,52.3 497.8,49.6 502,51.3M109.3,49.3L108.2,48.4 109.3,47.6 110,48.4ZM447.1,48.7L446.9,48.4 447.1,48 447.4,48.4ZM493.6,48.7L493.3,48.4 493.6,48.1 494,48.4ZM84,45.8L85.2,48.4 85.8,52.3 84,55.1M113.6,44.8L113.2,44.6 113.6,44.2 115.3,44.6ZM451.3,45.1L450.4,44.6 451.3,43.2 452.1,44.6ZM502,46.7L498.5,44.6 497.8,44.3 493.6,42.9 489.3,43.4 487.8,40.7 489.3,39 493.6,38.9 496.1,36.8 493.6,35 489.3,35.2 486.3,36.8 485.1,37.7 484,36.8 483.7,32.9 485.1,30.8 487,29M122,41.2L120.2,40.7 121.9,36.8 122,36.7 122.4,36.8 122.9,40.7ZM468.2,40.9L468.1,40.7 468.2,40.5 469.6,40.7ZM476.7,42.9L472.8,40.7 476.7,39.1 478.5,40.7ZM84,37.2L86.8,40.7 88.2,42.4 89.4,44.6 88.2,46 85.1,44.6 84,43.9M109.3,39.4L107,36.8 109.3,35.5 110.7,36.8ZM459.8,37.2L459.1,36.8 459.8,35.8 460.3,36.8ZM126.2,33.1L126.2,32.9 126.2,32.8 126.3,32.9ZM455.6,33.2L455.3,32.9 455.6,32.7 456.1,32.9ZM464,33.8L462.1,32.9 464,31.2 466.7,32.9ZM84,30L87.5,29M89,29L92.4,30.2 94.1,29M103.5,29L103.9,32.9 100.9,36.6 97.7,32.9 96.7,31.1 95,32.9 95.9,36.8 92.6,40.7 92.4,40.8 92.2,40.7 90.7,36.8 88.2,34.3 84,36.1M111.9,29L109.3,30.7 107.4,29M473,29L472.4,29.9 471.8,29M209.2,410.1L210.7,411.5 211.4,410.1 210.7,409ZM244.6,414L248.6,410.1 248.6,406.2 248.7,406.1 248.8,406.2 248.9,410.1 251,414M255.9,414L256.8,410.1 257.1,410 257.4,410.1 261.3,413.2 264.5,414M278.2,411.6L277,410.1 276,406.2 278.2,404.4 280.5,406.2 282.4,409.2 283.6,410.1 282.4,411.4ZM290.2,414L290.9,413.8 295.1,413.7 295.2,414M307.8,410.4L307.2,410.1 307.8,409.3 308,410.1ZM316.2,410.4L315.8,410.1 316.2,409.9 316.5,410.1ZM320.2,414L320.4,413.8 320.9,414M337.3,411.8L336.8,410.1 337.3,409.6 337.9,410.1ZM345.4,414L345.8,413.7 349.9,410.1 345.8,406.8 344.9,406.2 345.3,402.3 345.8,401.6 347.2,402.3 350,404.6 351.4,406.2 350,410.1 354.2,413 356.9,410.1 358,406.2 358.4,405.9 359.2,406.2 362.7,407.9 365,406.2 366.9,403.9 370.4,402.3 366.9,401.4 364.9,398.4 366.9,395.8 369.9,398.4 371.1,401.8 374.5,398.4 375.3,398.2 375.9,398.4 377.8,402.3 379.6,403.8 380.9,402.3 381.8,398.4 383.8,397 388,395.9 392.2,397 394.5,394.6 394.2,390.7 394.5,386.8 394,382.9 395.5,379 396.4,378.8 396.7,379 400.7,382.8 402.4,382.9 404.9,383.4 405.2,382.9 409.1,381 410.8,382.9 409.1,386 407.6,386.8 407.2,390.7 409.1,393.1 410.8,390.7 413.3,387.6 414,386.8 415.1,382.9 414.7,379 413.3,377.7 409.1,375.7 407.4,375.1 409.1,374.5 413.3,373.4 414.9,371.2 416.9,367.3 417.6,367 418.5,367.3 421.8,370.2 422.3,371.2 421.8,372.6 419.4,375.1 421.8,376.4 426,376 426.8,375.1 430.2,373.5 431.4,371.2 430.2,367.6 426,369.1 423.2,367.3 426,364.1 430.2,366.9 432.2,363.4 434.4,361.7 437.2,363.4 438.7,364.3 439.4,363.4 438.7,361.5 437.4,359.6 435.3,355.7 434.4,353.6 430.2,351.9 430.2,351.8 430.2,351.7 434.4,350.7 436,351.8 438.7,352.8 440.1,351.8 440.1,347.9 442.9,345.7 446,347.9 445.4,351.8 444.5,355.7 447.1,357.6 449,355.7 448.3,351.8 449.1,347.9 451.3,346.7 453.3,347.9 455.6,348.4 456.4,347.9 455.6,346.4 453.6,344 454.5,340.1 453.6,336.2 451.3,334.4 447.1,335.4 442.9,333.4 442.2,332.3 442.9,331.8 447.1,331.8 451.3,331.7 454.3,328.4 455.6,327.4 457.2,328.4 455.9,332.3 456.5,336.2 459.8,337.6 461.4,336.2 462.1,332.3 464,330 466.2,328.4 464,325.6 463,324.6 464,324.2 468,320.7 468.2,317.7 468.3,316.8 471.1,312.9 472.4,311.6 473.9,312.9 474.6,316.8 472.4,319.1 468.7,320.7 472.4,322.1 474.8,320.7 476.7,319.3 480.9,318.7 483.9,316.8 480.9,314.4 478.7,312.9 478.5,309 478.6,305.1 479.9,301.2 480.9,299.8 482.3,297.3 480.9,295.3 477.4,293.4 480.9,291.7 482.5,289.6 485.1,287.2 488.9,285.7 486.3,281.8 486.7,277.9 485.1,277.4 480.9,276.3 480.4,274 480.9,273.3 485.1,270.6 489.3,271.6 493.6,271.6 497.8,271.6 502,272.6M373.2,410.1L375.3,413.1 379.6,410.9 381,410.1 379.6,409.1 376.4,406.2 375.3,405.2 374,406.2ZM184.5,406.2L185.3,406.9 186.6,406.2 186.7,402.3 185.3,398.9 184.6,402.3ZM362.7,402.6L362.5,402.3 362.7,402.2 363.2,402.3ZM312,398.6L311.6,398.4 312,398.3 312.2,398.4ZM396.1,398.4L396.4,398.5 396.7,398.4 396.4,398.2ZM180.5,394.6L181.1,395.6 182.5,394.6 181.9,390.7 181.1,389.5 178.6,390.7ZM190,394.6L193.8,396.5 196.4,394.6 193.8,392.7 191.1,390.7 189.6,389.1 187.7,390.7 189.6,394ZM206.4,397.7L205.7,394.6 206.4,391.6 209.3,394.6ZM430.1,394.6L430.2,394.6 430.3,394.6 430.2,394.4ZM371.1,391.8L370.6,390.7 371.1,389.7 371.7,390.7ZM399.6,390.7L400.7,391.2 401.7,390.7 400.7,389.8ZM167.6,382.9L168.4,383.8 169.4,382.9 168.4,381.9ZM404.9,380.4L404.8,379 404.9,378.5 405,379ZM147.3,375.1L147.3,375.2 147.4,375.1 147.3,375.1ZM185.3,371.8L184.6,371.2 185.3,370.8 185.9,371.2ZM142.9,367.3L143.1,367.5 143.3,367.3 143.1,366.6ZM409.1,367.5L408.9,367.3 409.1,367.2 409.3,367.3ZM442.5,367.3L442.9,367.6 443.2,367.3 442.9,367.1ZM421.8,360.8L418.1,359.6 421.8,359 422.7,359.6ZM125.2,351.8L126.2,352.1 126.6,351.8 126.2,350.2ZM112.2,347.9L113.6,348.9 115,347.9 113.6,346.7ZM120.8,347.9L122,349.6 124.6,347.9 122,344.3ZM115.8,340.1L117.8,343.5 118.5,340.1 117.8,339.1ZM103.4,328.4L105.1,330.6 107.5,328.4 105.1,327.2ZM87.9,320.7L88.2,321.4 89.7,320.7 88.2,320.2ZM459.8,322.3L458.9,320.7 459.7,316.8 458.2,312.9 459.8,311.6 462.2,312.9 460.1,316.8 460.5,320.7ZM484.9,320.7L485.1,320.9 485.3,320.7 485.1,320.2ZM113.6,316.9L113.4,316.8 113.6,316.6 113.6,316.8ZM96.7,312.9 97.2,312.9 96.7,312.8ZM92.1,309L92.4,309.3 93.7,309 92.4,308.6ZM485,309L485.1,309.1 489.3,310.6 491.1,309 489.3,307.2 486.1,305.1 485.1,304.4 484.2,305.1ZM472.4,305.5L472.3,305.1 472.4,304.9 472.7,305.1ZM489,297.3L489.3,297.9 490.4,297.3 489.3,296.3ZM100.9,293.7L99.8,293.4 100.9,291.7 101.7,293.4ZM109.3,293.9L107.7,293.4 109.3,292.6 110.3,293.4ZM105.1,290.9L102.4,289.6 105.1,288.9 105.9,289.6ZM480.9,286.4L480.3,285.7 480.9,284.3 481.7,285.7ZM84,283.8L87.8,281.8 84,281M502,263.7L500.5,266.2 497.8,266.9 496.7,266.2 496.7,262.3 493.7,258.4 497.8,254.8 498.3,254.6 499.1,250.7 500,246.8 502,246.1M502,256.2L500.5,258.4 502,261.9M84,252.4L86,250.7 88.2,249 90.3,250.7 92.4,254.5 92.5,254.6 94.8,258.4 92.4,259.7 88.2,260.5 86.3,262.3 88.2,264.4 91.3,266.2 90.3,270.1 91,274 90.3,277.9 92.4,279.6 96.7,278.8 97.8,277.9 96.7,274.7 95.9,274 96.7,273.5 97.1,274 100.9,275.6 102.8,277.9 100.9,281.3 100.5,281.8 96.7,285.2 96,285.7 96.7,289.4 96.8,289.6 96.7,289.6 95,293.4 94.2,297.3 96.7,300.4 100.9,300.2 103.2,301.2 105.1,302.2 108.8,305.1 109.3,306.4 111,305.1 113.6,304.3 114.7,305.1 117.5,309 113.6,310.5 109.3,309.9 105.6,312.9 105.1,313.7 100.9,313.5 100,316.8 100.9,317.6 105.1,319.4 105.8,320.7 109.3,324.3 109.6,324.6 110.6,328.4 111.6,332.3 113.6,335.6 116.8,332.3 117.8,331.6 118.2,332.3 122,336 126.2,335.7 126.8,336.2 129.5,340.1 130.4,340.5 131.7,340.1 134.7,339 138.9,339.5 140.1,340.1 138.9,341 134.7,341.3 133,344 134.7,347.3 138.9,345.8 142.8,344 143.1,343.6 143.4,344 144,347.9 143.1,348.6 138.9,351 137.2,351.8 136,355.7 134.7,357.6 134.2,359.6 134.7,360.4 138.9,360.7 140.3,359.6 142.8,355.7 143.1,355.3 147.3,353 151.6,354.2 153.7,355.7 151.6,358.5 151.1,359.6 151.3,363.4 151.6,363.9 154.2,367.3 151.6,370.2 150.9,371.2 151.6,372.1 155.3,375.1 155.8,375.3 160,377.8 160.9,379 164.2,380.6 166.4,379 165.6,375.1 164.2,372.8 162,371.2 160,370.2 156.9,367.3 160,363.5 160.2,363.4 164.2,362.4 165,363.4 164.2,365.3 162.8,367.3 164.2,369.5 168.4,368.1 169.4,371.2 171.4,375.1 170.7,379 172.7,380.6 174.3,382.9 176.9,386.7 181.1,385.6 185.3,386.7 189.6,384.9 192.9,386.8 193.8,387.5 198,387.8 202.2,388.8 205.8,390.7 202.2,391.8 199.1,394.6 202.2,397.6 205.8,398.4 202.2,399.8 200.7,402.3 202.2,404.8 205.2,406.2 206.4,407.1 207.2,406.2 206.4,404.9 205.1,402.3 206.4,399.1 210.7,399.8 213.9,398.4 214.9,394.9 215.5,398.4 219.1,401.9 222.8,402.3 223.3,402.7 223.5,402.3 227.6,401.1 229.6,402.3 231.8,404.5 234.7,406.2 233.9,410.1 236,411.6 237.3,410.1 240.2,406.5 242,410.1 242.9,414M489.3,252.2L488.1,250.7 489.3,248.9 493.6,249.4 496.5,250.7 493.6,252.3ZM84,246.4L84.4,246.8 84,247.3M92.4,243.7L89.1,242.9 92.4,241.9 93,242.9ZM502,240.8L499.2,239 502,236.6M96.7,235.2L96.5,235.1 96.7,235 97,235.1ZM502,232.8L500.2,231.2 497.8,228.5 497.2,227.3 497.8,225.8 502,225.2M84,228.3L86.4,231.2 88.2,232.6 89.9,235.1 88.2,238.7 84.2,235.1 84,234.9M493.6,216L493.1,215.7 493.6,214.6 497.8,214 501.4,215.7 497.8,217.3ZM502,211.8M502,206.7L501.1,207.9 497.8,208.9 497,207.9 495.2,204 497.8,201.1 498.2,200.1 499,196.2 497.8,193.6 493.6,194.6 492,192.3 493.6,190.1 495.9,188.4 497,184.6 493.6,181.4 490.1,180.7 493.6,179.1 497.8,178.4 498.3,176.8 499.3,172.9 497.8,169.7 493.6,171.2 490.4,169 489.3,168.5 486.9,165.1 489.3,162.9 490.3,161.2 489.3,158.2 485.1,157.4 484.9,157.3 482.1,153.4 480.9,152 479.3,149.6 480.8,145.7 476.7,144.3 474.6,141.8 476.7,140 479.7,141.8 480.9,145.6 482.8,141.8 480.9,139.7 479.9,137.9 480.9,134.9 483.1,137.9 485.1,139.5 485.9,137.9 485.2,134 485.1,133.9 481.9,130.1 480.9,128.4 476.7,129.1 472.4,128.1 470.5,126.2 468.7,122.3 472.4,120.8 476.6,118.4 472.4,116.4 469,114.6 470.1,110.7 468.2,108.1 464,107.4 461.1,106.8 459.8,106 457.4,102.9 457.2,99 455.6,97.4 451.3,97.2 447.6,95.1 447.1,94.7 445.3,91.2 447.1,87.3 447.1,86.6 451.3,85.3 453.4,83.4 451.3,82.5 447.1,83.4 442.9,83 438.7,83 435.6,79.6 434.4,77.1 433.3,79.6 430.2,81.2 426,79.6 426,79.5 430.2,77 433.2,75.7 433.3,71.8 434.4,70.4 435.4,71.8 438.7,74.3 440.1,71.8 438.7,68.7 437.2,67.9 434.5,64 434.4,63.9 434.4,64 432.5,67.9 430.2,69.6 426,71.1 425,71.8 421.8,74 419.1,71.8 421,67.9 417.6,64.8 413.8,67.9 413.3,68.9 412.8,67.9 410.1,64 409.1,62.3 407.7,60.1 407.8,56.2 404.9,55.3 402.1,56.2 400.7,56.7 396.4,58.2 393.9,56.2 396.4,52.8 396.9,52.3 396.4,52.2 393.3,48.4 394.7,44.6 392.2,43.3 388.8,44.6 388,44.9 387.6,44.6 385.6,40.7 385.5,36.8 383.8,35.4 380.5,36.8 382,40.7 379.6,42.8 375.6,40.7 377.4,36.8 377.7,32.9 379,29M84,197.1L85.8,200.1 84,203.5M489.3,189L487.6,188.4 489.3,187.5 490.6,188.4ZM502,180.2L500.4,180.7 502,181.2M84,175.7L85.5,176.8 84,177.9M485.1,172.9L485,172.9 485.1,171.9 486.3,172.9ZM92.4,165.8L89.6,165.1 88.6,161.2 92.4,158.9 96.7,161.2 92.9,165.1ZM100.9,165.4L100.5,165.1 100.9,161.8 101.4,165.1ZM480.9,166.3L477.4,165.1 478.2,161.2 480.9,158.7 482.5,161.2 483.1,165.1ZM84,164.2L87.1,165.1 84,166.3M100.9,161.1L98.9,157.3 100.9,155.8 102.2,157.3ZM86.2,149.6L88.2,150.7 89.8,149.6 88.2,148.4ZM483.6,149.6L485.1,150.7 487.5,149.6 485.1,148.1ZM84,142.6L85.8,141.8 84,140.6M472.4,139.9L470.6,137.9 468.2,135 467,134 466,130.1 464,129.2 460.2,126.2 464,122.6 467.1,126.2 468.2,128.2 470.5,130.1 472.4,132.2 476.7,132.5 479.6,134 476.7,134.7 474.4,137.9ZM105.1,130.8L103.7,130.1 103.3,126.2 105.1,125 106.3,126.2 106.8,130.1ZM488.9,126.2L489.3,126.3 489.4,126.2 489.3,126.2ZM122,118.6L121.8,118.4 122,118.1 122.6,118.4ZM464,122L462.9,118.4 464,117.2 465.6,118.4ZM459.8,112.1L458.9,110.7 459.8,107.6 460.7,110.7ZM451.3,108.1L449.9,106.8 449.7,102.9 451.3,101.1 454,102.9 453.2,106.8ZM471.9,102.9L472.4,104 473,102.9 472.4,102ZM103.1,99L105.1,100.7 107.7,99 105.1,97.6ZM462,99L464,101.1 467.9,99 464.2,95.1 464,94.9 462.2,95.1ZM117.5,91.2L117.8,92.1 117.9,91.2 117.8,90.9ZM121.2,83.4L122,83.6 122.3,83.4 122,83.2ZM155.8,75.9L155.2,75.7 155.8,75.4 156.6,75.7ZM138.7,67.9L138.9,68 143.1,70.1 144.2,67.9 143.1,67.4 138.9,67.8ZM193.8,61.4L193.5,60.1 193.8,60 196.2,60.1ZM410.5,60.1L413.3,61.8 417.6,62.1 421.8,63.4 426,60.8 427.7,60.1 426,59.6 421.8,57 417.6,56.7 413.3,56.5ZM155.2,56.2L155.8,57 159.2,56.2 155.8,55.5ZM160.6,56.2L164.2,59.2 168.3,56.2 164.2,55.3ZM172.5,52.3L172.7,53.2 173.1,52.3 172.7,52.2ZM421.3,52.3L421.8,53.1 422,52.3 422.2,48.4 421.8,47.8 420.7,48.4ZM166.3,48.4L168.4,48.8 168.7,48.4 168.4,48.2ZM214.9,48.5L214.8,48.4 214.9,48.4 219.1,46 221.1,48.4 219.1,49.6ZM366.9,49.6L366.1,48.4 366.9,47.9 371.1,48.2 371.2,48.4 371.1,48.5ZM383.8,49.2L383,48.4 383.8,47.9 384.4,48.4ZM227.6,42.8L225.5,40.7 227.6,37.1 229.6,40.7ZM354.2,42.1L352.7,40.7 354.2,38.9 357.7,40.7ZM252.9,37.5L251.5,36.8 252.9,35.9 253.4,36.8ZM261.3,38.3L260.3,36.8 261.3,35.6 262.1,36.8ZM274,36.9L273.4,36.8 274,36.4 274.2,36.8ZM299.3,38.7L297.4,36.8 297.9,32.9 299.3,32.7 301,32.9 301.3,36.8ZM312,37.5L310.9,36.8 312,35.5 312.5,36.8ZM350,37L349.7,36.8 350,36.5 350.3,36.8ZM358.4,34.2L357.4,32.9 358.4,31.7 360.2,32.9ZM214.3,29L214.9,29.5 215.4,29M231.2,29L231.8,29.6 233.1,29M238.5,29L238.5,32.9 236,36.8 236.4,40.7 236,40.9 235.6,40.7 236,36.8 231.8,34.4 228.8,32.9 227.6,31.9 226.7,32.9 223.3,36.6 223,36.8 222.3,40.7 219.1,44 214.9,42 210.7,40.9 210.5,40.7 206.4,38.5 203.7,40.7 203.4,44.6 206.4,47.8 209.4,48.4 206.4,49.7 203.2,52.3 203.8,56.2 202.2,57.6 198,58.3 197.9,56.2 195.3,52.3 198,51.9 202.2,48.4 200,44.6 198,43.8 193.8,41.8 189.6,42.3 185.3,44.3 181.1,43.8 180.3,44.6 181.1,45.5 185.3,45 189.2,48.4 189.6,49.1 190,48.4 193.8,45.2 195.7,48.4 193.8,52 193.3,52.3 189.6,56.2 189.5,56.2 186.3,52.3 185.3,51.8 184.3,52.3 181.1,54 176.9,55.2 174.9,56.2 176.9,57.5 177.7,60.1 176.9,61.7 172.7,60.2 168.4,61.1 164.4,64 164.2,64.6 163.6,67.9 160,69.9 155.8,67.9 156,64 155.8,63.8 155.4,64 155.7,67.9 152,71.8 151.6,72.6 150,71.8 147.3,71.1 145.5,71.8 147.3,74.3 148.2,75.7 151.6,77 153.2,79.6 151.6,81 148,79.6 147.3,77.2 145.2,79.6 143.1,81.3 142.5,83.4 138.9,86.2 134.7,85.4 132.2,87.3 130.4,90 129.7,91.2 130.4,93.8 134.7,95 135.1,95.1 134.7,95.2 131.2,99 133.3,102.9 130.4,103 129.9,102.9 126.2,99.3 125.9,99 126.2,98.9 129.4,95.1 126.2,94.2 123.4,95.1 122,97.8 121.6,99 120.5,102.9 122,105.1 124.2,106.8 122,109.2 120.9,110.7 117.8,113.3 113.9,110.7 117.8,108.3 120,106.8 117.8,105.5 113.6,106 112.5,106.8 113.1,110.7 109.3,113.7 108.9,114.6 105.1,116.9 100.9,115.6 98.8,118.4 98.2,122.3 96.7,124.4 92.4,125.9 92.3,126.2 92.4,126.4 95.3,130.1 96.7,132.1 100.9,131.7 102.6,134 100.9,137.5 100.7,137.9 100.9,139 102.8,137.9 105.1,137.6 105.2,137.9 105.7,141.8 105.1,142.2 102.6,145.7 100.9,146.6 96.7,146.3 94.8,145.7 95,141.8 92.9,137.9 92.4,137.6 92,137.9 89.7,141.8 91.7,145.7 92.4,146.6 94.2,149.6 92.4,152.6 91.8,153.4 88.2,156.3 84,156.1M253.7,29L252.9,29.3 248.7,32.1 247.2,32.9 244.4,35.7 242.5,32.9 244.4,30.4 245.4,29M268.2,29L269.8,31.1 270.7,29M276.8,29L274,31.6 271.2,32.9 269.8,34.5 265.6,33.5 264.5,32.9 261.3,31.3 257.7,29M289.5,29L287.9,32.9 286.7,33.7 284.5,36.8 282.4,39 280.7,36.8 280.6,32.9 282.4,29 282.5,29M296.4,29L295.1,32.2 293.8,29M305.4,29L303.6,32.3 302.2,29M342.9,29L345.8,32.3 346.5,32.9 345.8,33.5 341.6,34.9 337.3,34.6 336.6,32.9 333.1,30.6 330.6,32.9 328.9,34.2 326.8,32.9 324.7,30.5 320.4,30.5 319.1,29M356.4,29L354.2,30.8 350,30.1 348.9,29M372.2,29L371.1,31.5 369.8,32.9 371.1,34 373.7,36.8 371.1,38.1 366.9,38 364.7,36.8 364.4,32.9 363.6,29M332.8,386.8L333.1,387.1 333.7,386.8 333.1,386.4ZM276.7,382.9L278.2,383.9 279.9,382.9 278.6,379 280,375.1 282.4,372.3 284,371.2 286.7,370.2 288.4,371.2 286.7,373 284.8,375.1 286.7,377 288.8,375.1 290.9,373.3 295.1,373 299.1,371.2 298.4,367.3 299.3,366.7 301.3,367.3 300,371.2 299.3,372.6 299,375.1 299.3,375.3 301.8,375.1 303.6,374.3 304.9,371.2 307.8,367.6 310.2,371.2 312,372.3 312.5,371.2 314.8,367.3 314.4,363.4 316.2,361.9 319.4,363.4 319.2,367.3 320.4,367.6 321.2,367.3 324.7,364.8 328.9,366.9 333.1,364.1 337.3,365.6 341.6,364.6 344.2,367.3 345.8,368.5 347.4,367.3 350,364.3 352.4,363.4 350,362.6 348.4,359.6 349.2,355.7 350,354.5 351.7,355.7 354.2,356.9 356.2,355.7 358.4,353.7 362.7,352.7 366.6,355.7 366.9,356 367.4,355.7 371.1,353.4 373.1,351.8 371.1,349.3 367.8,347.9 371.1,346.6 373,347.9 375.3,349.3 376.2,347.9 379.6,344.6 381.5,344 383.8,343.1 386.5,340.1 388,337.3 390.6,340.1 392.2,342.2 394.8,340.1 396.4,337 396.9,336.2 396.4,335.7 394.3,332.3 396.4,331.7 398.2,332.3 400.7,334.3 404.9,333.8 406.2,332.3 404.9,331.1 401.9,328.4 404.9,326.8 409,324.6 409.1,324.4 413.3,324.3 417.2,320.7 417.6,319.7 419.3,316.8 421.8,314.4 422.9,312.9 422,309 426,306.6 428.1,305.1 430.2,303.3 434.4,301.8 438.1,301.2 438.7,300.9 442.1,297.3 438.9,293.4 438.7,293.2 436.5,289.6 438.1,285.7 438.7,285 440.1,285.7 440.8,289.6 442.9,291.5 444.5,289.6 447.1,287.3 451.3,287.7 453.6,285.7 451.3,283.8 447.1,282.8 443,281.8 446.9,277.9 447.1,275.6 447.2,274 450.3,270.1 450,266.2 449.3,262.3 451.3,260.5 454.3,262.3 454,266.2 453.8,270.1 455.6,271.2 457,270.1 456.6,266.2 459.3,262.3 458.2,258.4 456.2,254.6 455.6,252.6 452.4,254.6 451.3,255.3 450.6,254.6 448.7,250.7 449.6,246.8 449.5,242.9 451.3,240.5 452.3,239 455.6,237.2 457.7,235.1 455.6,231.7 454.1,231.2 455.6,230.4 458.5,227.3 456.7,223.4 455.6,222 454,219.6 455.6,216.7 457,215.7 455.6,214.3 454.5,211.8 453.4,207.9 455.6,205.3 458.2,204 456.4,200.1 459.8,197.5 460.5,196.2 461.4,192.3 459.8,190.3 457.1,188.4 455.6,187 453,184.6 451.3,183.1 448.5,180.7 451.3,178.1 454.3,180.7 455.6,181.9 459.4,180.7 456.6,176.8 455.6,173 451.3,175 448,172.9 451.3,171.4 455.4,169 451.3,167.6 447.1,166.9 444.9,165.1 447.1,162.1 450.3,161.2 447.1,160.7 442.9,159.3 441.1,157.3 441.4,153.4 438.7,151.2 436.6,149.6 436,145.7 434.9,141.8 434.4,141.4 432.7,141.8 431.9,145.7 432.3,149.6 430.6,153.4 430.2,153.6 429.8,153.4 426.7,149.6 429.1,145.7 426,142.6 424.7,141.8 426,140.8 429.4,137.9 430.2,136.9 431.3,134 430.2,131.9 427.7,134 426,135.2 423.6,134 421.8,132.1 419.2,130.1 421,126.2 419.3,122.3 421.8,120.4 423.6,118.4 421.8,117.1 417.6,115.2 413.3,117.9 411.6,114.6 413.3,111.2 414.7,110.7 413.3,110.1 409.7,106.8 410.1,102.9 409.1,102.3 405,102.9 404.9,102.9 400.7,104.4 399.1,102.9 396.4,101.2 392.2,99.4 388,101.1 385.3,99 383.8,96.5 382.5,95.1 383.8,91.7 385.9,95.1 388,96 392.2,98.7 393.3,95.1 392.2,92.5 388.3,91.2 390.9,87.3 388,86 385.4,87.3 383.8,90.9 383.4,91.2 379.6,92.6 375.3,93.7 373.9,91.2 374.5,87.3 371.1,84.8 366.9,84.4 362.7,84.4 358.4,83.5 354.2,85.6 351.7,83.4 354.2,80.6 357.6,79.6 354.2,79.1 350,76 348.7,79.6 345.8,82.9 343,79.6 343.8,75.7 341.6,75.4 338.7,71.8 337.3,70.2 335,71.8 333.1,73.4 330,71.8 328.9,71.3 325.7,71.8 327.9,75.7 324.7,77.6 323.5,75.7 324.2,71.8 320.4,68.7 316.2,70.2 312.3,71.8 312,72 311.8,71.8 312,70.6 312.4,67.9 312,67.7 307.8,67.4 305.6,67.9 303.6,68.7 301.6,71.8 299.3,74.9 296.1,71.8 298.1,67.9 295.1,66.4 292.4,64 290.9,63 286.7,63.8 286.3,64 286.3,67.9 282.4,71.1 278.2,70 276.5,67.9 274,65.2 269.8,65.2 268,67.9 266.7,71.8 265.6,73.2 264.5,71.8 261.3,69.6 259.1,71.8 257.1,72.9 252.9,75.2 250.4,71.8 248.7,68.8 246.1,67.9 244.4,67 243.9,67.9 244.4,68.6 246.4,71.8 244.4,72.6 240.2,74 238.7,75.7 236,77.8 233.2,75.7 231.8,74.3 228.8,75.7 227.6,76.4 223.3,77.8 219.1,78.7 215.8,79.6 218.1,83.4 214.9,84.7 211.1,87.3 211,91.2 210.7,91.3 208.6,91.2 209.9,87.3 206.4,85.4 203.8,87.3 206.1,91.2 202.2,91.9 200.1,91.2 198,89.8 197.2,91.2 197.7,95.1 193.8,96.3 190.6,99 189.6,99.9 188,99 185.3,97.9 181.8,99 185.3,101.5 186.3,102.9 185.3,103.6 183.2,106.8 181.1,108.7 176.9,109 173.4,110.7 172.7,114 169.8,110.7 168.4,110.4 167.1,110.7 165.9,114.6 164.2,116.3 161.3,118.4 162.3,122.3 160,123.9 159,126.2 156.7,130.1 155.8,131.2 151.6,130.7 149.6,134 150.9,137.9 151.6,139.4 152.5,141.8 155.8,144.2 157.3,145.7 155.8,147.1 152.8,149.6 151.6,150.9 148.5,149.6 149,145.7 150.4,141.8 147.3,140.1 146.1,141.8 144.4,145.7 145.3,149.6 147.3,150.7 148.8,153.4 147.3,157.1 143.1,154.7 142.7,153.4 138.9,150.8 135.5,153.4 137.4,157.3 137.3,161.2 134.7,163.1 131.3,165.1 130.4,167.1 129.2,169 126.2,171.5 124.9,172.9 122,175.8 120,176.8 119.3,180.7 122,181.1 123.5,180.7 126.2,179.1 127.6,180.7 126.2,183.3 125.8,184.6 126.2,185.3 127.5,188.4 126.2,191.6 125.6,192.3 126.2,193 128.3,196.2 126.2,197.6 122,198.6 118.4,200.1 120.6,204 122,204.1 122.6,204 126.2,203.6 130.1,200.1 130.4,199.6 131.2,200.1 133.9,204 130.4,205.7 126.2,205.3 125.6,207.9 126.2,208.8 127.9,211.8 126.2,213.5 122,213.8 119.7,215.7 122,217.7 126.2,217.6 128.5,219.6 126.2,223.4 126.2,223.5 122,226.4 121.1,227.3 121.3,231.2 122,233.8 122.3,235.1 122,236.6 121.1,239 117.8,242.1 117,242.9 117.8,243.5 122,244.1 123.7,246.8 122,249.3 120.3,250.7 122,251.9 124.3,250.7 126.2,249.7 130.4,250.5 131.5,250.7 130.4,251.5 128.5,254.6 130.4,255.1 132.5,258.4 132.6,262.3 134.7,265.1 136.4,266.2 136.8,270.1 138.9,271.8 141,274 143.1,275.2 145.2,277.9 147.3,281.5 151.6,281.4 151.6,281.8 151.6,281.9 147.3,282.2 143.1,285.5 142.9,285.7 143.1,286 147.3,288.9 151.6,287.5 155.8,287.3 158.2,289.6 155.8,292.9 153.5,293.4 155.5,297.3 151.6,298.4 147.3,300.5 146.5,301.2 147.3,302 151.6,304.7 152,305.1 153.9,309 155.8,310.3 159.8,309 158.4,305.1 160,304.5 161.2,305.1 160.1,309 162,312.9 160,315.7 157.2,316.8 160,317.7 164.2,320.2 164.6,320.7 168.4,322.7 171.7,324.6 172.7,325.5 174.5,328.4 176.9,330.2 181.1,328.6 185.3,331.8 186.3,332.3 185.3,334.2 183.1,336.2 185.3,337.2 187.1,340.1 188.7,344 189.6,346.1 193.8,345.7 197.3,347.9 193.8,349.6 191.8,351.8 193.8,355.3 197.2,351.8 198,349.6 199.3,351.8 202.2,353.4 204.5,351.8 206.4,348.3 208.7,351.8 210.7,354.4 213,355.7 214.9,357.5 215.9,359.6 219.1,361.3 223.3,360.3 227.6,363 229.7,359.6 230.5,355.7 231.8,354.4 232.8,355.7 235,359.6 236,361.2 238.7,363.4 240.2,364 244.4,366.5 248.7,366 252.9,365.6 254.3,367.3 252.9,368.8 249.9,371.2 248.7,372.1 245.9,375.1 248.7,378.4 251.5,375.1 252.9,373.5 257.1,374.1 260.4,371.2 261.3,370 265.6,370.7 266.1,371.2 269.8,373.6 274,373 276.3,375.1 274,378.6 273.3,379 274,379.2ZM311.5,382.9L312,383.4 312.9,382.9 312.8,379 312,377.7 310.5,379ZM320.2,382.9L320.4,383 320.5,382.9 320.4,382.8ZM255.5,379L257.1,379.6 261.3,379.5 265.6,380.3 268,379 265.6,376 261.3,378.1 257.1,377.5ZM294.2,379L295.1,379.2 295.5,379 295.1,378.3ZM323.8,375.1L324.7,375.6 325.2,375.1 328.9,371.3 329.2,371.2 328.9,371 324.7,370.9 324.5,371.2ZM357.9,375.1L358.4,375.6 359.1,375.1 358.4,374.5ZM231.6,367.3L231.8,367.5 232,367.3 231.8,364ZM282.4,370.2L279.2,367.3 282.4,366.4 283.9,367.3ZM261.3,364.1L261,363.4 261.3,362.7 262.1,363.4ZM248.7,360.8L247.4,359.6 248.7,358.1 249.9,359.6ZM328.9,361.2L327.2,359.6 328.9,358.4 331.6,359.6ZM370.8,359.6L371.1,359.8 371.9,359.6 371.1,359.1ZM240.2,356.3L239.3,355.7 240.2,354.7 241.9,355.7ZM378.4,351.8L379.6,352.3 380.6,351.8 379.6,351.2ZM167.6,328.4L168.4,328.6 169,328.4 168.4,328ZM414.9,328.4L417.6,329.7 418.7,328.4 417.6,327.4ZM424.2,316.8L426,317.9 427.2,316.8 426,315.7ZM176.9,312.9L176.8,312.9 176.9,312.8 176.9,312.9ZM413.3,314.1L412.6,312.9 413.3,311.9 413.9,312.9ZM142.6,305.1L143.1,305.1ZM168.4,305.7L167.8,305.1 168.4,304.8 168.9,305.1ZM438.1,305.1L438.7,306.3 439.7,305.1 438.7,301.9ZM426,302.4L424.6,301.2 426,300.1 427.2,301.2ZM430.2,299.4L427.9,297.3 430.2,295.3 434.4,296.2 435,297.3 434.4,298.4ZM450.8,297.3L451.3,297.8 451.8,297.3 451.3,296.2ZM447.4,277.9L451.3,279.3 453,277.9 451.3,276.7ZM442.9,268.5L440.9,266.2 442.9,264.9 444.4,266.2ZM138.9,264.9L136.6,262.3 138.9,260.4 140,262.3ZM462.7,254.6L464,256.9 467.7,254.6 464,252.7ZM109.3,250.7 109.4,250.7 109.3,250.6ZM458.4,250.7L459.8,251 460.4,250.7 459.8,249.3ZM453.6,246.8L455.6,248.6 457.6,246.8 455.6,245.2ZM113,235.1L113.6,236 114.4,235.1 113.6,234.1ZM117.5,219.6L117.8,219.8 118.3,219.6 117.8,219ZM112.7,215.7L113.6,216 114.3,215.7 113.6,215.5ZM117.5,211.8L117.8,212.9 118.8,211.8 117.8,211.2ZM463.8,211.8L464,211.8 464.1,211.8 464,211.7ZM113.2,204L113.6,205 116.5,204 113.6,203.5ZM112.4,196.2L113.6,197.9 115.1,196.2 113.6,193.8ZM116.6,192.3L117.8,192.8 118.5,192.3 117.8,190.3ZM138.9,193.1L136.9,192.3 138.9,191.2 140,192.3ZM451.3,192.4L451.2,192.3 451.3,188.6 451.7,192.3ZM118.6,188.4L122,190.1 124,188.4 122,187.3ZM147.3,176.8L146,176.8 147.3,176.2 147.4,176.8ZM442.9,177.7L441.8,176.8 442.9,176.3 443.5,176.8ZM138.9,173.7L138.2,172.9 138.9,172.5 139.2,172.9ZM143.1,169.4L142.6,169 140.7,165.1 143.1,164.8 144.8,165.1 143.5,169ZM125.5,161.2L126.2,163.7 127.1,161.2 126.2,160.3ZM446.9,149.6L447.1,149.7 447.3,149.6 447.1,149.5ZM424.3,130.1L426,131.5 427.2,130.1 426,127.5ZM413.3,126.8L412.8,126.2 413.3,125.4 414,126.2ZM168.4,120.3L166.1,118.4 168.4,116.5 169.6,118.4ZM185.3,118.7L184.5,118.4 185.3,118.1 185.7,118.4ZM155.6,114.6L155.8,114.6 155.9,114.6 155.8,114.5ZM425.8,114.6L426,114.8 426.2,114.6 426,114.3ZM404.9,111.7L404.1,110.7 404.9,109.9 406.1,110.7ZM198,103.4L196.7,102.9 198,101.5 198.5,102.9ZM400.1,95.1L400.7,95.7 401.6,95.1 400.7,94.7ZM188.2,91.2L189.6,93.5 191,91.2 189.6,89.4ZM350,92.4L349.2,91.2 350,89.4 350.9,91.2ZM377.8,87.3L379.6,88.3 380.4,87.3 379.6,86.4ZM223.3,84.9L221,83.4 223.3,82 224.3,83.4ZM236,84.3L233.2,83.4 236,82 236.8,83.4ZM209.5,79.6L210.7,79.8 212.2,79.6 210.7,79.3ZM240.2,79.6L240.1,79.6 240.2,79.4 240.3,79.6ZM282.4,80.2L281.8,79.6 282.4,78.3 284,79.6ZM337.3,80.5L336.1,79.6 337.3,78 338.6,79.6ZM274,71.8ZM290.9,72.2L288.8,71.8 289.5,67.9 290.9,67.4 291.4,67.9 292.6,71.8ZM253.6,64L257.1,65.9 261.3,64.5 263.6,64 261.3,63.8 257.1,61.9ZM274,52.3L274,52.4 274,52.3ZM281.8,347.9L282.4,348.3 282.9,347.9 282.4,345.8ZM303.1,347.9L303.6,348.8 304.2,347.9 303.6,346.5ZM269,344L269.8,344.9 271.9,344 271.4,340.1 274,339.2 275.1,340.1 277.2,344 278.2,344.3 279.9,344 282.4,340.1 282.9,344 286.7,345.6 289.3,344 290.9,342.1 293.6,344 295.1,345.7 296.6,344 299.3,340.6 303.6,341.9 307.6,344 307.8,344.1 307.9,344 308.5,340.1 312,337.5 316.2,338.6 319.7,340.1 320.4,340.4 322.7,340.1 324,336.2 324.7,335.4 325.9,336.2 325.3,340.1 328.9,341 333.1,340.7 333.7,340.1 337.3,336.7 341.6,336.3 341.6,336.2 344.4,332.3 341.6,331 340.8,328.4 341.6,327.5 345.7,328.4 345.8,328.7 350,328.7 350.2,328.4 352.4,324.6 354.2,323.4 356.2,324.6 358.4,327.9 360.4,324.6 358.4,322.7 357,320.7 358.4,319.3 361.8,320.7 362.7,321.4 366.9,320.7 367,320.7 366.9,317.5 366.5,316.8 366.2,312.9 366.9,311.9 371.1,310.3 375.3,312 377.9,309 379.6,306.4 383.8,306.4 384.3,305.1 387.7,301.2 388,298.9 390.1,301.2 392.2,301.7 396.4,301.9 397.2,301.2 396.4,300.2 393.4,297.3 396.4,295.2 398.5,293.4 396.4,291.3 395,289.6 396.4,287.7 399.8,289.6 400.7,290.2 401.2,289.6 400.7,287 400.2,285.7 400.7,285.2 402.4,281.8 404.9,278.4 408.2,277.9 409.1,277.6 411,274 412,270.1 411.8,266.2 413.3,262.8 416.4,262.3 417.6,262.3 420.7,258.4 421.8,254.8 421.8,254.6 425.2,250.7 424.1,246.8 421.8,243.6 421.1,242.9 421.8,239.4 421.8,239 421.8,238.9 421.7,239 417.6,240.5 416.5,239 417.6,237.4 420,235.1 421.8,233.5 426,234.2 428.4,231.2 426,228.5 421.8,229.5 420.2,227.3 421.8,224 422.4,223.4 421.8,221.7 420.6,219.6 421.8,218.3 423.2,215.7 422.1,211.8 424.2,207.9 423.6,204 425,200.1 421.8,197.6 419.3,200.1 417.6,203.2 416.5,200.1 415.7,196.2 415.6,192.3 417.6,191.2 419.2,188.4 418,184.6 417.6,184.2 413.3,183.2 411.8,180.7 413.3,178.7 416.9,176.8 414,172.9 413.3,171.3 409.1,169.4 404.9,169.1 404.7,169 402.9,165.1 400.7,161.9 400.5,161.2 398.7,157.3 396.4,154 395.2,153.4 396.1,149.6 396.4,149 397.8,145.7 397.3,141.8 396.4,140.1 393.1,137.9 393.7,134 392.2,132.6 389.1,134 388,136.5 387.3,134 383.8,130.5 379.6,133.3 378.1,130.1 379.6,126.5 379.8,126.2 379.6,126 377.7,126.2 375.3,126.4 374.4,126.2 371.1,125.1 366.9,122.5 366,122.3 362.7,119.9 360.5,118.4 362.7,117.5 365.9,114.6 362.7,112.5 359.6,114.6 358.4,116.8 354.2,115.2 353.7,114.6 350,111.4 349.6,110.7 350,109.9 350.8,106.8 350,106.1 348,106.8 345.8,108 343,110.7 341.6,112.1 340.4,110.7 339.9,106.8 337.3,105 336,106.8 333.2,110.7 333.1,110.8 333,110.7 329.1,106.8 328.9,106.6 327.1,106.8 324.7,106.9 324.5,106.8 320.4,104.3 316.8,102.9 316.2,99.8 314.9,102.9 312,103.8 311,102.9 308.1,99 307.8,98.9 303.6,98.5 299.8,95.1 299.3,93.5 295.1,93.6 292.3,95.1 294.7,99 290.9,101 290.3,99 286.7,95.3 282.5,99 282.4,100.5 282.4,99 280,95.1 278.2,94.6 277.5,95.1 274.9,99 274,100.6 272.4,102.9 269.8,104.3 267.2,102.9 269.8,99.5 270.9,99 269.8,98.2 265.6,97.2 261.3,97.1 258,99 257.9,102.9 257.1,106 252.9,103.9 248.7,104.3 244.4,106.1 243.6,106.8 240.7,110.7 240.2,111.4 236,113.2 231.9,110.7 231.8,110.4 227.6,109.6 226.5,110.7 227.2,114.6 223.3,116.1 221.2,118.4 219.1,121.3 217.6,122.3 217.6,126.2 214.9,126.4 214.3,126.2 210.7,122.3 211,118.4 210.7,118.2 210.4,118.4 210.6,122.3 209.2,126.2 207.7,130.1 206.4,131.5 204.7,130.1 202.2,128.8 198,127.3 197.2,130.1 198,133.9 202.2,133.4 202.8,134 202.2,134.3 198,134.1 193.8,136.8 191.6,137.9 193.8,141.3 194.1,141.8 193.8,142.4 189.6,142.8 187.2,145.7 185.3,148.3 181.1,149.4 180.7,149.6 181.1,150.3 181.7,153.4 181.1,156.5 176.9,156.9 176.5,157.3 176.9,157.9 181.1,157.7 182.4,161.2 181.8,165.1 181.1,165.6 176.9,168 173.9,165.1 172.7,163.4 171.6,165.1 171.9,169 172.7,172.3 173.4,172.9 174.3,176.8 172.7,179.2 170.3,176.8 168.4,175.2 164.2,175.9 160.4,176.8 164.2,177.1 167.9,180.7 168.4,181.6 169.8,184.6 171.4,188.4 170,192.3 168.5,196.2 168.4,196.4 168.2,196.2 164.2,192.7 163.5,196.2 164.2,199 165.3,200.1 166.6,204 167.4,207.9 168.4,211.8 164.2,214.2 162.9,215.7 164.2,218.3 165,219.6 164.2,220.7 163.3,223.4 164.1,227.3 164.1,231.2 164.2,231.3 165.4,235.1 164.2,238.4 160,237.8 158.5,239 160,240.5 163.9,242.9 164.2,243 168.4,246.7 169.1,246.8 168.4,246.8 164.3,250.7 164.2,250.7 161.9,254.6 163.6,258.4 164.1,262.3 164.2,262.7 164.4,262.3 164.9,258.4 168.4,255.1 172.4,258.4 172.7,259 173.7,262.3 176.9,265.5 181.1,265.5 181.7,266.2 181.1,266.6 176.9,267.1 175,270.1 173.2,274 172.7,275 171.8,277.9 172.7,278.3 174.3,277.9 176.9,276.4 178.5,277.9 179.3,281.8 179.9,285.7 181.1,286.6 182.1,285.7 183.9,281.8 185.3,280.4 186.1,281.8 187.7,285.7 189.6,288 193.8,289.1 198,289.4 198.2,289.6 198,290.1 193.8,290.3 191.7,293.4 193.4,297.3 193.8,298.2 195.1,297.3 198,295.3 199,297.3 199.4,301.2 202.2,303.5 205,305.1 206.4,306.9 208.7,309 210.7,310.8 213.5,312.9 214.9,313.6 219.1,315.4 223,316.8 223.3,316.9 227.6,317.5 229.4,320.7 231.1,324.6 227.6,326.6 225.9,328.4 227.6,330 231.3,328.4 231.8,327.1 233.3,328.4 236,330.1 240.2,328.9 244.1,332.3 244.4,332.5 248.6,332.3 247.4,328.4 248.7,327.5 249.6,328.4 248.8,332.3 248.7,332.4 248,336.2 248.7,336.7 252.9,336.3 253,336.2 257.1,334.2 259.3,332.3 261.3,330 263.5,332.3 261.3,334.8 260,336.2 261.3,337.9 265.6,339.9 266.4,340.1ZM221.3,324.6L223.3,325.5 224.6,324.6 223.3,323.5ZM382.1,312.9L383.8,313.4 385.6,312.9 383.8,310.7ZM210.7,306.1L209.5,305.1 210.7,303.6 211.3,305.1ZM401.6,285.7L404.9,286.5 405.8,285.7 404.9,284.7ZM408.7,281.8L409.1,282.1 409.6,281.8 409.1,279.1ZM417.1,274L417.6,274.3 418.1,274 417.6,273.2ZM413.3,260.7L413.1,258.4 413.3,258.1 413.6,258.4ZM413.3,247.3L412.9,246.8 413.3,246.4 417.6,246.2 418.4,246.8 417.6,247.6ZM430,246.8L430.2,246.9 430.3,246.8 430.2,246.7ZM155.7,235.1L155.8,235.3 156,235.1 155.8,234.2ZM168.4,231.8L164.4,231.2 168.4,230.9 168.9,231.2ZM159.4,211.8L160,212.6 161.1,211.8 160,210.2ZM413.3,208.6L412.3,207.9 413.3,207.3 417.2,207.9ZM163.5,184.6L164.2,186.2 165.7,184.6 164.2,183.8ZM409.1,177.4L408.4,176.8 409.1,175.1 410.3,176.8ZM400.7,173.2L399.7,172.9 400.7,172.2 401.1,172.9ZM185.3,157.6L182.8,157.3 185.3,157.1 185.7,157.3ZM402.5,157.3L404.9,160.2 406.7,157.3 404.9,155.3ZM168,149.6L168.4,150 169.6,149.6 168.4,149.1ZM388,146.1L387,145.7 388,144.4 389.1,145.7ZM180.6,141.8L181.1,142.5 182.1,141.8 181.1,141ZM248.7,114.6L248.6,114.6 248.7,114.5 248.7,114.6ZM358.4,110.7L358.4,110.8 358.5,110.7 358.4,110.6ZM278.2,105.6L275.9,102.9 278.2,101.7 282.2,102.9ZM303.6,103.5L302.7,102.9 303.6,100.5 304.4,102.9ZM284.9,91.2L286.7,94.7 289.9,91.2 286.7,89.8ZM298.7,320.7L299.3,321.2 300.6,320.7 299.3,319ZM289.8,316.8L290.9,317.7 295.1,317.3 296.8,316.8 298.7,312.9 299.3,312.4 302.9,312.9 303.6,313.1 307.8,315.1 308.3,312.9 310.9,309 312,307.7 316.2,308.1 317.4,309 320,312.9 320.4,313.2 324.7,315.7 327.7,312.9 324.7,309.1 324.6,309 324.7,309 328.9,308.6 333.1,307.9 337.3,307.2 339.1,305.1 341.4,301.2 341.6,300 345.8,300.4 350,299.4 354.2,298.4 356.5,297.3 358.4,296.8 362.7,294.2 364.5,293.4 362.7,291.7 362,289.6 362.5,285.7 362.7,285.3 363.4,285.7 366.9,287.5 368,285.7 369.5,281.8 371.1,280.9 373.6,277.9 373.9,274 375.3,271.3 379.6,271.3 383.8,271.5 385.2,270.1 383.8,268.4 379.6,267.8 378.8,266.2 379.6,264.8 383.8,264 388,262.6 388.4,262.3 388,261.7 384.9,258.4 386.2,254.6 385.1,250.7 388,248 391.9,246.8 392,242.9 390.8,239 392.2,238.4 395.2,235.1 392.2,232.5 390.6,231.2 391.4,227.3 391.4,223.4 392.2,221.9 394.6,219.6 394.2,215.7 392.2,212.9 390.8,211.8 391.6,207.9 392.2,207 393.7,204 393.6,200.1 392.9,196.2 392.2,195.7 388,193 387.4,192.3 388,190.7 389,188.4 388,187.6 383.8,186.8 380.1,184.6 383.8,181.2 384.1,180.7 384.1,176.8 383.8,176.6 379.6,176.2 377.6,172.9 375.3,171.6 373.5,169 375.3,165.7 376.1,165.1 375.3,163.1 373.2,165.1 371.1,165.6 370.6,165.1 371,161.2 368.1,157.3 366.9,156.6 363.5,153.4 362.7,150.7 360.4,153.4 358.4,154.1 356.1,153.4 358,149.6 354.2,146.4 350,147 347.6,145.7 346.8,141.8 345.8,140.8 343.8,141.8 341.6,143 337.3,141.9 337,141.8 337.1,137.9 337.3,137.6 341.6,136.5 344.3,134 341.6,131.4 337.3,131.8 335.1,134 333.1,135.6 330.4,137.9 328.9,138.5 327.7,137.9 324.7,135.5 323.4,134 320.4,130.7 319.9,130.1 317,126.2 316.2,124.5 312.2,122.3 312,122.3 311.9,122.3 308.1,126.2 307.8,126.9 303.6,127.2 302.6,126.2 299.3,124.3 295.1,124.8 290.9,124.7 289.6,122.3 286.7,119 282.4,120.4 280.9,122.3 278.2,123.9 275.9,122.3 274,121.2 272.6,122.3 272.6,126.2 269.8,129.6 268.9,130.1 265.6,131.4 262.6,130.1 261.3,129.4 260.6,130.1 257.1,132.7 254.5,134 252.9,135.2 250.6,134 248.7,133.4 245.3,134 244.4,134.6 240.9,137.9 240.2,138.3 239.8,137.9 236,135.6 234.1,137.9 233.7,141.8 232.9,145.7 231.8,146.6 228.1,149.6 227.6,150 223.3,150.6 222.6,153.4 219.1,155 216.8,157.3 214.9,159.3 210.7,161.1 210.6,161.2 210.6,165.1 206.4,167.6 204.9,169 206.3,172.9 202.2,175.7 201.5,176.8 202.2,178 206.4,178.8 207.8,180.7 206.4,183 203.4,184.6 202.2,186.5 201.1,188.4 198,190.1 195.6,192.3 196.8,196.2 193.8,199.1 189.6,197.9 188.9,200.1 189.6,200.9 193.7,204 189.9,207.9 193.8,210.2 194.6,211.8 193.8,212.9 190.2,215.7 189.6,216.1 187.4,219.6 189.6,221.9 191.4,223.4 191.3,227.3 192,231.2 193.8,233.6 195.2,235.1 193.8,236.2 191.4,239 190,242.9 193.8,245.5 195.8,246.8 195.7,250.7 197,254.6 198,255.2 201.3,254.6 202.2,254.2 202.5,254.6 202.3,258.4 202.2,258.6 200.5,262.3 201.2,266.2 202.2,266.8 206.4,266.7 208.2,270.1 209.3,274 210.7,275.2 214.9,276.6 216.2,277.9 214.9,279.6 213.1,281.8 214.9,283.7 218.6,285.7 219.1,286.2 221.3,289.6 223.3,292.4 226.2,293.4 227.6,294.1 230.7,297.3 231.8,297.8 236,299.2 240.2,299.9 241.6,301.2 244.4,304.8 244.7,305.1 248.7,308.1 252.9,308.4 257.1,308 258.7,309 260.1,312.9 261.3,313.9 265.6,313.4 269.8,314.9 274,314.4 278.2,314.7 282.4,314.1 286.7,315.3ZM235.6,305.1L236,305.5 236.8,305.1 236,304.1ZM205.5,277.9L206.4,279 208,277.9 206.4,276.4ZM206.4,264.4L205.3,262.3 206.4,262 207.5,262.3ZM391.4,254.6L392.2,255.3 392.8,254.6 392.2,253.2ZM398.9,207.9L400.7,209 401.2,207.9 400.7,207.5ZM193,180.7L193.8,182.4 195.5,180.7 193.8,179.4ZM219.1,165.3L218.3,165.1 219.1,164.9 219.5,165.1ZM252,130.1L252.9,132.2 254.1,130.1 252.9,129.2ZM282.4,130.5L281.2,130.1 280.7,126.2 282.4,123.8 283.6,126.2 282.8,130.1ZM328.7,130.1L328.9,130.5 329,130.1 328.9,129.9ZM306.4,301.2L307.8,301.9 309.4,301.2 309.8,297.3 312,294.4 316.2,295.3 319.3,293.4 320.4,293 324.7,292.1 328.9,289.8 330.4,289.6 333.1,288.8 335.6,289.6 337.3,289.9 337.7,289.6 341.6,285.7 344.7,281.8 345.8,281 348.7,281.8 350,282.3 350.6,281.8 352.3,277.9 354.2,276.3 356.4,274 358.4,272.2 361.4,270.1 362.7,268.6 364.3,266.2 365,262.3 366.9,259.8 367.7,258.4 369.1,254.6 369.5,250.7 369.9,246.8 371.1,244.9 373.4,242.9 375.3,239.1 375.4,239 375.5,235.1 376,231.2 375.3,228.8 374,227.3 374.7,223.4 375.3,222.4 379.6,220.5 380,219.6 379.6,218 377.1,215.7 375.5,211.8 375.3,210.8 374.7,207.9 375.3,206.7 376.7,204 375.3,201.9 372.6,200.1 373.5,196.2 372.8,192.3 371.1,190.4 369.5,188.4 367.3,184.6 366.9,184.4 363.2,180.7 362.7,180.1 360.8,180.7 358.4,181.3 357.8,180.7 358.4,176.8 354.2,174.6 352.9,172.9 350.5,169 350,168.7 345.8,167.7 343.2,165.1 345.8,161.3 345.9,161.2 345.8,161.1 341.6,160.8 337.3,158.3 333.1,158.7 328.9,157.7 328.5,157.3 328.9,156.7 331.4,153.4 328.9,152.3 326.3,153.4 324.7,154.3 322.5,153.4 320.4,151.8 316.2,150.5 315.5,149.6 312,147.1 307.8,148.4 303.6,149.4 299.3,148 296,145.7 296.3,141.8 295.1,140.8 292.7,141.8 290.9,144.8 290,145.7 290.9,148.6 291.1,149.6 290.9,149.7 286.7,151 283.7,149.6 282.4,148 280,149.6 278.2,150.6 274,149.6 269.8,152.2 265.6,151.4 261.3,152.8 257.1,152.6 252.9,153.3 252.8,153.4 250.8,157.3 250.1,161.2 248.7,162 245.7,161.2 245.7,157.3 244.4,156.7 243.7,157.3 242.2,161.2 244.4,164.9 244.5,165.1 244.4,165.2 240.2,165.2 236,166.5 233.8,169 231.8,172.8 231.2,172.9 227.6,173.8 225.5,176.8 224.2,180.7 223.3,182.8 219.1,184.5 219.1,184.6 216.8,188.4 217.2,192.3 215.4,196.2 214.9,198.3 213.7,200.1 214.9,201.2 215.4,204 214.9,205 213.4,207.9 211.8,211.8 210.7,212.5 208.9,215.7 210.7,218.9 211.8,219.6 212.6,223.4 210.7,227.1 209.1,227.3 209.1,231.2 210.7,232.9 213.2,235.1 213.3,239 214.9,240.5 215.9,242.9 216.3,246.8 219.1,250.7 221.3,254.6 223.3,257.8 223.9,258.4 225.1,262.3 227.6,264.8 229.8,266.2 231.8,268.2 236,269.9 236.7,270.1 236,272.6 231.8,273.3 231.4,274 231.8,274.4 235.5,277.9 236,278.8 240.2,280.7 241.4,281.8 243.3,285.7 244.4,286.4 245.8,285.7 248.7,283.2 252.9,285 253.5,285.7 255.8,289.6 257.1,290.3 261.3,292.6 263.6,293.4 265.6,294.5 269.1,297.3 269.8,297.6 270.5,297.3 274,296 276.2,297.3 278.2,299.7 281.3,297.3 282.4,296.3 283.2,297.3 286.7,299.4 290.6,297.3 290.9,297 295.1,294 296,297.3 299.3,298.7 303.6,298ZM265.6,292.3L264.1,289.6 265.6,288.4 267.5,289.6ZM222.3,266.2L223.3,266.8 224.5,266.2 223.3,265.3ZM358.4,262.4L358.4,262.3 358.7,262.3ZM371.1,231.5L371,231.2 371.1,230.1 372.6,231.2ZM366.9,200.3L366.8,200.1 366.9,199.6 368.2,200.1ZM288.4,281.8L290.9,283.4 295.1,282.5 299.3,285.6 303.6,284.4 307.1,281.8 307.8,281.3 308.4,281.8 312,284.9 316.2,281.8 316.2,281.7 320.4,278.2 321.1,277.9 324.7,276.7 328.9,277.4 332.5,274 333.1,272.6 337.3,272.9 339.1,270.1 340,266.2 341.6,265.6 345.8,264.9 347.3,262.3 348.7,258.4 349.1,254.6 350,252.9 353.6,254.6 354.2,254.8 354.4,254.6 357.1,250.7 356.4,246.8 356,242.9 356.9,239 358.4,236.6 361.8,235.1 360.4,231.2 361.9,227.3 362.7,223.8 362.8,223.4 362.7,223.3 360.5,219.6 360.3,215.7 362.2,211.8 362.7,211.3 363.8,207.9 362.7,206.8 358.4,204.6 358.1,204 358.4,203.7 361.6,200.1 358.9,196.2 358.4,193.9 354.2,193.4 352.5,192.3 350,189.4 349,188.4 347.1,184.6 346.1,180.7 345.8,180 341.8,176.8 341.6,176.3 337.3,175.1 335.9,172.9 333.1,171.1 331.1,169 328.9,167.2 324.7,165.2 324.7,165.1 320.4,162.2 318.6,161.2 316.2,160.4 314.2,161.2 316.2,164 316.9,165.1 316.2,165.5 312,165.9 310.4,165.1 308.7,161.2 307.8,160.5 305.2,157.3 303.6,156.6 299.3,156.8 298.4,157.3 295.1,160.9 290.9,159.4 287,161.2 286.7,161.5 286.5,161.2 282.4,158.7 279.3,161.2 278.2,162.3 276.1,161.2 274,160 272.1,161.2 269.8,162.2 265.6,164.8 265.3,165.1 261.3,167.8 257.1,166.7 253.6,169 253.2,172.9 252.9,173.1 248.7,174 244.4,175.6 243.6,176.8 240.9,180.7 240.4,184.6 240.2,184.8 237,188.4 236,189.5 233.1,192.3 231.8,194.7 230.6,196.2 228,200.1 227.6,204 227.6,204.1 225.4,207.9 225.5,211.8 226.5,215.7 223.3,218.4 222.6,219.6 222.7,223.4 223.3,225 225,227.3 225.4,231.2 225,235.1 223.3,238.5 223.1,239 223.3,239.6 227.6,240.2 231.4,242.9 227.7,246.8 230.5,250.7 231.8,251.4 235.8,254.6 236,254.8 238.6,258.4 239.1,262.3 240.2,263.6 243.1,262.3 244.4,261.2 244.9,262.3 245.1,266.2 248.4,270.1 248.7,270.6 250.1,270.1 252.9,269.7 254.1,270.1 257.1,272.9 261.3,273.3 262.2,274 263.3,277.9 265.6,278.4 269.8,278.4 274,279.9 278.2,281.1 282.4,280.6 286.7,280.9ZM294.8,274L295.1,274.3 299.3,274.4 301.3,274 299.3,273.1 297,270.1 299.3,268.9 301.9,270.1 303.6,272.7 307.8,270.8 312,270.8 313.2,270.1 316.2,268.3 320.3,266.2 320.4,265.5 324.7,263.3 328.9,262.8 330.3,262.3 330.6,258.4 333.1,254.6 333.6,254.6 336.8,250.7 337.3,250.2 340.3,246.8 341.6,245.1 344.1,242.9 344.5,239 344.9,235.1 345.2,231.2 345.2,227.3 345.8,224.3 346.2,223.4 345.8,222.8 344.9,219.6 345.7,215.7 344.6,211.8 344.1,207.9 343.7,204 342.8,200.1 341.6,197.8 340,196.2 337.3,193.8 336.6,192.3 333.1,189.9 330.2,188.4 330.6,184.6 328.9,183.6 324.7,181.2 322.9,180.7 320.4,177.9 318.8,176.8 316.2,175.3 312,175.1 307.8,174.9 303.6,172.9 299.3,173 299.2,172.9 295.1,171 290.9,170.8 286.7,170.9 282.4,171.4 279.7,172.9 278.2,173.3 274,174.6 269.8,174.8 267,176.8 265.6,177.8 262.7,180.7 261.3,181.7 257.9,180.7 257.1,180.3 256.8,180.7 255.6,184.6 254.1,188.4 252.9,189.4 248.7,191.1 246.3,192.3 245.8,196.2 244.4,198.3 243,200.1 240.5,204 240.5,207.9 240.8,211.8 240.2,213.2 237.6,215.7 238.6,219.6 237.4,223.4 240.2,227.1 240.4,227.3 240.2,227.9 239.3,231.2 240.2,233.9 240.9,235.1 240.9,239 244.4,241.5 246,242.9 247.6,246.8 247.7,250.7 248.7,253.7 252.1,254.6 252.9,254.6 257.1,256.9 258.2,258.4 261.3,260.6 265,262.3 265.6,263 269.8,264.1 272.5,266.2 274,268.3 277.4,270.1 278.2,270.3 278.9,270.1 282.4,268.8 284.8,270.1 286.7,271.3 290.9,271.1ZM256.7,262.3L257.1,262.6 257.7,262.3 257.1,261.3ZM284.4,262.3L286.7,262.9 290.9,263 294.7,262.3 295.1,262.2 295.4,262.3 299.3,263.2 302.3,262.3 303.6,261.6 307.8,259.7 312,258.8 313,258.4 316.2,257.4 320.4,255.1 321,254.6 324.7,251.6 326,250.7 328.6,246.8 328.9,246.5 331.1,242.9 333.1,240.6 334.2,239 335.3,235.1 336.1,231.2 337.3,229.3 338.3,227.3 337.3,223.6 337.3,223.4 337.3,222.8 337.6,219.6 337.8,215.7 337.3,214.3 336.1,211.8 334.9,207.9 333.4,204 333.1,203.3 331.1,200.1 329.4,196.2 328.9,195.5 325,192.3 324.7,192 320.4,188.5 320.3,188.4 316.2,186.8 312.9,184.6 312,183.9 307.8,182.3 303.6,181.4 301.7,180.7 299.3,180.1 295.1,179.6 290.9,179.9 286.7,179.8 282.4,180.5 281.9,180.7 278.2,182.6 274,183.9 269.8,184.4 269.3,184.6 266.6,188.4 265.6,189.4 261.8,192.3 261.3,192.8 257.1,195.7 256.5,196.2 255,200.1 252.9,201.9 251.7,204 251.5,207.9 249.2,211.8 248.7,215.7 248.9,219.6 249,223.4 249.9,227.3 250.6,231.2 252.4,235.1 252.9,237.5 253.2,239 255.6,242.9 257.1,246 257.9,246.8 261.3,250.7 265.6,252.9 268.5,254.6 269.8,255.1 272.6,258.4 274,259.2 277.9,258.4 278.2,258.3 278.5,258.4 282.4,261Z"/></g>
<rect x="84.5" y="29.5" width="417.5" height="384.5" fill="none" stroke="#000" stroke-width="1.6"/>
<rect x="520.5" y="29.4" width="23.0" height="384.8" fill="url(#hot)" stroke="#000" stroke-width="1.6"/>
<path stroke="#000" stroke-width="1.6" fill="none" d="M520.5,399.7h6.5M543.5,399.7h-6.5M520.5,353.5h6.5M543.5,353.5h-6.5M520.5,307.2h6.5M543.5,307.2h-6.5M520.5,261.0h6.5M543.5,261.0h-6.5M520.5,214.8h6.5M543.5,214.8h-6.5M520.5,168.5h6.5M543.5,168.5h-6.5M520.5,122.3h6.5M543.5,122.3h-6.5M520.5,76.1h6.5M543.5,76.1h-6.5M520.5,29.9h6.5M543.5,29.9h-6.5"/>
<g font-family="Liberation Serif, serif" font-size="19" fill="#000" stroke="#000" stroke-width="0.25"><text transform="translate(552.0,406.5) scale(1.070,1)">0.1</text><text transform="translate(552.0,360.3) scale(1.070,1)">0.2</text><text transform="translate(552.0,314.0) scale(1.070,1)">0.3</text><text transform="translate(552.0,267.8) scale(1.070,1)">0.4</text><text transform="translate(552.0,221.6) scale(1.070,1)">0.5</text><text transform="translate(552.0,175.3) scale(1.070,1)">0.6</text><text transform="translate(552.0,129.1) scale(1.070,1)">0.7</text><text transform="translate(552.0,82.9) scale(1.070,1)">0.8</text><text transform="translate(552.0,36.7) scale(1.070,1)">0.9</text><text transform="translate(75.2,385.1) scale(1.120,1)" text-anchor="end">10</text><text transform="translate(75.2,346.7) scale(1.120,1)" text-anchor="end">20</text><text transform="translate(75.2,308.4) scale(1.120,1)" text-anchor="end">30</text><text transform="translate(75.2,270.0) scale(1.120,1)" text-anchor="end">40</text><text transform="translate(75.2,231.6) scale(1.120,1)" text-anchor="end">50</text><text transform="translate(75.2,193.3) scale(1.120,1)" text-anchor="end">60</text><text transform="translate(75.2,154.9) scale(1.120,1)" text-anchor="end">70</text><text transform="translate(75.2,116.5) scale(1.120,1)" text-anchor="end">80</text><text transform="translate(75.2,78.1) scale(1.120,1)" text-anchor="end">90</text><text transform="translate(75.2,39.8) scale(1.120,1)" text-anchor="end">100</text><text transform="translate(123.3,437.3) scale(1.120,1)" text-anchor="middle">10</text><text transform="translate(164.9,437.3) scale(1.120,1)" text-anchor="middle">20</text><text transform="translate(206.5,437.3) scale(1.120,1)" text-anchor="middle">30</text><text transform="translate(248.1,437.3) scale(1.120,1)" text-anchor="middle">40</text><text transform="translate(289.7,437.3) scale(1.120,1)" text-anchor="middle">50</text><text transform="translate(331.2,437.3) scale(1.120,1)" text-anchor="middle">60</text><text transform="translate(372.8,437.3) scale(1.120,1)" text-anchor="middle">70</text><text transform="translate(414.4,437.3) scale(1.120,1)" text-anchor="middle">80</text><text transform="translate(456.0,437.3) scale(1.120,1)" text-anchor="middle">90</text><text transform="translate(497.6,437.3) scale(1.120,1)" text-anchor="middle">100</text><text transform="translate(298.0,470.3) scale(1.120,1)" text-anchor="middle"><tspan font-style="italic">X</tspan> axis (Km)</text><text transform="translate(37.0,226.0) rotate(-90) scale(1.120,1)" text-anchor="middle"><tspan font-style="italic">Y</tspan> axis (Km)</text></g>
</svg></body></html>
